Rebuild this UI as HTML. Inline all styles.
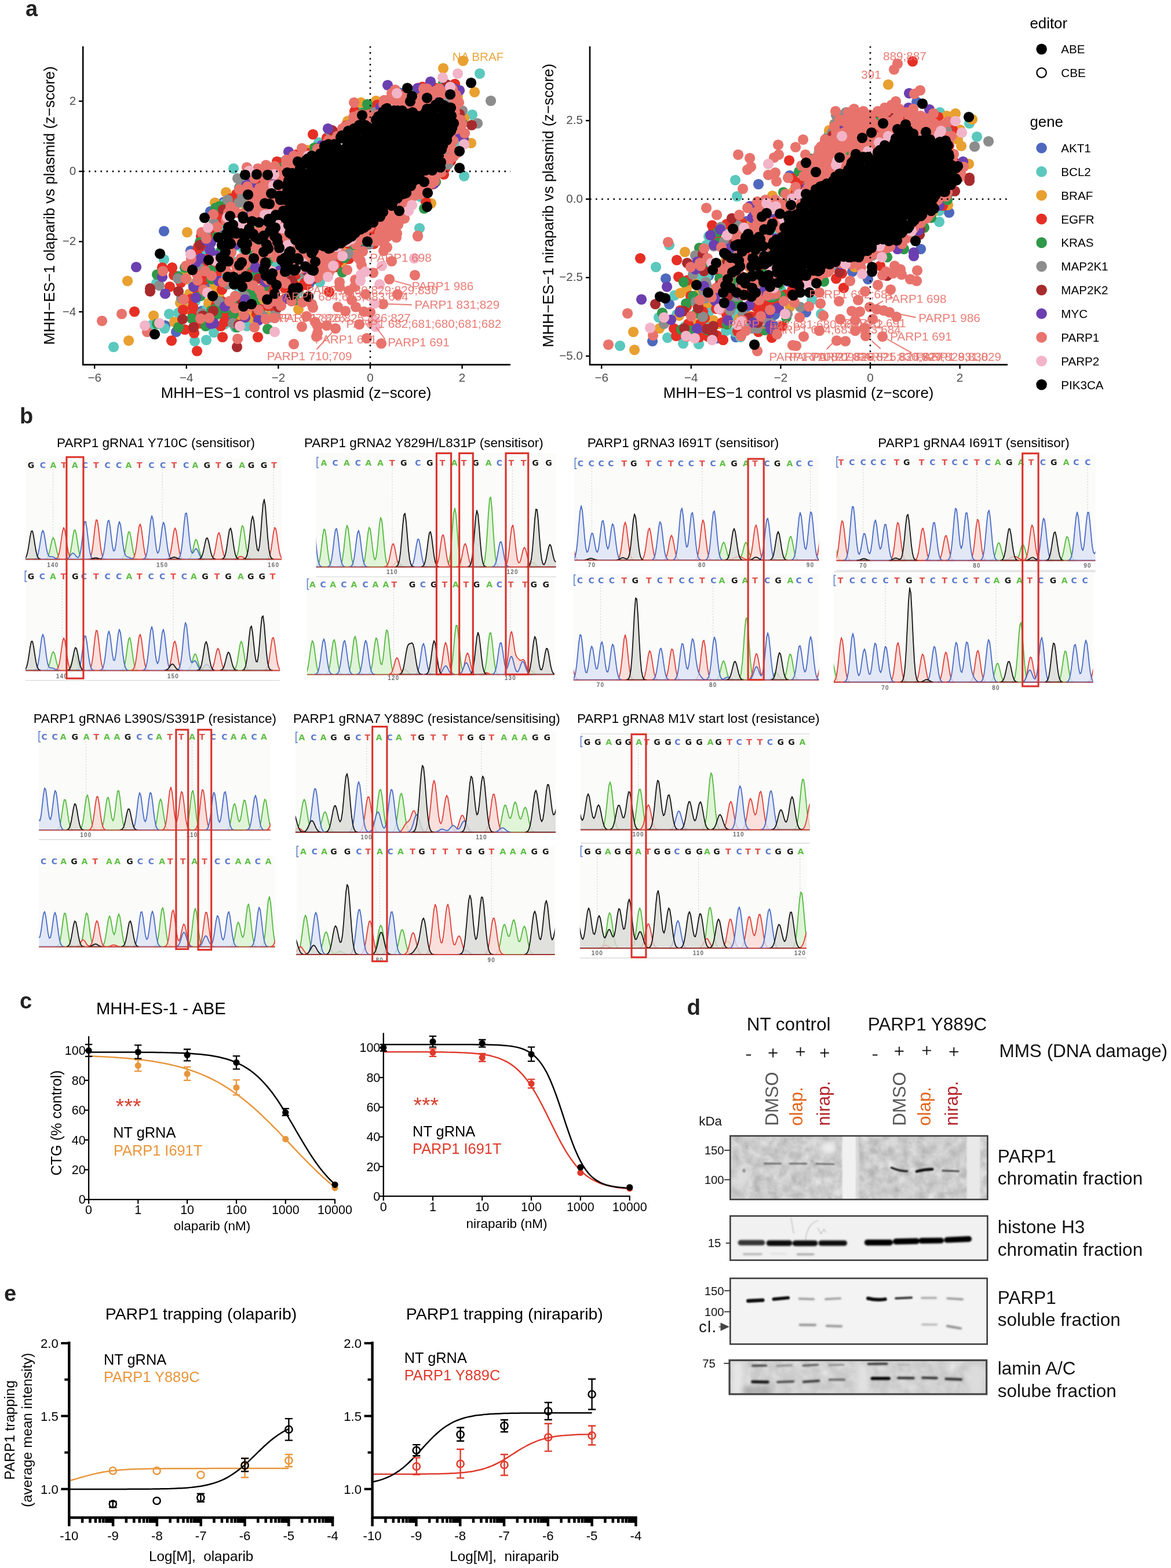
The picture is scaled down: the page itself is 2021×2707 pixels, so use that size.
<!DOCTYPE html>
<html lang="en"><head><meta charset="utf-8"><title>PARP1 base editing figure</title>
<style>
html,body{margin:0;padding:0;background:#fff}
body{width:2021px;height:2707px;overflow:hidden}
svg{display:block;font-family:"Liberation Sans", Arial, Helvetica, sans-serif}
.sq{font:bold 14px "DejaVu Sans","Liberation Sans",sans-serif;text-anchor:middle}
</style></head><body>
<svg width="2021" height="2707" viewBox="0 0 2021 2707">
<rect width="2021" height="2707" fill="#fff"/>
<text x="44.0" y="27.5" font-size="38" font-weight="bold" fill="#222">a</text>
<path d="M689 160h.1M351 438h.1M443 524h.1M358 488h.1M534 489h.1M348 537h.1M374 400h.1M408 524h.1M386 349h.1M363 365h.1M283 399h.1M329 433h.1M285 562h.1M304 573h.1M394 556h.1" stroke="#4e68be" stroke-width="18.2" stroke-linecap="round" fill="none"/>
<path d="M406 452h.1M388 476h.1M440 397h.1M485 280h.1M785 243h.1M454 452h.1M387 560h.1M627 185h.1M406 565h.1M378 436h.1M324 530h.1M360 436h.1M467 543h.1M337 520h.1M474 456h.1M787 255h.1M411 507h.1M357 533h.1M519 484h.1M399 519h.1M515 504h.1M420 430h.1M418 426h.1M429 447h.1M405 425h.1M421 466h.1M333 490h.1M353 443h.1M388 351h.1M726 340h.1M387 389h.1M468 548h.1M828 127h.1M815 198h.1M801 304h.1M550 246h.1M403 291h.1M283 448h.1M309 476h.1M270 489h.1M196 599h.1M292 542h.1M308 540h.1M262 561h.1M284 567h.1M336 589h.1M356 587h.1M369 574h.1M426 563h.1M724 394h.1M552 487h.1M724 394h.1" stroke="#5bc8be" stroke-width="18.2" stroke-linecap="round" fill="none"/>
<path d="M795 220h.1M412 546h.1M370 490h.1M590 429h.1M385 380h.1M530 259h.1M461 546h.1M343 559h.1M541 256h.1M432 540h.1M790 167h.1M607 426h.1M322 482h.1M437 542h.1M424 354h.1M590 454h.1M597 420h.1M452 516h.1M493 515h.1M317 519h.1M366 502h.1M321 472h.1M634 407h.1M448 394h.1M799 105h.1M765 118h.1M819 159h.1M813 247h.1M801 204h.1M623 177h.1M649 174h.1M600 209h.1M390 332h.1M371 350h.1M323 401h.1M220 485h.1M222 588h.1M265 545h.1M301 556h.1M322 534h.1M311 523h.1M436 549h.1M360 523h.1M378 512h.1M327 507h.1M515 534h.1M514 493h.1M744 351h.1" stroke="#e8a030" stroke-width="18.2" stroke-linecap="round" fill="none"/>
<path d="M464 311h.1M374 364h.1M476 535h.1M747 318h.1M374 473h.1M383 500h.1M506 490h.1M316 535h.1M370 405h.1M435 465h.1M768 291h.1M476 495h.1M778 278h.1M348 558h.1M330 516h.1M347 425h.1M352 483h.1M382 379h.1M406 367h.1M355 448h.1M484 421h.1M766 179h.1M456 457h.1M636 188h.1M384 521h.1M449 534h.1M597 217h.1M530 264h.1M462 528h.1M580 461h.1M339 436h.1M342 426h.1M491 497h.1M333 530h.1M461 499h.1M341 502h.1M585 450h.1M364 439h.1M716 156h.1M564 238h.1M517 496h.1M752 152h.1M408 335h.1M443 542h.1M532 485h.1M373 526h.1M642 396h.1M344 555h.1M602 421h.1M352 454h.1M602 447h.1M348 487h.1M575 227h.1M398 343h.1M312 488h.1M428 388h.1M512 267h.1M387 556h.1M333 442h.1M392 533h.1M371 461h.1M529 492h.1M578 450h.1M729 150h.1M785 145h.1M612 192h.1M651 181h.1M766 301h.1M692 164h.1M540 232h.1M347 408h.1M280 462h.1M297 462h.1M300 475h.1M293 495h.1M447 318h.1M478 279h.1M232 538h.1M296 588h.1M319 569h.1M333 542h.1M335 575h.1M340 606h.1M368 558h.1M381 563h.1M387 544h.1M384 582h.1M403 557h.1M445 582h.1M472 529h.1M568 504h.1M645 421h.1M643 394h.1M526 488h.1M511 474h.1M735 349h.1" stroke="#e52f25" stroke-width="18.2" stroke-linecap="round" fill="none"/>
<path d="M308 478h.1M444 474h.1M509 518h.1M412 528h.1M331 550h.1M711 159h.1M432 505h.1M437 516h.1M443 470h.1M595 445h.1M449 541h.1M611 423h.1M427 522h.1M626 195h.1M428 361h.1M379 356h.1M765 143h.1M437 487h.1M365 536h.1M439 440h.1M447 507h.1M625 430h.1M345 418h.1M382 432h.1M440 526h.1M319 462h.1M393 347h.1M456 495h.1M365 482h.1M437 451h.1M388 532h.1M364 467h.1M425 458h.1M413 324h.1M346 511h.1M752 314h.1M487 289h.1M374 532h.1M462 451h.1M452 323h.1M798 213h.1M634 180h.1M543 255h.1M372 359h.1M271 474h.1M375 408h.1M271 559h.1M308 565h.1M355 563h.1M374 543h.1M409 565h.1M462 568h.1M403 542h.1M591 470h.1M732 360h.1" stroke="#2f9849" stroke-width="18.2" stroke-linecap="round" fill="none"/>
<path d="M420 511h.1M355 504h.1M378 520h.1M765 164h.1M416 319h.1M475 544h.1M570 228h.1M602 438h.1M393 491h.1M573 443h.1M412 350h.1M419 495h.1M442 420h.1M499 478h.1M369 385h.1M456 358h.1M606 214h.1M355 402h.1M393 345h.1M307 481h.1M313 515h.1M637 422h.1M402 558h.1M455 546h.1M773 284h.1M775 264h.1M391 528h.1M775 177h.1M420 349h.1M418 339h.1M847 174h.1M798 191h.1M824 213h.1M646 194h.1M410 308h.1M336 448h.1M275 493h.1M344 462h.1M348 541h.1M422 511h.1M525 471h.1" stroke="#8c8c8c" stroke-width="18.2" stroke-linecap="round" fill="none"/>
<path d="M412 561h.1M541 481h.1M444 535h.1M368 537h.1M418 523h.1M465 419h.1M446 481h.1M777 149h.1M399 407h.1M529 467h.1M350 545h.1M480 530h.1M814 216h.1M573 225h.1M771 146h.1M793 197h.1M385 362h.1M345 423h.1M259 498h.1M504 485h.1M259 503h.1M308 503h.1M315 551h.1M334 565h.1M409 599h.1M503 484h.1" stroke="#a82a2d" stroke-width="18.2" stroke-linecap="round" fill="none"/>
<path d="M377 485h.1M369 558h.1M458 487h.1M774 153h.1M784 153h.1M433 315h.1M338 453h.1M472 304h.1M338 514h.1M693 352h.1M800 240h.1M438 325h.1M364 559h.1M785 232h.1M493 516h.1M483 467h.1M446 553h.1M624 433h.1M356 415h.1M423 548h.1M537 481h.1M408 422h.1M749 317h.1M528 464h.1M555 251h.1M743 141h.1M793 156h.1M669 147h.1M721 152h.1M566 222h.1M657 185h.1M750 162h.1M425 320h.1M364 419h.1M362 431h.1M347 446h.1M235 461h.1M280 478h.1M498 262h.1M433 371h.1M439 448h.1M441 462h.1M334 495h.1M373 441h.1M285 507h.1M388 529h.1M423 517h.1" stroke="#6b3fb0" stroke-width="18.2" stroke-linecap="round" fill="none"/>
<path d="M436 344h.1M600 217h.1M731 153h.1M567 472h.1M773 255h.1M625 198h.1M435 423h.1M448 325h.1M702 163h.1M782 168h.1M537 474h.1M443 439h.1M472 520h.1M687 388h.1M494 276h.1M482 475h.1M435 373h.1M448 335h.1M361 549h.1M356 412h.1M330 447h.1M787 164h.1M676 161h.1M562 437h.1M399 436h.1M507 432h.1M504 450h.1M476 444h.1M450 431h.1M444 366h.1M784 260h.1M434 354h.1M792 177h.1M548 257h.1M776 274h.1M394 367h.1M786 184h.1M341 484h.1M698 377h.1M467 467h.1M677 380h.1M452 510h.1M577 458h.1M354 468h.1M743 175h.1M588 442h.1M416 446h.1M408 460h.1M477 435h.1M434 332h.1M646 413h.1M421 458h.1M785 194h.1M548 479h.1M610 202h.1M485 480h.1M558 465h.1M417 369h.1M715 323h.1M464 428h.1M657 410h.1M494 283h.1M457 425h.1M783 161h.1M471 411h.1M568 465h.1M399 452h.1M789 264h.1M453 448h.1M676 397h.1M699 169h.1M619 438h.1M459 551h.1M777 234h.1M427 322h.1M545 473h.1M459 438h.1M480 423h.1M597 218h.1M463 525h.1M430 410h.1M703 343h.1M384 450h.1M396 520h.1M521 463h.1M614 422h.1M406 511h.1M587 436h.1M572 464h.1M413 413h.1M550 265h.1M781 154h.1M431 529h.1M503 422h.1M615 420h.1M428 490h.1M788 178h.1M679 358h.1M424 455h.1M442 401h.1M389 464h.1M503 520h.1M737 307h.1M431 405h.1M457 407h.1M636 198h.1M577 439h.1M493 489h.1M568 456h.1M506 447h.1M603 416h.1M649 416h.1M459 297h.1M464 334h.1M765 159h.1M580 239h.1M566 447h.1M582 235h.1M618 199h.1M709 325h.1M726 335h.1M552 439h.1M676 375h.1M458 317h.1M491 388h.1M715 338h.1M479 379h.1M671 172h.1M675 380h.1M612 212h.1M458 397h.1M696 358h.1M634 205h.1M638 392h.1M682 174h.1M616 417h.1M677 163h.1M698 340h.1M683 372h.1M730 177h.1M666 380h.1M535 444h.1M729 188h.1M621 203h.1M502 421h.1M616 209h.1M795 207h.1M484 432h.1M585 426h.1M730 196h.1M758 153h.1M674 393h.1M762 297h.1M663 397h.1M782 259h.1M760 160h.1M754 301h.1M778 249h.1M739 168h.1M662 180h.1M616 413h.1M748 161h.1M698 366h.1M475 343h.1M661 392h.1M737 326h.1M638 414h.1M480 340h.1M482 306h.1M699 351h.1M519 269h.1M472 362h.1M689 371h.1M782 243h.1M529 454h.1M752 157h.1M505 440h.1M654 386h.1M488 328h.1M486 296h.1M729 167h.1M475 330h.1M737 153h.1M647 204h.1M520 441h.1M591 222h.1M484 296h.1M771 274h.1M641 219h.1M680 349h.1M714 181h.1M466 367h.1M449 361h.1M624 413h.1M494 430h.1M556 444h.1M553 457h.1M718 195h.1M483 355h.1M740 180h.1M660 377h.1M737 183h.1M716 177h.1M494 313h.1M522 438h.1M787 223h.1M483 396h.1M505 286h.1M546 440h.1M439 308h.1M653 198h.1M705 186h.1M451 356h.1M498 280h.1M622 213h.1M559 455h.1M453 373h.1M451 342h.1M704 180h.1M491 408h.1M513 271h.1M723 335h.1M545 451h.1M455 306h.1M797 214h.1M693 180h.1M494 412h.1M461 305h.1M497 285h.1M631 408h.1M686 180h.1M667 361h.1M460 346h.1M459 324h.1M568 430h.1M735 305h.1M696 167h.1M663 173h.1M727 323h.1M613 483h.1M639 539h.1M602 502h.1M538 525h.1M529 546h.1M540 531h.1M662 433h.1M546 581h.1M544 556h.1M564 562h.1M624 458h.1M676 451h.1M682 155h.1M684 172h.1M611 177h.1M802 230h.1M783 270h.1M750 313h.1M734 158h.1M764 162h.1M567 242h.1M789 205h.1M746 316h.1M717 335h.1M426 289h.1M413 327h.1M398 357h.1M368 370h.1M390 381h.1M348 401h.1M375 392h.1M281 468h.1M321 459h.1M321 481h.1M459 285h.1M474 287h.1M445 291h.1M521 256h.1M507 269h.1M468 330h.1M447 347h.1M406 365h.1M340 474h.1M365 476h.1M385 487h.1M406 456h.1M426 448h.1M416 466h.1M437 493h.1M398 474h.1M478 493h.1M463 483h.1M176 554h.1M210 542h.1M254 573h.1M317 517h.1M346 550h.1M410 585h.1M439 565h.1M474 549h.1M446 535h.1M421 544h.1M397 520h.1M406 532h.1M485 528h.1M479 517h.1M351 500h.1M448 501h.1M459 511h.1M721 407h.1M716 475h.1M672 482h.1M686 508h.1M661 525h.1M644 471h.1M658 593h.1M644 558h.1M620 560h.1M633 584h.1M579 567h.1M548 563h.1M548 575h.1M521 564h.1M507 594h.1M628 538h.1M614 530h.1M607 518h.1M583 530h.1M596 537h.1M631 508h.1M612 495h.1M586 487h.1M586 495h.1M622 450h.1M617 444h.1M626 434h.1M599 466h.1M555 474h.1M655 402h.1M668 409h.1M684 410h.1M663 421h.1M668 427h.1M676 402h.1M522 522h.1M721 408h.1M685 403h.1M669 408h.1M656 400h.1M694 378h.1M681 375h.1" stroke="#e8736c" stroke-width="18.2" stroke-linecap="round" fill="none"/>
<path d="M582 426h.1M467 370h.1M430 295h.1M685 161h.1M392 375h.1M497 423h.1M473 301h.1M532 269h.1M476 381h.1M522 454h.1M648 564h.1M647 554h.1M790 127h.1M764 134h.1M801 249h.1M777 150h.1M359 393h.1M329 439h.1M417 387h.1M472 320h.1M457 371h.1M371 450h.1M484 429h.1M468 468h.1M488 394h.1M513 464h.1M533 481h.1M250 562h.1M275 558h.1M414 563h.1M474 573h.1M358 505h.1M715 446h.1M659 459h.1M655 491h.1M646 524h.1M631 469h.1M623 474h.1M622 485h.1M575 459h.1M566 478h.1M534 482h.1M606 413h.1M598 417h.1M591 442h.1M711 354h.1M705 364h.1" stroke="#f2b4c8" stroke-width="18.2" stroke-linecap="round" fill="none"/>
<path d="M511 394L526 413L546 419L571 415L621 382L647 367L663 349L685 333L725 285L730 282L747 275L749 256L764 227L768 213L762 193L760 192L751 197L707 207L670 202L652 220L601 242L526 293L513 307L508 323L504 370L511 394z" fill="#000"/>
<path d="M641 222h.1M638 223h.1M727 200h.1M700 319h.1M564 264h.1M574 265h.1M580 256h.1M769 213h.1M669 347h.1M764 220h.1M573 411h.1M551 413h.1M565 269h.1M702 307h.1M757 220h.1M760 209h.1M621 380h.1M585 403h.1M651 220h.1M656 349h.1M503 354h.1M766 233h.1M719 200h.1M707 305h.1M677 209h.1M748 275h.1M507 346h.1M733 283h.1M756 241h.1M760 236h.1M649 229h.1M646 354h.1M723 290h.1M643 232h.1M728 274h.1M571 407h.1M498 389h.1M769 234h.1M667 352h.1M614 392h.1M497 362h.1M570 428h.1M754 267h.1M723 309h.1M537 421h.1M661 193h.1M762 258h.1M696 329h.1M589 411h.1M770 232h.1M714 307h.1M591 414h.1M503 404h.1M529 276h.1M518 290h.1M764 251h.1M735 193h.1M724 308h.1M644 384h.1M642 375h.1M719 302h.1M622 396h.1M648 375h.1M506 315h.1M753 275h.1M756 254h.1M653 201h.1M728 292h.1M663 197h.1M713 313h.1M516 296h.1M752 181h.1M498 383h.1M724 307h.1M655 366h.1M679 347h.1M588 237h.1M778 226h.1M616 394h.1M686 191h.1M559 425h.1M679 345h.1M518 424h.1M573 419h.1M628 390h.1M766 182h.1M567 429h.1M651 213h.1M549 269h.1M501 334h.1M519 289h.1M496 371h.1M686 342h.1M779 200h.1M761 280h.1M593 416h.1M656 374h.1M498 312h.1M554 423h.1M605 398h.1M666 188h.1M699 325h.1M496 330h.1M592 239h.1M780 221h.1M630 216h.1M504 390h.1M753 282h.1M642 381h.1M667 192h.1M601 411h.1M679 191h.1M712 194h.1M590 234h.1M741 288h.1M763 186h.1M757 269h.1M603 234h.1M520 413h.1M734 294h.1M593 406h.1M674 196h.1M588 420h.1M496 380h.1M701 333h.1M738 291h.1M493 336h.1M737 188h.1M771 185h.1M541 432h.1M634 382h.1M495 321h.1M567 421h.1M708 201h.1M501 324h.1M689 198h.1M502 399h.1M526 418h.1M660 204h.1M530 419h.1M622 224h.1M717 309h.1M679 191h.1M611 222h.1M503 385h.1M758 286h.1M592 414h.1M683 343h.1M492 345h.1M538 269h.1M500 402h.1M536 426h.1M770 196h.1M754 257h.1M753 186h.1M560 252h.1M707 196h.1M498 320h.1M776 199h.1M661 200h.1M742 188h.1M694 194h.1M613 230h.1M501 375h.1M709 321h.1M574 421h.1M553 265h.1M661 366h.1M747 191h.1M742 289h.1M759 260h.1M615 398h.1M695 335h.1M577 424h.1M633 389h.1M505 397h.1M523 420h.1M778 209h.1M607 408h.1M676 355h.1M688 335h.1M697 202h.1M598 405h.1M735 290h.1M577 249h.1M598 413h.1M698 334h.1M630 391h.1M775 202h.1M765 241h.1M628 393h.1M531 274h.1M694 191h.1M602 231h.1M499 342h.1M504 299h.1M540 278h.1M510 414h.1M514 405h.1M530 282h.1M508 308h.1M613 402h.1M622 395h.1M744 194h.1M676 349h.1M496 342h.1M536 274h.1M597 235h.1M629 222h.1M745 188h.1M639 378h.1M613 227h.1M770 202h.1M469 334h.1M509 501h.1M402 388h.1M479 418h.1M455 407h.1M406 400h.1M492 469h.1M463 383h.1M468 334h.1M492 445h.1M527 460h.1M470 472h.1M393 409h.1M514 497h.1M424 477h.1M460 422h.1M475 393h.1M445 412h.1M489 364h.1M486 449h.1M423 408h.1M394 392h.1M541 467h.1M523 429h.1M381 445h.1M478 411h.1M397 373h.1M477 492h.1M482 338h.1M393 478h.1M468 483h.1M508 467h.1M438 446h.1M474 507h.1M461 517h.1M458 453h.1M503 509h.1M510 465h.1M417 453h.1M483 371h.1M420 377h.1M419 374h.1M430 395h.1M416 482h.1M403 478h.1M440 409h.1M482 428h.1M418 420h.1M501 447h.1M377 410h.1M506 498h.1M466 399h.1M464 378h.1M469 393h.1M497 454h.1M813 143h.1M703 152h.1M777 163h.1M737 169h.1M711 166h.1M708 175h.1M758 177h.1M778 186h.1M793 261h.1M793 290h.1M625 199h.1M567 249h.1M580 252h.1M601 226h.1M732 314h.1M738 333h.1M668 187h.1M680 191h.1M649 207h.1M620 216h.1M783 213h.1M773 232h.1M771 242h.1M756 263h.1M760 289h.1M746 294h.1M423 302h.1M443 301h.1M462 302h.1M428 336h.1M429 356h.1M353 376h.1M276 438h.1M360 449h.1M332 466h.1M381 461h.1M394 451h.1M413 458h.1M404 491h.1M427 478h.1M418 495h.1M458 457h.1M459 476h.1M455 466h.1M492 456h.1M494 468h.1M515 448h.1M499 436h.1M538 437h.1M538 466h.1M383 423h.1M389 435h.1M391 403h.1M408 403h.1M416 403h.1M398 421h.1M424 431h.1M426 421h.1M437 404h.1M447 413h.1M435 382h.1M447 384h.1M457 351h.1M465 352h.1M480 319h.1M484 345h.1M496 298h.1M497 316h.1M514 279h.1M463 429h.1M455 435h.1M474 408h.1M468 378h.1M476 371h.1M492 376h.1M267 577h.1M420 529h.1M434 525h.1M367 511h.1M634 417h.1M532 512h.1M538 465h.1M544 452h.1M514 446h.1M493 455h.1M501 434h.1M493 466h.1M737 357h.1M689 364h.1" stroke="#000" stroke-width="18.2" stroke-linecap="round" fill="none"/>
<path d="M1301 371h.1M1288 382h.1M1335 562h.1M1227 530h.1M1331 548h.1M1237 584h.1M1286 541h.1M1223 476h.1M1582 176h.1M1309 318h.1M1363 303h.1M1149 481h.1M1155 525h.1M1126 589h.1M1207 570h.1M1176 578h.1M1270 582h.1M1314 516h.1M1337 543h.1M1498 482h.1M1471 469h.1M1391 539h.1M1638 367h.1M1589 430h.1" stroke="#4e68be" stroke-width="18.2" stroke-linecap="round" fill="none"/>
<path d="M1242 474h.1M1337 401h.1M1338 394h.1M1348 501h.1M1359 341h.1M1344 410h.1M1431 230h.1M1413 264h.1M1571 402h.1M1443 458h.1M1268 573h.1M1301 516h.1M1219 478h.1M1219 423h.1M1256 405h.1M1264 547h.1M1168 543h.1M1226 500h.1M1278 582h.1M1223 408h.1M1225 553h.1M1290 560h.1M1195 514h.1M1210 475h.1M1249 507h.1M1673 213h.1M1686 236h.1M1622 194h.1M1269 311h.1M1272 339h.1M1155 423h.1M1132 461h.1M1164 510h.1M1070 597h.1M1152 583h.1M1179 593h.1M1206 594h.1M1182 564h.1M1224 537h.1M1137 548h.1M1269 572h.1M1326 565h.1M1253 571h.1M1269 538h.1M1207 478h.1M1417 542h.1M1401 518h.1M1621 383h.1M1621 364h.1" stroke="#5bc8be" stroke-width="18.2" stroke-linecap="round" fill="none"/>
<path d="M1369 331h.1M1431 225h.1M1295 463h.1M1609 368h.1M1447 222h.1M1295 477h.1M1440 214h.1M1231 553h.1M1221 523h.1M1199 489h.1M1253 448h.1M1174 506h.1M1281 569h.1M1276 550h.1M1205 559h.1M1314 551h.1M1203 526h.1M1533 146h.1M1649 196h.1M1678 206h.1M1657 224h.1M1659 252h.1M1653 241h.1M1672 283h.1M1634 200h.1M1333 338h.1M1296 388h.1M1182 435h.1M1093 573h.1M1095 604h.1M1138 567h.1M1172 545h.1M1185 498h.1M1199 565h.1M1207 505h.1M1240 559h.1M1295 546h.1M1363 530h.1M1475 461h.1M1636 354h.1" stroke="#e8a030" stroke-width="18.2" stroke-linecap="round" fill="none"/>
<path d="M1564 200h.1M1388 481h.1M1456 198h.1M1374 331h.1M1336 500h.1M1646 279h.1M1284 503h.1M1361 349h.1M1518 221h.1M1638 251h.1M1384 313h.1M1293 509h.1M1341 381h.1M1441 453h.1M1293 435h.1M1508 200h.1M1443 216h.1M1422 264h.1M1332 436h.1M1245 473h.1M1294 511h.1M1250 558h.1M1222 581h.1M1213 538h.1M1192 511h.1M1367 501h.1M1305 530h.1M1185 529h.1M1216 549h.1M1236 408h.1M1350 563h.1M1186 484h.1M1297 547h.1M1355 509h.1M1309 573h.1M1273 572h.1M1306 550h.1M1298 395h.1M1174 536h.1M1236 533h.1M1332 520h.1M1237 522h.1M1318 466h.1M1316 536h.1M1318 527h.1M1575 106h.1M1619 202h.1M1644 224h.1M1362 277h.1M1229 389h.1M1254 387h.1M1280 384h.1M1368 308h.1M1231 399h.1M1105 446h.1M1168 449h.1M1171 478h.1M1163 567h.1M1167 580h.1M1188 559h.1M1209 559h.1M1205 529h.1M1207 582h.1M1237 579h.1M1248 587h.1M1310 572h.1M1332 583h.1M1309 534h.1M1254 543h.1M1246 557h.1M1337 524h.1M1456 497h.1M1519 459h.1M1443 481h.1M1453 472h.1M1627 355h.1" stroke="#e52f25" stroke-width="18.2" stroke-linecap="round" fill="none"/>
<path d="M1321 473h.1M1467 269h.1M1364 342h.1M1519 209h.1M1268 485h.1M1336 435h.1M1345 491h.1M1399 274h.1M1270 406h.1M1637 333h.1M1335 390h.1M1320 570h.1M1347 511h.1M1176 569h.1M1196 511h.1M1221 570h.1M1334 513h.1M1202 541h.1M1255 560h.1M1184 524h.1M1191 571h.1M1321 550h.1M1216 463h.1M1239 400h.1M1379 296h.1M1352 332h.1M1207 428h.1M1180 487h.1M1143 540h.1M1242 481h.1M1273 518h.1M1265 526h.1M1330 513h.1M1357 548h.1M1240 419h.1M1422 486h.1M1531 444h.1M1635 345h.1M1607 376h.1M1595 393h.1M1560 430h.1" stroke="#2f9849" stroke-width="18.2" stroke-linecap="round" fill="none"/>
<path d="M1506 211h.1M1395 319h.1M1441 214h.1M1277 476h.1M1289 450h.1M1443 199h.1M1460 194h.1M1436 229h.1M1451 208h.1M1426 239h.1M1200 441h.1M1359 542h.1M1219 491h.1M1214 501h.1M1260 536h.1M1319 510h.1M1267 431h.1M1232 425h.1M1278 493h.1M1311 433h.1M1282 542h.1M1307 554h.1M1201 521h.1M1260 418h.1M1312 488h.1M1271 512h.1M1244 392h.1M1250 417h.1M1307 567h.1M1215 505h.1M1706 244h.1M1682 253h.1M1634 225h.1M1273 389h.1M1196 474h.1M1205 444h.1M1218 487h.1M1217 515h.1M1213 547h.1M1146 559h.1M1254 471h.1M1298 567h.1M1327 555h.1M1333 509h.1M1506 441h.1M1381 530h.1" stroke="#8c8c8c" stroke-width="18.2" stroke-linecap="round" fill="none"/>
<path d="M1503 218h.1M1437 234h.1M1391 478h.1M1375 492h.1M1534 194h.1M1266 421h.1M1255 452h.1M1321 375h.1M1383 328h.1M1377 329h.1M1436 241h.1M1281 493h.1M1231 577h.1M1308 557h.1M1231 563h.1M1181 567h.1M1213 439h.1M1291 549h.1M1242 492h.1M1247 524h.1M1220 568h.1M1213 442h.1M1673 307h.1M1263 377h.1M1186 454h.1M1131 525h.1M1180 537h.1M1205 532h.1M1215 468h.1M1256 511h.1M1449 470h.1M1531 476h.1M1673 312h.1M1648 330h.1M1588 396h.1M1587 405h.1" stroke="#a82a2d" stroke-width="18.2" stroke-linecap="round" fill="none"/>
<path d="M1403 296h.1M1332 367h.1M1260 428h.1M1338 412h.1M1451 456h.1M1348 410h.1M1360 486h.1M1455 226h.1M1203 567h.1M1260 528h.1M1329 562h.1M1330 568h.1M1278 448h.1M1215 494h.1M1344 532h.1M1300 557h.1M1277 508h.1M1238 506h.1M1173 539h.1M1200 465h.1M1327 541h.1M1569 161h.1M1604 189h.1M1568 186h.1M1662 279h.1M1294 356h.1M1298 376h.1M1243 396h.1M1226 406h.1M1392 325h.1M1107 517h.1M1151 495h.1M1232 423h.1M1203 452h.1M1158 552h.1M1256 553h.1M1293 527h.1M1341 532h.1M1318 503h.1M1234 519h.1M1577 442h.1M1621 355h.1M1585 398h.1M1549 430h.1M1577 436h.1" stroke="#6b3fb0" stroke-width="18.2" stroke-linecap="round" fill="none"/>
<path d="M1417 253h.1M1277 436h.1M1308 375h.1M1397 276h.1M1397 310h.1M1440 219h.1M1557 421h.1M1292 394h.1M1283 510h.1M1271 412h.1M1414 258h.1M1292 451h.1M1282 437h.1M1257 484h.1M1464 194h.1M1400 297h.1M1282 494h.1M1259 456h.1M1451 454h.1M1311 359h.1M1443 228h.1M1536 426h.1M1334 474h.1M1307 387h.1M1374 338h.1M1347 351h.1M1615 348h.1M1408 280h.1M1300 431h.1M1325 411h.1M1294 488h.1M1394 285h.1M1394 294h.1M1291 459h.1M1349 369h.1M1312 365h.1M1306 484h.1M1346 354h.1M1456 256h.1M1437 255h.1M1306 509h.1M1323 425h.1M1606 368h.1M1323 385h.1M1426 242h.1M1352 373h.1M1301 496h.1M1299 474h.1M1392 300h.1M1313 409h.1M1517 216h.1M1457 208h.1M1466 243h.1M1530 192h.1M1309 392h.1M1347 482h.1M1597 204h.1M1247 488h.1M1423 247h.1M1471 273h.1M1643 273h.1M1577 394h.1M1243 534h.1M1227 510h.1M1257 478h.1M1208 454h.1M1310 518h.1M1325 510h.1M1256 469h.1M1245 464h.1M1277 475h.1M1208 518h.1M1316 442h.1M1362 355h.1M1633 235h.1M1529 191h.1M1485 251h.1M1433 459h.1M1421 273h.1M1448 258h.1M1570 203h.1M1572 205h.1M1456 239h.1M1492 265h.1M1555 417h.1M1434 267h.1M1470 251h.1M1423 298h.1M1456 229h.1M1403 305h.1M1578 387h.1M1470 456h.1M1347 384h.1M1442 249h.1M1525 204h.1M1525 430h.1M1407 310h.1M1540 417h.1M1602 373h.1M1420 275h.1M1490 247h.1M1628 241h.1M1536 213h.1M1397 479h.1M1589 385h.1M1435 284h.1M1415 288h.1M1611 247h.1M1656 306h.1M1447 250h.1M1476 200h.1M1438 306h.1M1347 396h.1M1473 261h.1M1583 382h.1M1448 451h.1M1361 359h.1M1419 283h.1M1619 345h.1M1496 246h.1M1464 221h.1M1658 299h.1M1594 207h.1M1506 439h.1M1470 255h.1M1351 406h.1M1545 188h.1M1506 212h.1M1588 219h.1M1605 215h.1M1452 258h.1M1418 275h.1M1473 254h.1M1413 477h.1M1449 295h.1M1579 384h.1M1524 232h.1M1451 450h.1M1462 205h.1M1637 246h.1M1478 265h.1M1405 298h.1M1586 201h.1M1523 197h.1M1484 270h.1M1505 230h.1M1545 206h.1M1441 272h.1M1615 344h.1M1395 324h.1M1494 209h.1M1480 201h.1M1493 226h.1M1427 273h.1M1577 209h.1M1501 198h.1M1431 467h.1M1426 307h.1M1433 290h.1M1645 315h.1M1398 317h.1M1633 339h.1M1432 459h.1M1487 244h.1M1413 321h.1M1533 419h.1M1486 451h.1M1612 213h.1M1371 365h.1M1504 241h.1M1498 446h.1M1515 436h.1M1629 336h.1M1391 330h.1M1604 222h.1M1575 202h.1M1593 218h.1M1428 470h.1M1413 307h.1M1472 242h.1M1491 241h.1M1589 232h.1M1419 289h.1M1514 268h.1M1468 215h.1M1471 216h.1M1496 201h.1M1429 291h.1M1542 209h.1M1492 241h.1M1524 223h.1M1423 471h.1M1496 214h.1M1474 252h.1M1538 227h.1M1502 207h.1M1455 449h.1M1407 478h.1M1423 460h.1M1461 277h.1M1456 290h.1M1493 237h.1M1550 203h.1M1516 239h.1M1574 221h.1M1592 379h.1M1494 254h.1M1652 286h.1M1541 212h.1M1599 377h.1M1423 460h.1M1612 226h.1M1511 254h.1M1516 245h.1M1465 224h.1M1479 232h.1M1522 236h.1M1494 239h.1M1635 332h.1M1613 230h.1M1481 451h.1M1468 238h.1M1603 235h.1M1497 215h.1M1620 337h.1M1461 238h.1M1552 212h.1M1535 215h.1M1502 201h.1M1526 220h.1M1413 311h.1M1437 273h.1M1412 290h.1M1346 392h.1M1578 382h.1M1645 296h.1M1513 259h.1M1483 452h.1M1454 272h.1M1501 430h.1M1482 238h.1M1589 223h.1M1351 393h.1M1580 199h.1M1498 225h.1M1592 227h.1M1378 349h.1M1549 110h.1M1543 120h.1M1588 156h.1M1578 162h.1M1442 192h.1M1449 207h.1M1474 188h.1M1490 192h.1M1470 198h.1M1546 175h.1M1539 181h.1M1527 186h.1M1515 192h.1M1552 188h.1M1564 194h.1M1576 188h.1M1589 200h.1M1605 204h.1M1611 196h.1M1461 212h.1M1482 216h.1M1455 231h.1M1441 239h.1M1424 241h.1M1426 256h.1M1636 210h.1M1626 216h.1M1642 235h.1M1646 266h.1M1663 288h.1M1386 241h.1M1343 250h.1M1373 254h.1M1390 267h.1M1274 267h.1M1294 273h.1M1296 288h.1M1290 293h.1M1336 272h.1M1344 267h.1M1326 302h.1M1338 298h.1M1340 313h.1M1360 307h.1M1282 326h.1M1219 359h.1M1237 371h.1M1290 359h.1M1276 371h.1M1414 257h.1M1410 271h.1M1383 286h.1M1387 304h.1M1373 323h.1M1356 335h.1M1321 345h.1M1307 348h.1M1338 345h.1M1305 366h.1M1383 353h.1M1346 356h.1M1274 403h.1M1301 397h.1M1153 418h.1M1083 541h.1M1050 595h.1M1127 579h.1M1193 546h.1M1185 581h.1M1307 606h.1M1279 580h.1M1287 571h.1M1341 577h.1M1329 535h.1M1313 546h.1M1368 596h.1M1192 461h.1M1209 459h.1M1215 429h.1M1245 427h.1M1221 446h.1M1236 497h.1M1228 513h.1M1281 553h.1M1353 520h.1M1339 507h.1M1256 476h.1M1267 458h.1M1544 459h.1M1554 465h.1M1529 469h.1M1523 475h.1M1541 472h.1M1556 474h.1M1571 482h.1M1582 485h.1M1583 467h.1M1515 492h.1M1537 500h.1M1493 503h.1M1467 485h.1M1481 518h.1M1448 520h.1M1416 524h.1M1501 530h.1M1470 537h.1M1484 538h.1M1513 534h.1M1525 536h.1M1535 539h.1M1547 547h.1M1506 551h.1M1476 553h.1M1450 551h.1M1421 545h.1M1380 548h.1M1414 571h.1M1387 581h.1M1374 597h.1M1444 588h.1M1459 589h.1M1476 571h.1M1494 580h.1M1523 581h.1M1492 567h.1M1396 529h.1M1371 522h.1M1414 505h.1M1486 462h.1M1619 338h.1M1590 374h.1M1565 411h.1M1531 428h.1" stroke="#e8736c" stroke-width="18.2" stroke-linecap="round" fill="none"/>
<path d="M1339 356h.1M1520 420h.1M1445 278h.1M1528 247h.1M1453 235h.1M1621 232h.1M1531 249h.1M1331 467h.1M1319 441h.1M1184 580h.1M1273 561h.1M1518 425h.1M1517 246h.1M1592 241h.1M1649 209h.1M1624 226h.1M1660 229h.1M1533 235h.1M1498 261h.1M1443 285h.1M1326 283h.1M1379 335h.1M1367 343h.1M1323 351h.1M1333 361h.1M1284 393h.1M1255 406h.1M1352 378h.1M1146 548h.1M1122 566h.1M1199 584h.1M1229 587h.1M1241 533h.1M1355 542h.1M1279 555h.1M1335 497h.1M1228 454h.1M1522 444h.1M1488 473h.1M1459 456h.1M1393 491h.1M1573 399h.1" stroke="#f2b4c8" stroke-width="18.2" stroke-linecap="round" fill="none"/>
<path d="M1561 235L1557 238L1547 254L1530 263L1516 279L1509 282L1482 284L1473 289L1454 315L1436 328L1421 332L1411 343L1386 375L1380 378L1374 380L1373 393L1361 411L1353 426L1350 445L1353 463L1359 471L1367 472L1405 455L1441 437L1482 427L1508 408L1544 400L1552 387L1566 379L1569 371L1573 366L1598 353L1598 339L1602 331L1607 326L1627 317L1634 310L1632 299L1635 289L1627 277L1622 260L1620 258L1598 256L1593 252L1588 246L1579 247L1572 245L1561 235z" fill="#000"/>
<path d="M1340 414h.1M1270 467h.1M1299 446h.1M1317 481h.1M1312 413h.1M1310 409h.1M1256 482h.1M1326 475h.1M1250 437h.1M1341 470h.1M1333 441h.1M1274 422h.1M1277 422h.1M1320 456h.1M1299 416h.1M1328 397h.1M1300 446h.1M1305 413h.1M1298 477h.1M1319 442h.1M1304 505h.1M1320 482h.1M1279 483h.1M1270 446h.1M1289 421h.1M1310 474h.1M1284 479h.1M1297 460h.1M1335 418h.1M1295 426h.1M1320 485h.1M1329 495h.1M1254 440h.1M1307 420h.1M1286 489h.1M1317 425h.1M1328 397h.1M1281 434h.1M1330 393h.1M1305 451h.1M1284 509h.1M1287 410h.1M1523 270h.1M1587 243h.1M1526 275h.1M1515 282h.1M1525 264h.1M1514 283h.1M1588 244h.1M1625 273h.1M1637 285h.1M1526 262h.1M1358 407h.1M1439 437h.1M1429 436h.1M1560 372h.1M1633 289h.1M1385 372h.1M1392 373h.1M1628 290h.1M1436 436h.1M1439 321h.1M1606 259h.1M1390 376h.1M1453 439h.1M1460 429h.1M1628 269h.1M1595 248h.1M1467 305h.1M1560 370h.1M1632 309h.1M1544 394h.1M1455 314h.1M1353 416h.1M1619 283h.1M1556 381h.1M1433 434h.1M1368 402h.1M1521 407h.1M1629 319h.1M1356 464h.1M1411 452h.1M1577 243h.1M1499 408h.1M1621 262h.1M1419 444h.1M1595 332h.1M1375 460h.1M1374 400h.1M1358 421h.1M1385 458h.1M1629 292h.1M1394 371h.1M1467 444h.1M1525 412h.1M1639 300h.1M1567 225h.1M1637 266h.1M1339 449h.1M1363 392h.1M1515 263h.1M1641 319h.1M1650 290h.1M1509 415h.1M1369 383h.1M1507 277h.1M1578 380h.1M1381 474h.1M1409 337h.1M1642 300h.1M1376 481h.1M1524 413h.1M1561 227h.1M1484 278h.1M1539 254h.1M1499 421h.1M1390 349h.1M1465 444h.1M1500 277h.1M1362 385h.1M1340 422h.1M1438 312h.1M1642 285h.1M1478 277h.1M1537 254h.1M1404 467h.1M1551 405h.1M1611 342h.1M1575 378h.1M1564 389h.1M1534 416h.1M1364 476h.1M1648 311h.1M1375 370h.1M1407 336h.1M1498 271h.1M1474 443h.1M1575 231h.1M1341 463h.1M1617 328h.1M1475 281h.1M1345 429h.1M1634 254h.1M1350 409h.1M1615 336h.1M1630 322h.1M1550 242h.1M1513 414h.1M1529 409h.1M1342 440h.1M1475 279h.1M1404 466h.1M1363 482h.1M1375 476h.1M1608 250h.1M1399 352h.1M1472 279h.1M1343 465h.1M1427 317h.1M1538 414h.1M1456 443h.1M1649 308h.1M1643 290h.1M1338 434h.1M1342 453h.1M1340 451h.1M1491 427h.1M1462 438h.1M1531 258h.1M1401 342h.1M1602 361h.1M1362 372h.1M1446 306h.1M1591 371h.1M1470 281h.1M1358 484h.1M1356 479h.1M1622 330h.1M1454 301h.1M1409 462h.1M1388 359h.1M1593 242h.1M1427 318h.1M1388 473h.1M1566 234h.1M1464 293h.1M1469 285h.1M1416 322h.1M1647 288h.1M1627 259h.1M1490 271h.1M1651 311h.1M1349 424h.1M1606 337h.1M1504 428h.1M1487 272h.1M1479 433h.1M1567 394h.1M1501 424h.1M1498 423h.1M1556 225h.1M1590 362h.1M1575 234h.1M1604 342h.1M1628 330h.1M1437 315h.1M1544 407h.1M1415 466h.1M1343 424h.1M1466 441h.1M1388 357h.1M1519 259h.1M1607 339h.1M1346 421h.1M1555 232h.1M1557 393h.1M1401 465h.1M1455 442h.1M1383 358h.1M1565 394h.1M1416 327h.1M1411 326h.1M1589 363h.1M1577 368h.1M1624 252h.1M1364 483h.1M1544 246h.1M1419 327h.1M1442 452h.1M1423 455h.1M1611 330h.1M1589 373h.1M1497 433h.1M1340 448h.1M1431 317h.1M1416 326h.1M1602 352h.1M1417 456h.1M1539 408h.1M1557 394h.1M1468 437h.1M1436 449h.1M1344 465h.1M1420 321h.1M1363 398h.1M1408 327h.1M1371 372h.1M1612 250h.1M1580 377h.1M1492 428h.1M1629 331h.1M1598 242h.1M1343 441h.1M1347 473h.1M1361 376h.1M1609 356h.1M1610 341h.1M1602 245h.1M1396 341h.1M1499 278h.1M1343 444h.1M1482 435h.1M1479 274h.1M1629 267h.1M1376 474h.1M1486 436h.1M1431 323h.1M1372 376h.1M1472 284h.1M1556 402h.1M1528 254h.1M1569 391h.1M1641 319h.1M1449 300h.1M1355 475h.1M1497 433h.1M1579 376h.1M1612 360h.1M1476 273h.1M1437 321h.1M1432 456h.1M1363 483h.1M1400 337h.1M1592 179h.1M1672 202h.1M1524 213h.1M1504 229h.1M1488 238h.1M1563 215h.1M1549 223h.1M1598 228h.1M1449 272h.1M1477 266h.1M1442 305h.1M1636 251h.1M1653 287h.1M1638 270h.1M1546 239h.1M1527 251h.1M1576 231h.1M1605 241h.1M1622 245h.1M1632 243h.1M1391 281h.1M1408 297h.1M1391 335h.1M1365 354h.1M1323 368h.1M1346 369h.1M1315 374h.1M1265 395h.1M1291 404h.1M1319 396h.1M1333 386h.1M1354 393h.1M1139 512h.1M1148 515h.1M1202 492h.1M1222 505h.1M1250 523h.1M1281 530h.1M1302 595h.1M1236 454h.1M1230 466h.1M1269 424h.1M1289 428h.1M1261 445h.1M1275 450h.1M1277 460h.1M1264 470h.1M1252 493h.1M1261 497h.1M1248 505h.1M1271 505h.1M1298 476h.1M1298 497h.1M1297 512h.1M1318 487h.1M1328 486h.1M1343 488h.1M1368 488h.1M1368 509h.1M1310 417h.1M1304 431h.1M1318 450h.1M1308 458h.1M1326 452h.1M1333 423h.1M1351 444h.1M1359 458h.1M1505 461h.1M1505 469h.1M1482 444h.1M1409 489h.1M1397 505h.1M1375 485h.1M1379 493h.1M1381 505h.1M1369 510h.1M1432 452h.1M1412 468h.1M1391 476h.1M1631 331h.1M1605 347h.1M1607 364h.1M1575 383h.1M1558 399h.1M1548 415h.1M1580 416h.1M1504 425h.1" stroke="#000" stroke-width="18.2" stroke-linecap="round" fill="none"/>
<path d="M143.2 295.9H881.0M639.0 80.0V629.6" stroke="#000" stroke-width="2.6" stroke-dasharray="2.6 7.5" fill="none"/>
<path d="M1018.0 343.7H1739.0M1502.0 80.0V629.6" stroke="#000" stroke-width="2.6" stroke-dasharray="2.6 7.5" fill="none"/>
<text x="780.8" y="104.6" font-size="20.7" fill="#e8a030" fill-opacity="0.93">NA BRAF</text>
<text x="638.3" y="452.2" font-size="20.7" fill="#e8736c" fill-opacity="0.93">PARP1 698</text>
<text x="710.8" y="501.1" font-size="20.7" fill="#e8736c" fill-opacity="0.93">PARP1 986</text>
<text x="528.2" y="507.7" font-size="20.7" fill="#e8736c" fill-opacity="0.93">PARP1 830;829;829;830</text>
<text x="477.2" y="518.6" font-size="20.7" fill="#e8736c" fill-opacity="0.93">PARP1 684;683;683;684</text>
<text x="715.5" y="533.4" font-size="20.7" fill="#e8736c" fill-opacity="0.93">PARP1 831;829</text>
<text x="708.7" y="555.7" font-size="20.7" text-anchor="end" fill="#e8736c" fill-opacity="0.93">PARP1 826;825;826;827</text>
<text x="449.0" y="555.7" font-size="20.7" fill="#e8736c" fill-opacity="0.93">PARP1 827;826</text>
<text x="597.6" y="566.0" font-size="20.7" fill="#e8736c" fill-opacity="0.93">PARP1 682;681;680;681;682</text>
<text x="669.2" y="597.9" font-size="20.7" fill="#e8736c" fill-opacity="0.93">PARP1 691</text>
<text x="543.7" y="592.7" font-size="20.7" fill="#e8736c" fill-opacity="0.93">PARP1 691</text>
<text x="607.5" y="621.5" font-size="20.7" text-anchor="end" fill="#e8736c" fill-opacity="0.93">PARP1 710;709</text>
<line x1="681.0" y1="485.1" x2="709.8" y2="492.9" stroke="#e8736c" stroke-width="2" stroke-opacity="0.95"/>
<line x1="669.6" y1="524.8" x2="710.8" y2="526.2" stroke="#e8736c" stroke-width="2" stroke-opacity="0.95"/>
<line x1="649.0" y1="565.0" x2="664.5" y2="585.5" stroke="#e8736c" stroke-width="2" stroke-opacity="0.95"/>
<line x1="572.9" y1="574.2" x2="546.6" y2="603.0" stroke="#e8736c" stroke-width="2" stroke-opacity="0.95"/>
<line x1="660.4" y1="456.9" x2="649.0" y2="465.1" stroke="#e8736c" stroke-width="2" stroke-opacity="0.95"/>
<text x="1523.9" y="103.6" font-size="20.7" fill="#e8736c" fill-opacity="0.93">889;887</text>
<text x="1486.3" y="135.7" font-size="20.7" fill="#e8736c" fill-opacity="0.93">391</text>
<text x="1396.3" y="514.5" font-size="20.7" fill="#e8736c" fill-opacity="0.93">PARP1 682;681</text>
<text x="1527.0" y="522.7" font-size="20.7" fill="#e8736c" fill-opacity="0.93">PARP1 698</text>
<text x="1585.2" y="555.7" font-size="20.7" fill="#e8736c" fill-opacity="0.93">PARP1 986</text>
<text x="1536.3" y="587.6" font-size="20.7" fill="#e8736c" fill-opacity="0.93">PARP1 691</text>
<text x="1457.0" y="565.0" font-size="20.7" fill="#e8736c" fill-opacity="0.93">PARP1 691</text>
<text x="1256.4" y="567.0" font-size="20.7" fill="#e8736c" fill-opacity="0.93">PARP1 682;681;680;681;682</text>
<text x="1327.4" y="576.3" font-size="20.7" fill="#e8736c" fill-opacity="0.93">PARP1 684;683;683;684</text>
<text x="1327.4" y="622.5" font-size="20.7" fill="#e8736c" fill-opacity="0.93">PARP1 710;709</text>
<text x="1362.0" y="622.5" font-size="20.7" fill="#e8736c" fill-opacity="0.93">PARP1 827;826</text>
<text x="1400.0" y="622.5" font-size="20.7" fill="#e8736c" fill-opacity="0.93">PARP1 826;825;826;827</text>
<text x="1478.0" y="622.5" font-size="20.7" fill="#e8736c" fill-opacity="0.93">PARP1 830;829;829;830</text>
<text x="1728.0" y="622.5" font-size="20.7" text-anchor="end" fill="#e8736c" fill-opacity="0.93">PARP1 831;829</text>
<line x1="1523.9" y1="519.7" x2="1511.6" y2="526.9" stroke="#e8736c" stroke-width="2" stroke-opacity="0.95"/>
<line x1="1580.5" y1="548.1" x2="1552.7" y2="542.3" stroke="#e8736c" stroke-width="2" stroke-opacity="0.95"/>
<line x1="1531.1" y1="585.5" x2="1573.3" y2="609.2" stroke="#e8736c" stroke-width="2" stroke-opacity="0.95"/>
<line x1="1504.4" y1="588.6" x2="1519.8" y2="602.0" stroke="#e8736c" stroke-width="2" stroke-opacity="0.95"/>
<line x1="1436.4" y1="592.7" x2="1426.6" y2="603.0" stroke="#e8736c" stroke-width="2" stroke-opacity="0.95"/>
<path d="M143.2 80.0V629.6H881.0" stroke="#000" stroke-width="2.6" fill="none" stroke-linejoin="miter"/>
<line x1="163.2" y1="629.6" x2="163.2" y2="636.6" stroke="#000" stroke-width="2.4"/>
<text x="163.2" y="658.6" font-size="20.6" text-anchor="middle" fill="#4d4d4d">−6</text>
<line x1="321.8" y1="629.6" x2="321.8" y2="636.6" stroke="#000" stroke-width="2.4"/>
<text x="321.8" y="658.6" font-size="20.6" text-anchor="middle" fill="#4d4d4d">−4</text>
<line x1="480.4" y1="629.6" x2="480.4" y2="636.6" stroke="#000" stroke-width="2.4"/>
<text x="480.4" y="658.6" font-size="20.6" text-anchor="middle" fill="#4d4d4d">−2</text>
<line x1="639.0" y1="629.6" x2="639.0" y2="636.6" stroke="#000" stroke-width="2.4"/>
<text x="639.0" y="658.6" font-size="20.6" text-anchor="middle" fill="#4d4d4d">0</text>
<line x1="797.6" y1="629.6" x2="797.6" y2="636.6" stroke="#000" stroke-width="2.4"/>
<text x="797.6" y="658.6" font-size="20.6" text-anchor="middle" fill="#4d4d4d">2</text>
<line x1="136.2" y1="538.3" x2="143.2" y2="538.3" stroke="#000" stroke-width="2.4"/>
<text x="131.2" y="544.5" font-size="20.6" text-anchor="end" fill="#4d4d4d">−4</text>
<line x1="136.2" y1="417.1" x2="143.2" y2="417.1" stroke="#000" stroke-width="2.4"/>
<text x="131.2" y="423.3" font-size="20.6" text-anchor="end" fill="#4d4d4d">−2</text>
<line x1="136.2" y1="295.9" x2="143.2" y2="295.9" stroke="#000" stroke-width="2.4"/>
<text x="131.2" y="302.1" font-size="20.6" text-anchor="end" fill="#4d4d4d">0</text>
<line x1="136.2" y1="174.7" x2="143.2" y2="174.7" stroke="#000" stroke-width="2.4"/>
<text x="131.2" y="180.9" font-size="20.6" text-anchor="end" fill="#4d4d4d">2</text>
<text x="511.0" y="686.6" font-size="25.8" text-anchor="middle">MHH−ES−1 control vs plasmid (z−score)</text>
<text x="94.0" y="354.8" font-size="25.8" text-anchor="middle" transform="rotate(-90 94.0 354.8)">MHH−ES−1 olaparib vs plasmid (z−score)</text>
<path d="M1018.0 80.0V629.6H1739.0" stroke="#000" stroke-width="2.6" fill="none" stroke-linejoin="miter"/>
<line x1="1038.2" y1="629.6" x2="1038.2" y2="636.6" stroke="#000" stroke-width="2.4"/>
<text x="1038.2" y="658.6" font-size="20.6" text-anchor="middle" fill="#4d4d4d">−6</text>
<line x1="1192.8" y1="629.6" x2="1192.8" y2="636.6" stroke="#000" stroke-width="2.4"/>
<text x="1192.8" y="658.6" font-size="20.6" text-anchor="middle" fill="#4d4d4d">−4</text>
<line x1="1347.4" y1="629.6" x2="1347.4" y2="636.6" stroke="#000" stroke-width="2.4"/>
<text x="1347.4" y="658.6" font-size="20.6" text-anchor="middle" fill="#4d4d4d">−2</text>
<line x1="1502.0" y1="629.6" x2="1502.0" y2="636.6" stroke="#000" stroke-width="2.4"/>
<text x="1502.0" y="658.6" font-size="20.6" text-anchor="middle" fill="#4d4d4d">0</text>
<line x1="1656.6" y1="629.6" x2="1656.6" y2="636.6" stroke="#000" stroke-width="2.4"/>
<text x="1656.6" y="658.6" font-size="20.6" text-anchor="middle" fill="#4d4d4d">2</text>
<line x1="1011.0" y1="614.7" x2="1018.0" y2="614.7" stroke="#000" stroke-width="2.4"/>
<text x="1006.0" y="620.9" font-size="20.6" text-anchor="end" fill="#4d4d4d">−5.0</text>
<line x1="1011.0" y1="479.2" x2="1018.0" y2="479.2" stroke="#000" stroke-width="2.4"/>
<text x="1006.0" y="485.4" font-size="20.6" text-anchor="end" fill="#4d4d4d">−2.5</text>
<line x1="1011.0" y1="343.7" x2="1018.0" y2="343.7" stroke="#000" stroke-width="2.4"/>
<text x="1006.0" y="349.9" font-size="20.6" text-anchor="end" fill="#4d4d4d">0.0</text>
<line x1="1011.0" y1="208.2" x2="1018.0" y2="208.2" stroke="#000" stroke-width="2.4"/>
<text x="1006.0" y="214.4" font-size="20.6" text-anchor="end" fill="#4d4d4d">2.5</text>
<text x="1378.0" y="686.6" font-size="25.8" text-anchor="middle">MHH−ES−1 control vs plasmid (z−score)</text>
<text x="955.0" y="354.8" font-size="25.8" text-anchor="middle" transform="rotate(-90 955.0 354.8)">MHH−ES−1 niraparib vs plasmid (z−score)</text>
<text x="1777.5" y="49.3" font-size="25.8">editor</text>
<circle cx="1797.6" cy="84.8" r="9.3"/>
<text x="1831.3" y="92.2" font-size="20.6">ABE</text>
<circle cx="1797.6" cy="125.6" r="8.2" fill="#fff" stroke="#000" stroke-width="2.3"/>
<text x="1831.3" y="133.0" font-size="20.6">CBE</text>
<text x="1777.5" y="219.3" font-size="25.8">gene</text>
<circle cx="1797.6" cy="255.5" r="9.3" fill="#4e68be"/>
<text x="1831.3" y="262.9" font-size="20.6">AKT1</text>
<circle cx="1797.6" cy="296.4" r="9.3" fill="#5bc8be"/>
<text x="1831.3" y="303.8" font-size="20.6">BCL2</text>
<circle cx="1797.6" cy="337.2" r="9.3" fill="#e8a030"/>
<text x="1831.3" y="344.6" font-size="20.6">BRAF</text>
<circle cx="1797.6" cy="378.1" r="9.3" fill="#e52f25"/>
<text x="1831.3" y="385.5" font-size="20.6">EGFR</text>
<circle cx="1797.6" cy="418.9" r="9.3" fill="#2f9849"/>
<text x="1831.3" y="426.3" font-size="20.6">KRAS</text>
<circle cx="1797.6" cy="459.8" r="9.3" fill="#8c8c8c"/>
<text x="1831.3" y="467.2" font-size="20.6">MAP2K1</text>
<circle cx="1797.6" cy="500.7" r="9.3" fill="#a82a2d"/>
<text x="1831.3" y="508.1" font-size="20.6">MAP2K2</text>
<circle cx="1797.6" cy="541.5" r="9.3" fill="#6b3fb0"/>
<text x="1831.3" y="548.9" font-size="20.6">MYC</text>
<circle cx="1797.6" cy="582.4" r="9.3" fill="#e8736c"/>
<text x="1831.3" y="589.8" font-size="20.6">PARP1</text>
<circle cx="1797.6" cy="623.2" r="9.3" fill="#f2b4c8"/>
<text x="1831.3" y="630.6" font-size="20.6">PARP2</text>
<circle cx="1797.6" cy="664.1" r="9.3" fill="#000"/>
<text x="1831.3" y="671.5" font-size="20.6">PIK3CA</text>
<text x="34.0" y="730.8" font-size="38" font-weight="bold" fill="#222">b</text>
<text x="269.0" y="771.8" font-size="22.5" text-anchor="middle">PARP1 gRNA1 Y710C (sensitisor)</text>
<clipPath id="c44_791"><rect x="44.1" y="791.3" width="442.2" height="176.3"/></clipPath>
<rect x="44.1" y="791.3" width="442.2" height="176.3" fill="#fbfbfa"/>
<line x1="91.3" y1="810.3" x2="91.3" y2="965.3" stroke="#bdbdbd" stroke-width="0.8" stroke-dasharray="2 3"/>
<line x1="280.1" y1="810.3" x2="280.1" y2="965.3" stroke="#bdbdbd" stroke-width="0.8" stroke-dasharray="2 3"/>
<line x1="472.1" y1="810.3" x2="472.1" y2="965.3" stroke="#bdbdbd" stroke-width="0.8" stroke-dasharray="2 3"/>
<g clip-path="url(#c44_791)" stroke-width="1.8" stroke-linejoin="round">
<path d="M76 965.3l2 -0.3l2 -0.7l2 -1.9l2 -4.5l2 -7.7l2 -9.9l2 -8.8l2 -3.3l2 3.9l2 9.1l2 9.8l2 7.4l2 4.2l2 1.8l2 0.9zM114 965.3l2 -0.6l2 -1.6l2 -4l2 -8l2 -12.3l2 -13.8l2 -9.6l2 -0.2l2 9.1l2 13.7l2 12.5l2 8.3l2 4.2l2 1.6l2 0.7zM208 965.3l2 -0.7l2 -1.6l2 -4.1l2 -7.9l2 -11.9l2 -12.8l2 -8.3l2 0.8l2 9.2l2 13l2 11.4l2 7.4l2 3.6l2 1.3l2 0.6zM324 965.3l2 -0.7l2 -1.4l2 -3.5l2 -6.3l2 -8.9l2 -8.6l2 -4.5l2 2.2l2 7.5l2 9.2l2 7.4l2 4.5l2 2.1l2 0.7l2 0.3zM404 965.3l2 -0.9l2 -2.3l2 -5.3l2 -10.3l2 -14.8l2 -15.3l2 -9l2 2.1l2 12.1l2 15.9l2 13.4l2 8.3l2 4l2 1.5l2 0.6z" fill="#d9f2d0" fill-opacity="0.8" stroke="#55b93f"/>
<path d="M94 965.3l2 -0.3l2 -0.9l2 -2.6l2 -5.9l2 -10.7l2 -14.4l2 -13.4l2 -6.2l2 4.5l2 12.6l2 14.7l2 11.4l2 6.7l2 3l2 1.1l2 0.4zM152 965.3l2 -1l2 -2.4l2 -5.9l2 -11.5l2 -17.2l2 -18.4l2 -11.6l2 1.2l2 13.4l2 18.7l2 16.4l2 10.4l2 5.1l2 2l2 0.8zM226 965.3l2 -0.5l2 -1.2l2 -3.5l2 -7.7l2 -13.1l2 -16.4l2 -13.8l2 -4.4l2 7.4l2 15.2l2 15.9l2 11.7l2 6.4l2 2.7l2 1l2 0.3zM286 965.3l2 -0.3l2 -0.9l2 -2.5l2 -5.9l2 -10.5l2 -14.2l2 -13.4l2 -6.1l2 4.4l2 12.5l2 14.5l2 11.3l2 6.7l2 2.9l2 1.1l2 0.4zM362 965.3l2 -0.4l2 -0.9l2 -2.7l2 -5.9l2 -9.9l2 -12.4l2 -10.4l2 -3.3l2 5.7l2 11.6l2 12l2 8.8l2 4.8l2 2.1l2 0.9zM404 965.3l2 -0.5l2 -0.6l2 -1.1l2 -1.2l2 -1.1l2 -0.2l2 0.7l2 1.2l2 1.2l2 0.9l2 0.4l2 0.3zM460 965.3l2 -0.9l2 -2l2 -5l2 -9.6l2 -13.9l2 -14.5l2 -8.6l2 1.9l2 11.3l2 14.9l2 12.7l2 7.9l2 3.8l2 1.4l2 0.6z" fill="#f9d9d4" fill-opacity="0.8" stroke="#e0413a"/>
<path d="M58 965.3l2 -0.3l2 -0.9l2 -2.6l2 -5.8l2 -10.2l2 -13.3l2 -11.9l2 -4.7l2 5l2 11.9l2 13l2 9.5l2 4.8l2 1.4l2 0l2 0l2 0.5l2 1.1l2 1l2 0.8l2 0.4l2 0.3zM112 965.3l2 -0.3l2 -0.5l2 -1.3l2 -2.1l2 -2.8l2 -2.5l2 -0.9l2 1.1l2 2.5l2 2.6l2 1.4l2 -0.9l2 -4.8l2 -10.3l2 -16.1l2 -17.8l2 -12l2 0l2 12.1l2 17.8l2 16.1l2 10.5l2 5.3l2 2.1l2 0.8zM172 965.3l2 -0.7l2 -1.8l2 -4.8l2 -10l2 -15.8l2 -18.4l2 -13.7l2 -1.9l2 10.8l2 17.7l2 16l2 8.6l2 -1.1l2 -10.2l2 -16.3l2 -15.9l2 -7.3l2 5.3l2 14.9l2 17.1l2 13l2 7l2 2.7l2 0.9l2 0.6l2 0.8l2 1l2 0.7l2 0.5l2 0.3zM246 965.3l2 -0.4l2 -1.2l2 -3.5l2 -8.1l2 -14.6l2 -19.7l2 -18.6l2 -8.7l2 5.9l2 17.3l2 19.9l2 14.9l2 6.5l2 -2.3l2 -10.6l2 -16.2l2 -16.1l2 -8.2l2 4.2l2 14.3l2 17.2l2 14l2 8.3l2 3.8l2 1.4l2 0.5zM306 965.3l2 -1l2 -2.5l2 -6.3l2 -12.6l2 -19.5l2 -21.9l2 -15.1l2 -0.5l2 14.4l2 21.4l2 19.1l2 11.2l2 3.2l2 -2.1l2 -3.8l2 -2.2l2 1.1l2 4.1l2 4.9l2 4l2 2.4l2 1.1l2 0.6z" fill="#dde3f5" fill-opacity="0.8" stroke="#4a6cc4"/>
<path d="M40 965.3l2 -0.6l2 -1.5l2 -3.8l2 -7.7l2 -11.9l2 -13.4l2 -9.3l2 -0.5l2 8.8l2 13.3l2 12.1l2 8.1l2 4.1l2 1.6l2 0.7zM156 965.3l2 -0.6l2 -0.5l2 -0.6l2 -0.4l2 -0.1l2 0.4l2 0.6l2 0.5l2 0.4l2 0.3zM290 965.3l2 -0.5l2 -0.6l2 -0.9l2 -0.9l2 -0.5l2 0.1l2 0.7l2 1l2 0.8l2 0.4l2 0.4zM342 965.3l2 -0.4l2 -1l2 -2.7l2 -5.4l2 -8.7l2 -10l2 -7.5l2 -0.9l2 6l2 9.8l2 9.3l2 6.3l2 3.3l2 1.3l2 0.6zM382 965.3l2 -0.5l2 -1.2l2 -3.4l2 -7.3l2 -11.9l2 -14.6l2 -11.7l2 -2.9l2 7.4l2 13.9l2 13.9l2 9.8l2 5.3l2 2.2l2 1.0zM420 965.3l2 -0.5l2 -1.4l2 -3.9l2 -8.7l2 -15.3l2 -19.9l2 -17.7l2 -6.9l2 7.7l2 17.8l2 19.2l2 12.8l2 2.6l2 -9.2l2 -20.7l2 -27.4l2 -23.7l2 -7.9l2 12.2l2 25.8l2 27.1l2 20l2 11.1l2 4.7l2 1.6l2 0.6z" fill="#d9d9d6" fill-opacity="0.8" stroke="#151515"/>
<path d="M44.1 965.7H486.3" stroke="#c8443e" stroke-width="1.4"/>
</g>
<text class="sq" x="91.9 129.1 221.9 336.8 417.7" y="807.5" fill="#62c048">AAAAA</text>
<text class="sq" x="74.0 147.0 185.7 205.2 261.3 281.1 321.1" y="807.5" fill="#5878cc">CCCCCCC</text>
<text class="sq" x="53.5 357.3 395.7 433.4 455.5" y="807.5" fill="#1a1a1a">GGGGG</text>
<text class="sq" x="110.2 165.9 240.8 300.6 376.8 473.1" y="807.5" fill="#e2504a">TTTTTT</text>
<text x="91.3" y="978.6" font-size="10" font-weight="bold" text-anchor="middle" fill="#6e6e6e" letter-spacing="1.2">140</text>
<text x="280.1" y="978.6" font-size="10" font-weight="bold" text-anchor="middle" fill="#6e6e6e" letter-spacing="1.2">150</text>
<text x="472.1" y="978.6" font-size="10" font-weight="bold" text-anchor="middle" fill="#6e6e6e" letter-spacing="1.2">160</text>
<clipPath id="c44_984"><rect x="44.1" y="984.9" width="439.1" height="174.7"/></clipPath>
<rect x="44.1" y="984.9" width="439.1" height="174.7" fill="#fbfbfa"/>
<line x1="107.0" y1="1002.9" x2="107.0" y2="1157.3" stroke="#bdbdbd" stroke-width="0.8" stroke-dasharray="2 3"/>
<line x1="299.0" y1="1002.9" x2="299.0" y2="1157.3" stroke="#bdbdbd" stroke-width="0.8" stroke-dasharray="2 3"/>
<g clip-path="url(#c44_984)" stroke-width="1.8" stroke-linejoin="round">
<path d="M78 1157.3l2 -0.8l2 -1.8l2 -3.8l2 -6.8l2 -8.6l2 -7.7l2 -2.9l2 3.4l2 8l2 8.6l2 6.4l2 3.7l2 1.6l2 0.7zM114 1157.3l2 -0.3l2 -0.9l2 -2.1l2 -4.4l2 -6.6l2 -7.5l2 -5.1l2 -0.2l2 5l2 7.4l2 6.7l2 4.5l2 2.2l2 0.9l2 0.4zM208 1157.3l2 -0.5l2 -1.4l2 -3.7l2 -7.8l2 -12.8l2 -15.5l2 -12.1l2 -2.8l2 8.2l2 14.8l2 14.6l2 10.3l2 5.4l2 2.3l2 1.0zM322 1157.3l2 -0.4l2 -1l2 -2.5l2 -4.8l2 -7.1l2 -7.6l2 -4.8l2 0.6l2 5.6l2 7.8l2 6.7l2 4.3l2 2.1l2 0.8l2 0.3zM402 1157.3l2 -0.9l2 -2.1l2 -5l2 -9.3l2 -13l2 -12.9l2 -6.9l2 2.8l2 11.1l2 13.6l2 11.1l2 6.8l2 3.1l2 1.2l2 0.4z" fill="#d9f2d0" fill-opacity="0.8" stroke="#55b93f"/>
<path d="M94 1157.3l2 -0.3l2 -0.9l2 -2.7l2 -6.1l2 -11l2 -14.8l2 -13.8l2 -6.4l2 4.6l2 13.1l2 15l2 11.8l2 6.9l2 3.1l2 1.1l2 0.4zM152 1157.3l2 -1l2 -2.4l2 -6l2 -11.7l2 -17.4l2 -18.6l2 -11.9l2 1.3l2 13.6l2 19l2 16.5l2 10.6l2 5.2l2 2l2 0.8zM226 1157.3l2 -0.5l2 -1.3l2 -3.6l2 -7.9l2 -13.3l2 -16.8l2 -14.2l2 -4.6l2 7.6l2 15.6l2 16.4l2 11.9l2 6.6l2 2.8l2 1l2 0.3zM286 1157.3l2 -0.4l2 -1.2l2 -3.2l2 -6.9l2 -11.2l2 -13.7l2 -11.1l2 -2.7l2 7l2 13.1l2 13l2 9.3l2 5l2 2.1l2 0.9zM362 1157.3l2 -0.8l2 -1.9l2 -4.2l2 -7.5l2 -10.1l2 -9.3l2 -4.3l2 3.3l2 8.9l2 10.2l2 8l2 4.6l2 2.1l2 0.7l2 0.3zM456 1157.3l2 -0.6l2 -1.7l2 -4.2l2 -8.6l2 -13.6l2 -15.5l2 -11.3l2 -1.2l2 9.7l2 15.2l2 14.4l2 9.6l2 5l2 2l2 0.8z" fill="#f9d9d4" fill-opacity="0.8" stroke="#e0413a"/>
<path d="M58 1157.3l2 -0.4l2 -1.1l2 -3.3l2 -7.3l2 -12.7l2 -16.7l2 -14.9l2 -5.9l2 6.2l2 15l2 16.4l2 12l2 6.3l2 2l2 0.2l2 0l2 0.6l2 1.1l2 1l2 0.8l2 0.4l2 0.3zM132 1157.3l2 -0.8l2 -1.9l2 -4.8l2 -9.7l2 -14.7l2 -16.3l2 -11l2 0l2 11.1l2 16.3l2 14.7l2 9.6l2 4.8l2 1.9l2 0.8zM172 1157.3l2 -0.5l2 -1.2l2 -3.6l2 -8.1l2 -14l2 -18.2l2 -16l2 -6.1l2 7.1l2 16.2l2 16.9l2 10.1l2 -0.1l2 -10.6l2 -17.5l2 -17.2l2 -8l2 5.8l2 16.5l2 19.1l2 14.9l2 8.7l2 3.9l2 1.4l2 0.5zM246 1157.3l2 -0.5l2 -1.5l2 -4.1l2 -9.1l2 -15.7l2 -20.3l2 -17.7l2 -6.6l2 8.2l2 18.4l2 19.6l2 13.5l2 4.2l2 -5.3l2 -14l2 -18.8l2 -16l2 -5l2 8.8l2 17.8l2 18.6l2 13.5l2 7.4l2 3.2l2 1l2 0.4zM304 1157.3l2 -0.4l2 -1.1l2 -3.5l2 -8.2l2 -15.3l2 -21.4l2 -21.2l2 -11.3l2 4.6l2 17.9l2 21.6l2 16.5l2 7.8l2 0.7l2 -2.2l2 -1.3l2 1.5l2 3.9l2 4.4l2 3.4l2 1.7l2 -0.1l2 -1.5l2 -2.5l2 -2.7l2 -1.6l2 0.4l2 2.2l2 2.8l2 2.3l2 1.5l2 0.7l2 0.4z" fill="#dde3f5" fill-opacity="0.8" stroke="#4a6cc4"/>
<path d="M40 1157.3l2 -0.6l2 -1.5l2 -4l2 -7.9l2 -12.3l2 -13.8l2 -9.7l2 -0.4l2 9l2 13.7l2 12.6l2 8.3l2 4.2l2 1.7l2 0.7zM116 1157.3l2 -0.6l2 -1.5l2 -3.7l2 -7l2 -10l2 -10.4l2 -6.1l2 1.5l2 8.2l2 10.8l2 9.1l2 5.6l2 2.7l2 1l2 0.4zM284 1157.3l2 -0.4l2 -0.7l2 -1.5l2 -2.5l2 -3l2 -2.3l2 -0.5l2 1.6l2 2.8l2 2.9l2 1.9l2 1.1l2 0.6zM340 1157.3l2 -0.4l2 -1.1l2 -2.9l2 -6.4l2 -10.8l2 -13.4l2 -11.2l2 -3.4l2 6.3l2 12.6l2 13l2 9.4l2 5.1l2 2.2l2 1.0zM380 1157.3l2 -0.6l2 -1.3l2 -3.2l2 -5.8l2 -8.2l2 -8l2 -4.2l2 1.8l2 7l2 8.5l2 6.9l2 4.2l2 1.9l2 0.7l2 0.3zM418 1157.3l2 -0.7l2 -1.9l2 -5.2l2 -10.7l2 -17.5l2 -20.9l2 -16.3l2 -3.3l2 11.5l2 19.8l2 18.9l2 11.1l2 0.5l2 -11.1l2 -21.2l2 -25.6l2 -19l2 -2.4l2 15.5l2 25.1l2 23.9l2 16.3l2 8.4l2 3.4l2 1.1l2 0.3z" fill="#d9d9d6" fill-opacity="0.8" stroke="#151515"/>
<path d="M44.1 1157.7H483.2" stroke="#c8443e" stroke-width="1.4"/>
</g>
<text class="sq" x="91.3 222.9 334.3 415.5" y="1000.1" fill="#62c048">AAAA</text>
<text class="sq" x="73.0 144.8 185.7 205.2 260.6 280.1 317.9" y="1000.1" fill="#5878cc">CCCCCCC</text>
<text class="sq" x="53.5 129.7 354.1 394.1 432.8 452.3" y="1000.1" fill="#1a1a1a">GGGGGG</text>
<text class="sq" x="109.5 165.9 240.8 299.0 374.6 470.6" y="1000.1" fill="#e2504a">TTTTTT</text>
<path d="M46.4 985.9h-3v18h3" fill="none" stroke="#5d7fca" stroke-width="1.6"/>
<text x="107.0" y="1171.3" font-size="10" font-weight="bold" text-anchor="middle" fill="#6e6e6e" letter-spacing="1.2">140</text>
<text x="299.0" y="1171.3" font-size="10" font-weight="bold" text-anchor="middle" fill="#6e6e6e" letter-spacing="1.2">150</text>
<line x1="44" y1="1174.7" x2="483" y2="1174.7" stroke="#d0d0d0" stroke-width="1"/>
<rect x="114.9" y="789.1" width="29.0" height="382.1" fill="none" stroke="#d9322b" stroke-width="3.1"/>
<text x="731.3" y="771.8" font-size="22.5" text-anchor="middle">PARP1 gRNA2 Y829H/L831P (sensitisor)</text>
<clipPath id="c545_782"><rect x="545.6" y="782.5" width="413.9" height="197.7"/></clipPath>
<rect x="545.6" y="782.5" width="413.9" height="197.7" fill="#fbfbfa"/>
<line x1="676.9" y1="806.5" x2="676.9" y2="978.6" stroke="#bdbdbd" stroke-width="0.8" stroke-dasharray="2 3"/>
<line x1="884.6" y1="806.5" x2="884.6" y2="978.6" stroke="#bdbdbd" stroke-width="0.8" stroke-dasharray="2 3"/>
<g clip-path="url(#c545_782)" stroke-width="1.8" stroke-linejoin="round">
<path d="M545 978.6l2 -1l2 -2.2l2 -5.7l2 -11.1l2 -16.4l2 -17.5l2 -11.1l2 1.3l2 12.9l2 17.9l2 15.5l2 10l2 4.8l2 1.9l2 0.7zM583 978.6l2 -0.4l2 -1.2l2 -3.4l2 -7.9l2 -14.1l2 -19l2 -17.7l2 -8l2 6l2 16.8l2 19.2l2 15.1l2 8.7l2 4l2 1.4l2 0.5zM621 978.6l2 -0.3l2 -0.9l2 -2.7l2 -6.5l2 -12.2l2 -17.6l2 -17.8l2 -10.1l2 3.1l2 14.4l2 18.3l2 14.3l2 5.9l2 -4.2l2 -14.3l2 -21.7l2 -21.7l2 -11.3l2 5.3l2 19l2 23.1l2 18.8l2 11.3l2 5.2l2 1.9l2 0.4l2 -0.2l2 -0.8l2 -1.7l2 -2.3l2 -2.5l2 -1.5l2 0.3l2 1.9l2 2.5l2 2.2l2 1.4l2 0.6l2 0.4zM769 978.6l2 -0.7l2 -2l2 -5.5l2 -12.4l2 -21.2l2 -27.2l2 -23.7l2 -8.6l2 11.3l2 24.9l2 26.8l2 20l2 11.2l2 4.8l2 1.7l2 0.6zM829 978.6l2 -0.3l2 -1l2 -3.4l2 -8.8l2 -18.1l2 -28.5l2 -33l2 -24.3l2 -2.9l2 20l2 32.3l2 30.5l2 20.7l2 10.7l2 4.3l2 1.4l2 0.4zM907 978.6l2 -0.7l2 -1l2 -1.8l2 -2.1l2 -1.7l2 -0.5l2 1l2 2l2 2l2 1.5l2 0.8l2 0.5z" fill="#d9f2d0" fill-opacity="0.8" stroke="#55b93f"/>
<path d="M663 978.6l2 -0.4l2 -0.9l2 -2.7l2 -5.5l2 -9.1l2 -10.9l2 -8.6l2 -1.9l2 5.8l2 10.5l2 10.3l2 7.2l2 3.9l2 1.6l2 0.7zM749 978.6l2 -0.5l2 -1.5l2 -3.7l2 -7.9l2 -12.8l2 -15.2l2 -11.7l2 -2.2l2 8.4l2 14.7l2 14.2l2 9.9l2 5.2l2 2.2l2 0.9zM787 978.6l2 -0.3l2 -0.8l2 -2.3l2 -5l2 -8.5l2 -10.8l2 -9.4l2 -3.1l2 4.6l2 10l2 10.7l2 7.8l2 4.4l2 1.8l2 0.9zM869 978.6l2 -0.6l2 -1.6l2 -4.4l2 -9.4l2 -15.8l2 -19.6l2 -16.1l2 -4.7l2 9.5l2 18.4l2 18.6l2 13l2 5.8l2 -0.7l2 -5.6l2 -8.7l2 -8.2l2 -3.6l2 3l2 8l2 9l2 7l2 4l2 1.8l2 0.9z" fill="#f9d9d4" fill-opacity="0.8" stroke="#e0413a"/>
<path d="M537 978.6l2 -73.9l2 -2.2l2 12.3l2 20.3l2 19.4l2 13.2l2 6.9l2 2.8l2 0.9l2 0.3zM565 978.6l2 -0.7l2 -1.8l2 -4.8l2 -9.9l2 -15.6l2 -18.1l2 -13.4l2 -1.8l2 10.8l2 17.7l2 16.8l2 11.5l2 5.9l2 2.4l2 1.0zM603 978.6l2 -0.5l2 -1.4l2 -3.7l2 -8.2l2 -13.7l2 -17l2 -14.1l2 -4.2l2 8.1l2 15.9l2 16.5l2 11.8l2 6.5l2 2.8l2 0.9l2 0.3zM707 978.6l2 -0.7l2 -1.6l2 -4l2 -7.9l2 -12l2 -13l2 -8.6l2 0.5l2 9.2l2 13.1l2 11.7l2 7.5l2 3.8l2 1.4l2 0.6zM849 978.6l2 -0.5l2 -1.2l2 -3.3l2 -6.6l2 -10.4l2 -11.9l2 -8.6l2 -0.8l2 7.4l2 11.7l2 10.9l2 7.4l2 3.8l2 1.5l2 0.6z" fill="#dde3f5" fill-opacity="0.8" stroke="#4a6cc4"/>
<path d="M683 978.6l2 -1l2 -2.5l2 -6.5l2 -13.6l2 -21.7l2 -25.3l2 -18.9l2 -2.8l2 14.9l2 24.6l2 23.5l2 16.1l2 8.3l2 3.4l2 1.1l2 0.4zM727 978.6l2 -0.6l2 -1.6l2 -4.2l2 -8.7l2 -14.1l2 -16.6l2 -12.7l2 -2.2l2 9.4l2 16l2 15.6l2 10.7l2 5.7l2 2.3l2 1.0zM807 978.6l2 -0.5l2 -1.5l2 -4.4l2 -10.3l2 -18.8l2 -25.6l2 -24.4l2 -11.9l2 7.2l2 22.2l2 26.3l2 20.9l2 12.4l2 5.6l2 2.1l2 0.7zM909 978.6l2 -0.3l2 -1.1l2 -3.4l2 -8.5l2 -16.7l2 -25.1l2 -27l2 -17.6l2 1.3l2 19.4l2 27.4l2 24.2l2 15.4l2 7l2 1.1l2 -3.3l2 -7.4l2 -10.1l2 -9.6l2 -4.4l2 3.1l2 8.7l2 9.6l2 6.6l2 2.1l2 -0.8l2 -1.4l2 -0.1l2 10.9z" fill="#d9d9d6" fill-opacity="0.8" stroke="#151515"/>
<path d="M545.6 979.0H959.6" stroke="#c8443e" stroke-width="1.4"/>
</g>
<text class="sq" x="558.9 598.5 636.0 656.4 784.2 843.1" y="803.7" fill="#62c048">AAAAAA</text>
<text class="sq" x="578.7 618.0 721.3 862.0" y="803.7" fill="#5878cc">CCCC</text>
<text class="sq" x="696.7 741.7 821.1 924.0 947.0" y="803.7" fill="#1a1a1a">GGGGG</text>
<text class="sq" x="676.9 763.5 800.6 882.4 903.5" y="803.7" fill="#e2504a">TTTTT</text>
<path d="M550.2 789.5h-3v18h3" fill="none" stroke="#5d7fca" stroke-width="1.6"/>
<text x="676.9" y="991.2" font-size="10" font-weight="bold" text-anchor="middle" fill="#6e6e6e" letter-spacing="1.2">110</text>
<text x="884.6" y="991.2" font-size="10" font-weight="bold" text-anchor="middle" fill="#6e6e6e" letter-spacing="1.2">120</text>
<line x1="545.6" y1="995.9" x2="959.6" y2="995.9" stroke="#c8c8c8" stroke-width="1"/>
<clipPath id="c529_996"><rect x="529.9" y="996.5" width="427.1" height="169.3"/></clipPath>
<rect x="529.9" y="996.5" width="427.1" height="169.3" fill="#fbfbfa"/>
<line x1="679.4" y1="1016.5" x2="679.4" y2="1164.3" stroke="#bdbdbd" stroke-width="0.8" stroke-dasharray="2 3"/>
<line x1="880.9" y1="1016.5" x2="880.9" y2="1164.3" stroke="#bdbdbd" stroke-width="0.8" stroke-dasharray="2 3"/>
<g clip-path="url(#c529_996)" stroke-width="1.8" stroke-linejoin="round">
<path d="M523 1164.3l2 -0.3l2 -0.8l2 -2.6l2 -5.9l2 -11l2 -15.2l2 -14.7l2 -7.6l2 3.8l2 13.1l2 15.7l2 12.7l2 7.6l2 3.5l2 1.2l2 0.5zM561 1164.3l2 -0.6l2 -1.4l2 -3.9l2 -8.3l2 -13.6l2 -16.3l2 -13l2 -2.9l2 8.7l2 15.6l2 15.5l2 10.9l2 5.8l2 2.4l2 0.8l2 0.3zM597 1164.3l2 -0.5l2 -1.4l2 -4l2 -8.5l2 -14.3l2 -17.8l2 -14.9l2 -4.5l2 8.3l2 16.7l2 17.3l2 12.5l2 6.9l2 2.9l2 1l2 0.3zM633 1164.3l2 -0.3l2 -0.8l2 -2.6l2 -6.1l2 -11.5l2 -16.3l2 -16.4l2 -9.2l2 3.1l2 13.4l2 16.3l2 11.6l2 1.9l2 -9l2 -17.9l2 -20.1l2 -12.7l2 1.8l2 15.4l2 21.1l2 18.2l2 11.5l2 5.6l2 2.2l2 0.8zM685 1164.3l2 -0.4l2 -0.6l2 -1.4l2 -2.2l2 -2.5l2 -1.9l2 -0.3l2 1.5l2 2.5l2 2.3l2 1.7l2 0.8l2 0.5zM771 1164.3l2 -0.3l2 -0.8l2 -2.7l2 -6.8l2 -13.8l2 -20.9l2 -23.2l2 -15.8l2 -0.1l2 15.7l2 23.2l2 21l2 13.8l2 6.9l2 2.7l2 0.8l2 0.3zM831 1164.3l2 -0.8l2 -2l2 -5.3l2 -10.9l2 -17.1l2 -19.8l2 -14.6l2 -1.7l2 12l2 19.4l2 18.3l2 12.4l2 6.4l2 2.6l2 0.8l2 0.3zM903 1164.3l2 -0.4l2 -0.7l2 -1.3l2 -1.9l2 -1.9l2 -1l2 0.4l2 1.5l2 2l2 1.6l2 1l2 0.7z" fill="#d9f2d0" fill-opacity="0.8" stroke="#55b93f"/>
<path d="M671 1164.3l2 -0.7l2 -1.4l2 -3.3l2 -5.7l2 -7.7l2 -7.1l2 -3.1l2 2.7l2 6.8l2 7.8l2 6l2 3.4l2 1.6l2 0.7zM753 1164.3l2 -0.3l2 -0.9l2 -2.7l2 -6.1l2 -10.9l2 -14.6l2 -13.5l2 -6.1l2 4.8l2 12.9l2 14.8l2 11.5l2 6.7l2 3l2 1l2 0.4zM791 1164.3l2 -0.3l2 -0.7l2 -2l2 -4.4l2 -7.7l2 -10l2 -8.8l2 -3.2l2 4l2 9.1l2 9.8l2 7.4l2 4.1l2 1.9l2 0.8zM827 1164.3l2 -0.3l2 -0.5l2 -0.7l2 -0.8l2 -0.7l2 -0.1l2 0.5l2 0.8l2 0.8l2 0.5l2 0.5zM867 1164.3l2 -0.7l2 -1.8l2 -4.9l2 -10.2l2 -16.6l2 -20l2 -15.8l2 -4.1l2 8.5l2 14.7l2 12.6l2 6.7l2 2.8l2 2.1l2 2.1l2 0.6l2 -1.1l2 -0.9l2 1.8l2 5.3l2 6.7l2 5.7l2 3.7l2 1.8l2 0.7l2 0.3z" fill="#f9d9d4" fill-opacity="0.8" stroke="#e0413a"/>
<path d="M543 1164.3l2 -0.4l2 -1.2l2 -3.4l2 -7.4l2 -12.9l2 -16.5l2 -14.3l2 -5.2l2 6.8l2 15.1l2 16.2l2 12.1l2 6.8l2 2.9l2 1l2 0.4zM579 1164.3l2 -0.6l2 -1.4l2 -3.9l2 -8.3l2 -13.3l2 -15.9l2 -12.4l2 -2.6l2 8.8l2 15.3l2 15l2 10.5l2 5.5l2 2.3l2 1.0zM615 1164.3l2 -0.3l2 -0.9l2 -2.7l2 -6.2l2 -11.3l2 -15.5l2 -14.7l2 -7.2l2 4.4l2 13.4l2 15.9l2 12.6l2 7.4l2 3.4l2 1.3l2 0.4zM715 1164.3l2 -0.4l2 -1.1l2 -3.2l2 -6.8l2 -11.5l2 -14.4l2 -12.2l2 -3.8l2 6.6l2 13.5l2 14l2 10.2l2 5.6l2 2.4l2 0.8l2 0.3zM755 1164.3l2 -0.3l2 -0.7l2 -1.7l2 -2.9l2 -3.9l2 -3.7l2 -1.6l2 1.3l2 3.5l2 3.9l2 3.1l2 1.8l2 0.8l2 0.4zM791 1164.3l2 -0.6l2 -1.2l2 -2.6l2 -4.5l2 -5.5l2 -4.6l2 -1.4l2 2.6l2 5.1l2 5.4l2 3.9l2 2.1l2 0.9l2 0.4zM849 1164.3l2 -0.6l2 -1.6l2 -4.1l2 -8.4l2 -13.2l2 -15l2 -10.8l2 -1.1l2 9.4l2 14.5l2 13.1l2 7.2l2 0.3l2 -5.2l2 -7.9l2 -6.5l2 -1.3l2 4.6l2 8.2l2 7.8l2 5l2 1.4l2 -2.1l2 -4.9l2 -6l2 -4.5l2 -0.7l2 3.7l2 6l2 5.7l2 3.8l2 2l2 0.9l2 0.3z" fill="#dde3f5" fill-opacity="0.8" stroke="#4a6cc4"/>
<path d="M689 1164.3l2 -0.7l2 -1.7l2 -4l2 -7.7l2 -11.5l2 -12.5l2 -9.5l2 -4.3l2 -1l2 -0.8l2 -0.7l2 2.6l2 8.6l2 13l2 12.7l2 9.2l2 5.1l2 2.2l2 0.7l2 0.3zM733 1164.3l2 -0.3l2 -0.9l2 -2.6l2 -6.1l2 -11l2 -15.3l2 -14.6l2 -7.3l2 4.1l2 13.2l2 15.7l2 12.5l2 7.5l2 3.4l2 1.2l2 0.5zM809 1164.3l2 -0.4l2 -1.2l2 -3.5l2 -7.9l2 -14.3l2 -19.1l2 -17.9l2 -8.1l2 6.1l2 16.9l2 19.5l2 15.2l2 8.8l2 4l2 1.4l2 0.5zM907 1164.3l2 -0.3l2 -1l2 -2.8l2 -6.7l2 -12.3l2 -17l2 -16.6l2 -8.6l2 4.2l2 14.6l2 17.6l2 13.8l2 6.9l2 0.1l2 -6.2l2 -10.9l2 -12l2 -7.7l2 0.9l2 8.9l2 12.3l2 10.8l2 6.8l2 3.4l2 1.3l2 0.5z" fill="#d9d9d6" fill-opacity="0.8" stroke="#151515"/>
<path d="M529.9 1164.7H957.0" stroke="#c8443e" stroke-width="1.4"/>
</g>
<text class="sq" x="539.3 574.6 610.8 647.9 665.9 786.4 844.7" y="1013.7" fill="#62c048">AAAAAAA</text>
<text class="sq" x="557.6 593.5 630.6 729.8 862.0" y="1013.7" fill="#5878cc">CCCCC</text>
<text class="sq" x="711.5 748.7 822.6 921.2 942.2" y="1013.7" fill="#1a1a1a">GGGGG</text>
<text class="sq" x="680.4 767.5 804.4 881.5 906.0" y="1013.7" fill="#e2504a">TTTTT</text>
<path d="M533.5 999.5h-3v18h3" fill="none" stroke="#5d7fca" stroke-width="1.6"/>
<text x="679.4" y="1174.4" font-size="10" font-weight="bold" text-anchor="middle" fill="#6e6e6e" letter-spacing="1.2">120</text>
<text x="880.9" y="1174.4" font-size="10" font-weight="bold" text-anchor="middle" fill="#6e6e6e" letter-spacing="1.2">130</text>
<rect x="753.4" y="782.5" width="25.2" height="381.8" fill="none" stroke="#d9322b" stroke-width="3.1"/>
<rect x="792.7" y="782.5" width="23.6" height="381.8" fill="none" stroke="#d9322b" stroke-width="3.1"/>
<rect x="873.0" y="782.5" width="38.7" height="381.8" fill="none" stroke="#d9322b" stroke-width="3.1"/>
<text x="1179.0" y="771.8" font-size="22.5" text-anchor="middle">PARP1 gRNA3 I691T (sensitisor)</text>
<clipPath id="c991_789"><rect x="991.5" y="789.7" width="421.8" height="178.8"/></clipPath>
<rect x="991.5" y="789.7" width="421.8" height="178.8" fill="#fbfbfa"/>
<line x1="1021.4" y1="808.1" x2="1021.4" y2="966.9" stroke="#bdbdbd" stroke-width="0.8" stroke-dasharray="2 3"/>
<line x1="1211.8" y1="808.1" x2="1211.8" y2="966.9" stroke="#bdbdbd" stroke-width="0.8" stroke-dasharray="2 3"/>
<line x1="1398.5" y1="808.1" x2="1398.5" y2="966.9" stroke="#bdbdbd" stroke-width="0.8" stroke-dasharray="2 3"/>
<g clip-path="url(#c991_789)" stroke-width="1.8" stroke-linejoin="round">
<path d="M1235 966.9l2 -0.8l2 -1.6l2 -3.6l2 -6.4l2 -8.2l2 -7.4l2 -2.8l2 3.1l2 7.5l2 8.2l2 6.2l2 3.5l2 1.6l2 0.7zM1273 966.9l2 -0.6l2 -1.3l2 -3.2l2 -5.8l2 -8l2 -7.8l2 -4l2 1.9l2 6.9l2 8.4l2 6.7l2 4l2 1.9l2 0.6l2 0.3zM1349 966.9l2 -0.4l2 -1l2 -2.7l2 -5.7l2 -9.2l2 -11.2l2 -8.8l2 -1.9l2 6l2 10.6l2 10.6l2 7.4l2 3.9l2 1.7l2 0.7z" fill="#d9f2d0" fill-opacity="0.8" stroke="#55b93f"/>
<path d="M983 966.9l2 -34l2 2.8l2 7.9l2 9.1l2 7.2l2 4.2l2 1.9l2 0.9zM1063 966.9l2 -0.4l2 -1.2l2 -3.4l2 -7.6l2 -13.4l2 -17.5l2 -15.7l2 -6.3l2 6.6l2 15.8l2 17.4l2 13.3l2 7.5l2 3.3l2 1.2l2 0.4zM1105 966.9l2 -0.5l2 -1.3l2 -3.5l2 -7.5l2 -12.4l2 -15l2 -12l2 -2.9l2 7.8l2 14.2l2 14.3l2 10.1l2 5.4l2 2.3l2 1.0zM1143 966.9l2 -0.3l2 -0.8l2 -2.3l2 -5l2 -8.9l2 -11.4l2 -10.2l2 -3.9l2 4.5l2 10.4l2 11.4l2 8.5l2 4.9l2 2.1l2 0.7l2 0.3zM1197 966.9l2 -0.3l2 -1l2 -3l2 -7l2 -13l2 -18l2 -17.8l2 -9.2l2 4.3l2 15.4l2 18.8l2 15.2l2 9.2l2 4.3l2 1.5l2 0.6zM1255 966.9l2 -0.3l2 -0.2l2 -0.4l2 -0.6l2 -0.9l2 -1l2 -1.1l2 -0.9l2 -0.7l2 -0.2l2 0.3l2 0.8l2 1l2 1l2 1l2 0.8l2 0.5l2 0l2 -1.1l2 -3.5l2 -7.9l2 -13.1l2 -16.4l2 -13.7l2 -4l2 7.8l2 15.4l2 15.9l2 11.4l2 6.3l2 2.6l2 0.9l2 0.3zM1403 966.9l2 -0.3l2 -0.8l2 -2.6l2 -6.2l2 -11.7l2 -16.7l2 -17l2 -9.7l2 65.0z" fill="#f9d9d4" fill-opacity="0.8" stroke="#e0413a"/>
<path d="M987 966.9l2 -0.5l2 -1.6l2 -4.6l2 -10.4l2 -18.5l2 -24.9l2 -23l2 -10.3l2 8.1l2 21.9l2 24.8l2 18l2 7.6l2 -2.3l2 -9.7l2 -12.1l2 -8.5l2 -0.1l2 8.5l2 12.1l2 9.5l2 2.6l2 -6.4l2 -14.7l2 -18.2l2 -13.8l2 -1.8l2 11l2 17.4l2 14.9l2 5.9l2 -5l2 -13.6l2 -15.6l2 -9.2l2 2.8l2 13.2l2 17.1l2 14.2l2 8.8l2 4.2l2 1.6l2 0.6zM1123 966.9l2 -0.3l2 -0.9l2 -2.8l2 -6.7l2 -12.2l2 -17.2l2 -17l2 -9l2 3.9l2 14.5l2 18l2 14.7l2 8.8l2 4.1l2 1.5l2 0.6zM1161 966.9l2 -0.8l2 -2.1l2 -5.6l2 -12.1l2 -20l2 -24.3l2 -19.7l2 -5l2 12.3l2 22.5l2 21.3l2 11.2l2 -2.5l2 -14.8l2 -21.2l2 -17.4l2 -4.1l2 11.9l2 21.4l2 21.2l2 15l2 8l2 3.3l2 1.1l2 0.4zM1217 966.9l2 -0.9l2 -2.3l2 -6.1l2 -12.6l2 -20l2 -23.3l2 -17.2l2 -2.4l2 13.9l2 22.7l2 21.5l2 14.7l2 7.6l2 3.1l2 1l2 0.3zM1309 966.9l2 -0.7l2 -1.7l2 -4.7l2 -9.9l2 -16.3l2 -19.7l2 -15.6l2 -3.6l2 10.4l2 18.8l2 18.6l2 13.2l2 7l2 2.9l2 1l2 0.3zM1365 966.9l2 -0.5l2 -1.3l2 -3.9l2 -9.1l2 -16.1l2 -21.7l2 -20.3l2 -9.2l2 6.8l2 18.9l2 21.1l2 14.2l2 2.6l2 -9.9l2 -19.6l2 -21.8l2 -13.4l2 2.3l2 17l2 22.8l2 19.6l2 12.4l2 5.9l2 2.3l2 0.9z" fill="#dde3f5" fill-opacity="0.8" stroke="#4a6cc4"/>
<path d="M1009 966.9l2 -0.4l2 -0.6l2 -0.7l2 -0.9l2 -0.5l2 0.1l2 0.6l2 0.8l2 0.8l2 0.4l2 0.4zM1063 966.9l2 -0.3l2 -0.5l2 -0.9l2 -1.1l2 -0.9l2 -0.4l2 0.4l2 1l2 0.7l2 -0.3l2 -3l2 -8l2 -14.9l2 -20.7l2 -20.2l2 -10.3l2 5.2l2 17.8l2 21.5l2 17.3l2 10.4l2 4.8l2 1.8l2 0.6zM1251 966.9l2 -0.4l2 -1l2 -2.9l2 -6.6l2 -11.3l2 -14.6l2 -12.8l2 -4.8l2 5.8l2 13.4l2 14.4l2 10.8l2 6.1l2 2.7l2 0.9l2 0.3zM1293 966.9l2 -0.5l2 -0.6l2 -1.1l2 -1.4l2 -1.1l2 -0.3l2 0.6l2 1.3l2 1.3l2 1l2 0.5l2 0.3zM1327 966.9l2 -0.3l2 -0.8l2 -2.5l2 -5.5l2 -9.9l2 -13l2 -12l2 -5.1l2 4.5l2 11.7l2 13.1l2 10.1l2 5.9l2 2.6l2 0.9l2 0.3z" fill="#d9d9d6" fill-opacity="0.8" stroke="#151515"/>
<path d="M991.5 967.3H1413.3" stroke="#c8443e" stroke-width="1.4"/>
</g>
<text class="sq" x="1247.1 1287.4 1362.9" y="805.3" fill="#62c048">AAA</text>
<text class="sq" x="1001.9 1020.7 1037.7 1054.4 1137.8 1175.0 1192.9 1230.7 1323.6 1378.6 1398.5" y="805.3" fill="#5878cc">CCCCCCCCCCC</text>
<text class="sq" x="1093.8 1266.9 1341.5" y="805.3" fill="#1a1a1a">GGG</text>
<text class="sq" x="1077.4 1119.0 1157.7 1211.8 1303.1" y="805.3" fill="#e2504a">TTTTT</text>
<path d="M995.4 791.1h-3v18h3" fill="none" stroke="#5d7fca" stroke-width="1.6"/>
<text x="1021.4" y="979.2" font-size="10" font-weight="bold" text-anchor="middle" fill="#6e6e6e" letter-spacing="1.2">70</text>
<text x="1211.8" y="979.2" font-size="10" font-weight="bold" text-anchor="middle" fill="#6e6e6e" letter-spacing="1.2">80</text>
<text x="1398.5" y="979.2" font-size="10" font-weight="bold" text-anchor="middle" fill="#6e6e6e" letter-spacing="1.2">90</text>
<clipPath id="c989_991"><rect x="989.9" y="991.2" width="423.4" height="184.1"/></clipPath>
<rect x="989.9" y="991.2" width="423.4" height="184.1" fill="#fbfbfa"/>
<line x1="1036.5" y1="1009.5" x2="1036.5" y2="1173.7" stroke="#bdbdbd" stroke-width="0.8" stroke-dasharray="2 3"/>
<line x1="1230.7" y1="1009.5" x2="1230.7" y2="1173.7" stroke="#bdbdbd" stroke-width="0.8" stroke-dasharray="2 3"/>
<g clip-path="url(#c989_991)" stroke-width="1.8" stroke-linejoin="round">
<path d="M1233 1173.7l2 -0.3l2 -0.7l2 -2l2 -4.3l2 -7.2l2 -9l2 -7.3l2 -2.1l2 4.3l2 8.4l2 8.6l2 6.2l2 3.3l2 1.5l2 0.6zM1271 1173.7l2 -0.3l2 -0.8l2 -2.9l2 -7.6l2 -15.9l2 -25.1l2 -29.4l2 -22l2 -3.2l2 17.3l2 28.6l2 27.3l2 18.6l2 9.8l2 3.9l2 1.3l2 0.4zM1325 1173.7l2 -0.3l2 -0.5l2 -1.3l2 -2.4l2 -3.3l2 -3.2l2 -1.6l2 0.9l2 2.9l2 3.4l2 2.7l2 1.4l2 0.3l2 -1.3l2 -3.7l2 -7.4l2 -11.2l2 -11.9l2 -7.7l2 0.7l2 8.7l2 12.2l2 10.6l2 6.8l2 3.4l2 1.3l2 0.5z" fill="#d9f2d0" fill-opacity="0.8" stroke="#55b93f"/>
<path d="M981 1173.7l2 -23.7l2 -3l2 2.1l2 6.2l2 7.2l2 5.7l2 3.3l2 1.5l2 0.7zM1063 1173.7l2 -0.5l2 -1.4l2 -4l2 -9.1l2 -15.9l2 -20.7l2 -18.7l2 -7.4l2 7.7l2 18.8l2 20.7l2 15.7l2 9l2 3.9l2 1.4l2 0.5zM1107 1173.7l2 -0.9l2 -2.1l2 -4.9l2 -9.2l2 -12.9l2 -13l2 -7.1l2 2.7l2 10.9l2 13.6l2 11.2l2 6.9l2 3.2l2 1.2l2 0.4zM1145 1173.7l2 -0.7l2 -1.9l2 -4.5l2 -8.9l2 -13.3l2 -14.4l2 -9.4l2 0.7l2 10.3l2 14.6l2 12.9l2 8.3l2 4.1l2 1.6l2 0.6zM1199 1173.7l2 -0.7l2 -1.8l2 -4.8l2 -10l2 -16l2 -18.7l2 -14.2l2 -2.2l2 10.8l2 18.2l2 17.5l2 12l2 6.2l2 2.6l2 0.8l2 0.3zM1291 1173.7l2 -0.8l2 -1.7l2 -4.2l2 -8.1l2 -11.6l2 -11.9l2 -6.9l2 1.8l2 9.5l2 12.4l2 10.4l2 6.4l2 3.1l2 1.2l2 0.4zM1405 1173.7l2 -0.7l2 -1.5l2 -3.7l2 -7.1l2 -10l2 -10.2l2 -5.8l2 39.0z" fill="#f9d9d4" fill-opacity="0.8" stroke="#e0413a"/>
<path d="M985 1173.7l2 -0.3l2 -0.8l2 -2.7l2 -6.6l2 -13.1l2 -19.6l2 -21.1l2 -13.6l2 1.1l2 15.1l2 21.2l2 18l2 9.6l2 0.1l2 -8.6l2 -14.4l2 -14.7l2 -7.6l2 3.5l2 12.5l2 14.3l2 8.9l2 -0.9l2 -10.7l2 -16.6l2 -14.5l2 -4.5l2 8.4l2 16.4l2 16.5l2 10.1l2 1.1l2 -8.1l2 -14.8l2 -15.9l2 -9.2l2 2.7l2 13l2 16.8l2 14.1l2 8.6l2 4.2l2 1.5l2 0.6zM1125 1173.7l2 -0.5l2 -1.5l2 -3.7l2 -7.9l2 -12.6l2 -15l2 -11.3l2 -2l2 8.5l2 14.4l2 14l2 9.6l2 5l2 2.1l2 0.9zM1163 1173.7l2 -0.9l2 -2.2l2 -5.4l2 -10.7l2 -15.7l2 -16.9l2 -10.7l2 1.1l2 12.1l2 16.2l2 12.1l2 2.6l2 -8.4l2 -16.5l2 -17.7l2 -10l2 3.2l2 13.9l2 17l2 13.5l2 8.3l2 4.8l2 3.5l2 2.8l2 2l2 1.2l2 0.4l2 -0.1l2 -1.1l2 -3.4l2 -8l2 -14.3l2 -19.5l2 -18.4l2 -8.7l2 5.8l2 17l2 19.9l2 15.7l2 9.2l2 4l2 1.1l2 -0.3l2 -1.1l2 -1.2l2 -0.8l2 0l2 0.9l2 1.3l2 1.1l2 0.7l2 0.6zM1291 1173.7l2 -0.4l2 -0.9l2 -2.1l2 -4l2 -5.9l2 -6l2 -3.5l2 0.9l2 4.7l2 5.9l2 3.9l2 -0.7l2 -7.5l2 -15.4l2 -21.4l2 -19.9l2 -8.9l2 7l2 19.1l2 21.8l2 16.9l2 9.9l2 4.4l2 1.5l2 0.6zM1365 1173.7l2 -0.7l2 -1.6l2 -4.4l2 -8.9l2 -14.1l2 -16.1l2 -11.8l2 -1.3l2 9.9l2 15.5l2 13.6l2 6.4l2 -3.2l2 -12.8l2 -19.1l2 -18.1l2 -7.9l2 6.7l2 17.6l2 20l2 15.5l2 8.9l2 4l2 1.4l2 0.5z" fill="#dde3f5" fill-opacity="0.8" stroke="#4a6cc4"/>
<path d="M1081 1173.7l2 -0.5l2 -1.5l2 -4.8l2 -12.1l2 -23.8l2 -35.5l2 -38.4l2 -24.8l2 1.9l2 27.6l2 38.9l2 34.3l2 22l2 10.8l2 4.2l2 1.3l2 0.4zM1253 1173.7l2 -0.3l2 -0.8l2 -2.1l2 -4.4l2 -7.2l2 -8.7l2 -6.9l2 -1.5l2 4.7l2 8.3l2 8.2l2 5.8l2 3.1l2 1.2l2 0.6zM1331 1173.7l2 -0.8l2 -1.8l2 -4.4l2 -8.4l2 -12l2 -12.3l2 -7.1l2 2l2 9.9l2 12.8l2 10.7l2 6.6l2 3.2l2 1.1l2 0.5z" fill="#d9d9d6" fill-opacity="0.8" stroke="#151515"/>
<path d="M989.9 1174.1H1413.3" stroke="#c8443e" stroke-width="1.4"/>
</g>
<text class="sq" x="1245.8 1285.8 1363.8" y="1006.7" fill="#62c048">AAA</text>
<text class="sq" x="1000.9 1020.7 1037.1 1056.0 1138.8 1176.6 1192.9 1231.3 1324.2 1378.6 1398.5" y="1006.7" fill="#5878cc">CCCCCCCCCCC</text>
<text class="sq" x="1096.3 1267.8 1343.1" y="1006.7" fill="#1a1a1a">GGG</text>
<text class="sq" x="1077.4 1119.9 1157.4 1211.8 1303.1" y="1006.7" fill="#e2504a">TTTTT</text>
<path d="M993.8 992.5h-3v18h3" fill="none" stroke="#5d7fca" stroke-width="1.6"/>
<text x="1036.5" y="1186.4" font-size="10" font-weight="bold" text-anchor="middle" fill="#6e6e6e" letter-spacing="1.2">70</text>
<text x="1230.7" y="1186.4" font-size="10" font-weight="bold" text-anchor="middle" fill="#6e6e6e" letter-spacing="1.2">80</text>
<rect x="1291.1" y="792.2" width="27.1" height="381.5" fill="none" stroke="#d9322b" stroke-width="3.1"/>
<text x="1680.6" y="771.8" font-size="22.5" text-anchor="middle">PARP1 gRNA4 I691T (sensitisor)</text>
<clipPath id="c1443_784"><rect x="1443.6" y="785.0" width="447.0" height="184.1"/></clipPath>
<rect x="1443.6" y="785.0" width="447.0" height="184.1" fill="#fbfbfa"/>
<line x1="1489.9" y1="805.6" x2="1489.9" y2="967.5" stroke="#bdbdbd" stroke-width="0.8" stroke-dasharray="2 3"/>
<line x1="1686.0" y1="805.6" x2="1686.0" y2="967.5" stroke="#bdbdbd" stroke-width="0.8" stroke-dasharray="2 3"/>
<line x1="1877.0" y1="805.6" x2="1877.0" y2="967.5" stroke="#bdbdbd" stroke-width="0.8" stroke-dasharray="2 3"/>
<g clip-path="url(#c1443_784)" stroke-width="1.8" stroke-linejoin="round">
<path d="M1435 967.5l2 -25.8l2 -2.5l2 3.1l2 6.9l2 7.5l2 5.6l2 3.2l2 1.4l2 0.6zM1709 967.5l2 -0.5l2 -1.1l2 -2.7l2 -5.2l2 -7.7l2 -8.2l2 -5l2 0.8l2 6.1l2 8.4l2 7.2l2 4.5l2 2.2l2 0.9l2 0.3zM1751 967.5l2 -0.6l2 -1.2l2 -2.9l2 -5.3l2 -7.2l2 -7l2 -3.4l2 1.9l2 6.3l2 7.5l2 5.9l2 3.6l2 1.6l2 0.8zM1827 967.5l2 -0.6l2 -1.5l2 -3.6l2 -7l2 -10.3l2 -11l2 -6.9l2 0.9l2 8.2l2 11.2l2 9.8l2 6.2l2 3l2 1.1l2 0.5z" fill="#d9f2d0" fill-opacity="0.8" stroke="#55b93f"/>
<path d="M1437 967.5l2 -0.3l2 -0.8l2 -2.5l2 -6.3l2 -12l2 -17.4l2 -18.2l2 -10.9l2 2.2l2 14.1l2 18.8l2 15.9l2 10.1l2 4.8l2 1.8l2 0.7zM1533 967.5l2 -0.3l2 -0.7l2 -2.5l2 -5.9l2 -11.5l2 -16.6l2 -17.4l2 -10.4l2 2.1l2 13.5l2 17.9l2 15.2l2 9.6l2 4.6l2 1.7l2 0.7zM1577 967.5l2 -0.5l2 -1.4l2 -3.6l2 -7.7l2 -12.5l2 -15.2l2 -12l2 -2.8l2 8.1l2 14.5l2 14.3l2 10.2l2 5.4l2 2.2l2 1.0zM1617 967.5l2 -0.4l2 -1.1l2 -2.8l2 -6l2 -9.8l2 -11.8l2 -9.2l2 -2l2 6.3l2 11.3l2 11.1l2 7.8l2 4.1l2 1.7l2 0.8zM1671 967.5l2 -0.3l2 -0.9l2 -2.8l2 -6.8l2 -12.8l2 -18.3l2 -18.5l2 -10.5l2 3.2l2 15.2l2 19.3l2 16.2l2 9.9l2 4.7l2 1.7l2 0.7zM1731 967.5l2 -0.3l2 -0.3l2 -0.5l2 -0.7l2 -1l2 -1.1l2 -1.2l2 -1l2 -0.7l2 -0.1l2 0.4l2 0.9l2 1.1l2 1.2l2 1.1l2 0.8l2 0.5l2 0.2l2 -0.7l2 -2.6l2 -6.2l2 -11.5l2 -16l2 -15.5l2 -8l2 4l2 13.7l2 16.6l2 13.4l2 8l2 3.7l2 1.3l2 0.5z" fill="#f9d9d4" fill-opacity="0.8" stroke="#e0413a"/>
<path d="M1455 967.5l2 -0.3l2 -1l2 -3l2 -7.8l2 -15.3l2 -23.3l2 -25.4l2 -16.8l2 0.6l2 17.7l2 25.4l2 22.3l2 13.1l2 3.3l2 -5.1l2 -10.9l2 -12.3l2 -7.7l2 1.1l2 9.2l2 12.4l2 9.5l2 2.8l2 -5.7l2 -13.9l2 -18.5l2 -15.6l2 -4.5l2 8.9l2 17.1l2 16.2l2 8l2 -3.1l2 -12.4l2 -16l2 -11.1l2 0.2l2 11.8l2 17.1l2 15.3l2 10l2 5l2 1.9l2 0.8zM1597 967.5l2 -0.8l2 -2.1l2 -5.3l2 -10.6l2 -16.1l2 -17.9l2 -12.2l2 0l2 12.1l2 17.9l2 16.1l2 10.6l2 5.4l2 2l2 0.9zM1633 967.5l2 -0.3l2 -1l2 -3.2l2 -8l2 -15.4l2 -22.7l2 -24.2l2 -15.1l2 2l2 17.9l2 23.8l2 18.9l2 6.9l2 -6.6l2 -17.7l2 -21.8l2 -15.3l2 -0.2l2 15.1l2 22.5l2 20.4l2 13.5l2 6.7l2 2.7l2 0.8l2 0.3zM1691 967.5l2 -0.8l2 -2.2l2 -5.8l2 -12.1l2 -19.8l2 -23.6l2 -18.4l2 -3.8l2 12.9l2 22.7l2 22.3l2 15.5l2 8.2l2 3.4l2 1.1l2 0.4zM1785 967.5l2 -0.3l2 -1l2 -3l2 -7.1l2 -13.3l2 -18.9l2 -18.9l2 -10.4l2 3.7l2 15.8l2 19.9l2 16.4l2 10l2 4.7l2 1.7l2 0.7zM1843 967.5l2 -0.5l2 -1.4l2 -4.1l2 -9.4l2 -16.6l2 -22.1l2 -20.4l2 -8.9l2 7.4l2 19.5l2 21.5l2 14.6l2 3.2l2 -9.1l2 -19.1l2 -22.3l2 -15.2l2 0.1l2 15.5l2 22.5l2 19.6l2 11.1l2 2.5l2 -3.2l2 -4.7l2 -2.5l2 22.0z" fill="#dde3f5" fill-opacity="0.8" stroke="#4a6cc4"/>
<path d="M1479 967.5l2 -0.3l2 -0.3l2 -0.7l2 -0.9l2 -0.7l2 -0.2l2 0.3l2 0.8l2 0.8l2 0.6l2 0.6zM1535 967.5l2 -0.5l2 -0.7l2 -1l2 -1.1l2 -0.7l2 0l2 0.8l2 0.9l2 0.4l2 -1.4l2 -5.2l2 -11.3l2 -18.4l2 -21.7l2 -16.6l2 -2.9l2 12.3l2 21l2 20.4l2 14l2 7.4l2 3l2 1l2 0.3zM1727 967.5l2 -0.7l2 -1.7l2 -4.5l2 -8.8l2 -13.5l2 -14.9l2 -10.2l2 0l2 10.1l2 15l2 13.5l2 8.8l2 4.4l2 1.8l2 0.7zM1771 967.5l2 -0.7l2 -0.8l2 -1.3l2 -1.5l2 -0.9l2 0l2 1l2 1.4l2 1.3l2 0.8l2 0.7zM1805 967.5l2 -0.5l2 -1.3l2 -3.3l2 -7.1l2 -11.4l2 -13.4l2 -10.4l2 -1.8l2 7.6l2 13l2 12.6l2 8.7l2 4.6l2 1.9l2 0.8z" fill="#d9d9d6" fill-opacity="0.8" stroke="#151515"/>
<path d="M1443.6 967.9H1890.6" stroke="#c8443e" stroke-width="1.4"/>
</g>
<text class="sq" x="1722.2 1762.1 1840.2" y="802.8" fill="#62c048">AAA</text>
<text class="sq" x="1470.4 1489.9 1507.5 1524.5 1609.5 1647.6 1666.1 1704.9 1799.9 1857.5 1877.3" y="802.8" fill="#5878cc">CCCCCCCCCCC</text>
<text class="sq" x="1564.8 1741.7 1818.8" y="802.8" fill="#1a1a1a">GGG</text>
<text class="sq" x="1451.5 1547.5 1590.6 1630.3 1686.0 1779.5" y="802.8" fill="#e2504a">TTTTTT</text>
<path d="M1447.2 788.6h-3v18h3" fill="none" stroke="#5d7fca" stroke-width="1.6"/>
<text x="1489.9" y="980.2" font-size="10" font-weight="bold" text-anchor="middle" fill="#6e6e6e" letter-spacing="1.2">70</text>
<text x="1686.0" y="980.2" font-size="10" font-weight="bold" text-anchor="middle" fill="#6e6e6e" letter-spacing="1.2">80</text>
<text x="1877.0" y="980.2" font-size="10" font-weight="bold" text-anchor="middle" fill="#6e6e6e" letter-spacing="1.2">90</text>
<line x1="1443.6" y1="984.9" x2="1890.6" y2="984.9" stroke="#c8c8c8" stroke-width="1"/>
<line x1="1438.9" y1="987.1" x2="1890.6" y2="987.1" stroke="#c8c8c8" stroke-width="1"/>
<clipPath id="c1438_991"><rect x="1438.9" y="991.2" width="447.6" height="187.9"/></clipPath>
<rect x="1438.9" y="991.2" width="447.6" height="187.9" fill="#fbfbfa"/>
<line x1="1528.0" y1="1010.2" x2="1528.0" y2="1177.5" stroke="#bdbdbd" stroke-width="0.8" stroke-dasharray="2 3"/>
<line x1="1719.0" y1="1010.2" x2="1719.0" y2="1177.5" stroke="#bdbdbd" stroke-width="0.8" stroke-dasharray="2 3"/>
<g clip-path="url(#c1438_991)" stroke-width="1.8" stroke-linejoin="round">
<path d="M1430 1177.5l2 -25.7l2 -8.4l2 -2.7l2 4.5l2 9.3l2 9.6l2 7.1l2 3.9l2 1.6l2 0.8zM1706 1177.5l2 -0.3l2 -0.7l2 -2.1l2 -4.4l2 -7.3l2 -8.9l2 -7.1l2 -1.8l2 4.6l2 8.4l2 8.4l2 6l2 3.3l2 1.3l2 0.6zM1746 1177.5l2 -0.9l2 -2.5l2 -6.6l2 -14.1l2 -23.1l2 -28l2 -22.4l2 -5.3l2 14.6l2 26.7l2 26.6l2 18.9l2 10l2 4.2l2 1.4l2 0.5zM1824 1177.5l2 -0.9l2 -2l2 -5l2 -9.5l2 -13.7l2 -14.2l2 -8.3l2 2l2 11.2l2 14.7l2 12.4l2 7.7l2 3.7l2 1.4l2 0.5z" fill="#d9f2d0" fill-opacity="0.8" stroke="#55b93f"/>
<path d="M1436 1177.5l2 -0.4l2 -1l2 -3.2l2 -7.7l2 -14.2l2 -19.9l2 -19.6l2 -10.5l2 4.5l2 16.8l2 20.8l2 17l2 10.2l2 4.8l2 1.7l2 0.7zM1534 1177.5l2 -0.5l2 -1.5l2 -4.1l2 -8.8l2 -14.8l2 -18.4l2 -15.4l2 -4.6l2 8.6l2 17.3l2 17.8l2 13l2 7l2 3l2 1.1l2 0.3zM1578 1177.5l2 -0.9l2 -1.9l2 -4.7l2 -8.8l2 -12.5l2 -12.5l2 -6.9l2 2.5l2 10.4l2 13.2l2 10.8l2 6.6l2 3.1l2 1.2l2 0.4zM1618 1177.5l2 -0.9l2 -2.2l2 -5.1l2 -9.4l2 -13.4l2 -13.4l2 -7.2l2 2.7l2 11.3l2 14.1l2 11.5l2 7l2 3.3l2 1.2l2 0.5zM1672 1177.5l2 -0.5l2 -1.2l2 -3.5l2 -7.4l2 -12.1l2 -14.9l2 -11.9l2 -3l2 7.6l2 14.1l2 14.1l2 10l2 5.4l2 2.3l2 1.0zM1764 1177.5l2 -0.6l2 -1.5l2 -3.7l2 -7.3l2 -10.9l2 -11.6l2 -7.4l2 0.8l2 8.5l2 11.8l2 10.3l2 6.6l2 3.3l2 1.2l2 0.5zM1876 1177.5l2 -0.5l2 -1.2l2 -2.9l2 -5.4l2 -7.8l2 -7.9l2 -4.6l2 1.3l2 29.0z" fill="#f9d9d4" fill-opacity="0.8" stroke="#e0413a"/>
<path d="M1456 1177.5l2 -0.6l2 -1.5l2 -4.5l2 -9.9l2 -17.3l2 -22.5l2 -20l2 -7.7l2 8.7l2 20.4l2 22l2 15.6l2 6.3l2 -3l2 -10.8l2 -15l2 -13.1l2 -4.3l2 6.8l2 14.1l2 14.2l2 8.5l2 0l2 -9.2l2 -16.2l2 -17.5l2 -10.5l2 2.4l2 13.7l2 17.5l2 13.2l2 3.9l2 -6.3l2 -14l2 -15.7l2 -9.2l2 2.6l2 13l2 16.8l2 14.1l2 8.7l2 4.1l2 1.6l2 0.6zM1598 1177.5l2 -1l2 -2.3l2 -5.7l2 -10.9l2 -15.7l2 -16.2l2 -9.6l2 2.3l2 12.8l2 16.8l2 14.2l2 8.9l2 4.2l2 1.6l2 0.6zM1634 1177.5l2 -0.3l2 -1l2 -2.9l2 -6.9l2 -12.8l2 -17.9l2 -17.6l2 -9.2l2 4l2 15l2 17.8l2 12.6l2 2.8l2 -7.8l2 -15.9l2 -17.9l2 -11.1l2 1.4l2 12.5l2 16.5l2 13.9l2 9l2 5.6l2 3.8l2 2.8l2 1.9l2 1l2 0.4l2 -0.1l2 -1l2 -3l2 -7.3l2 -13.6l2 -19l2 -18.9l2 -10.1l2 4.2l2 16.1l2 19.9l2 16.3l2 9.9l2 4.6l2 1.7l2 0.6zM1764 1177.5l2 -0.8l2 -1.5l2 -3.1l2 -4.9l2 -5.7l2 -4.2l2 -0.6l2 3.4l2 5.5l2 4.8l2 1.9l2 -2.6l2 -9.1l2 -16.4l2 -20.7l2 -17.5l2 -5.5l2 9.6l2 19.4l2 20.2l2 14.7l2 8.1l2 3.4l2 1.2l2 0.4zM1840 1177.5l2 -0.7l2 -1.7l2 -4.6l2 -9.5l2 -15.2l2 -17.8l2 -13.4l2 -2.1l2 10.3l2 17l2 15.4l2 8l2 -1.9l2 -11.6l2 -18.3l2 -17.8l2 -8.4l2 5.7l2 16.7l2 19.5l2 15.3l2 9l2 4.1l2 1.5l2 0.5z" fill="#dde3f5" fill-opacity="0.8" stroke="#4a6cc4"/>
<path d="M1554 1177.5l2 -0.7l2 -2.3l2 -6.7l2 -16.1l2 -29.9l2 -42.1l2 -42l2 -22.7l2 8.9l2 35.5l2 44.2l2 36.3l2 22.1l2 10.3l2 3.8l2 1l2 0.4zM1588 1177.5l2 -0.5l2 -0.6l2 -1l2 -1.2l2 -0.9l2 -0.2l2 0.7l2 1.1l2 1.2l2 0.7l2 0.7zM1726 1177.5l2 -0.4l2 -1.1l2 -2.9l2 -5.6l2 -8.7l2 -9.7l2 -6.8l2 -0.2l2 6.5l2 9.6l2 8.9l2 5.8l2 3l2 1.1l2 0.5zM1804 1177.5l2 -1l2 -2.4l2 -5.8l2 -11.5l2 -16.9l2 -18.2l2 -11.4l2 1.4l2 13.3l2 18.5l2 16.1l2 10.2l2 5l2 1.9l2 0.8z" fill="#d9d9d6" fill-opacity="0.8" stroke="#151515"/>
<path d="M1438.9 1177.9H1886.5" stroke="#c8443e" stroke-width="1.4"/>
</g>
<text class="sq" x="1720.0 1759.3 1837.1" y="1007.4" fill="#62c048">AAA</text>
<text class="sq" x="1471.0 1489.9 1509.1 1528.6 1609.8 1647.6 1666.5 1704.2 1796.1 1853.7 1872.6" y="1007.4" fill="#5878cc">CCCCCCCCCCC</text>
<text class="sq" x="1568.9 1739.5 1817.5" y="1007.4" fill="#1a1a1a">GGG</text>
<text class="sq" x="1450.5 1548.1 1591.5 1630.3 1685.0 1777.3" y="1007.4" fill="#e2504a">TTTTTT</text>
<path d="M1442.5 993.2h-3v18h3" fill="none" stroke="#5d7fca" stroke-width="1.6"/>
<text x="1528.0" y="1190.5" font-size="10" font-weight="bold" text-anchor="middle" fill="#6e6e6e" letter-spacing="1.2">70</text>
<text x="1719.0" y="1190.5" font-size="10" font-weight="bold" text-anchor="middle" fill="#6e6e6e" letter-spacing="1.2">80</text>
<rect x="1764.7" y="782.8" width="27.4" height="402.0" fill="none" stroke="#d9322b" stroke-width="3.1"/>
<text x="267.4" y="1247.8" font-size="22.5" text-anchor="middle">PARP1 gRNA6 L390S/S391P (resistance)</text>
<clipPath id="c67_1261"><rect x="67.2" y="1261.4" width="399.7" height="173.1"/></clipPath>
<rect x="67.2" y="1261.4" width="399.7" height="173.1" fill="#fbfbfa"/>
<line x1="148.4" y1="1279.8" x2="148.4" y2="1432.9" stroke="#bdbdbd" stroke-width="0.8" stroke-dasharray="2 3"/>
<line x1="331.6" y1="1279.8" x2="331.6" y2="1432.9" stroke="#bdbdbd" stroke-width="0.8" stroke-dasharray="2 3"/>
<g clip-path="url(#c67_1261)" stroke-width="1.8" stroke-linejoin="round">
<path d="M97 1432.9l2 -0.7l2 -1.8l2 -4.4l2 -8.7l2 -13.1l2 -14.3l2 -9.4l2 0.5l2 10.1l2 14.4l2 12.8l2 8.3l2 4.1l2 1.6l2 0.6zM135 1432.9l2 -0.5l2 -1.4l2 -3.6l2 -8l2 -13.3l2 -16.5l2 -13.4l2 -3.8l2 8l2 15.4l2 15.8l2 11.4l2 6.1l2 2.6l2 0.9l2 0.3zM171 1432.9l2 -0.6l2 -1.7l2 -4.2l2 -8.5l2 -13.5l2 -15.5l2 -11.2l2 -1.2l2 9.5l2 14.5l2 12.3l2 4.3l2 -5.6l2 -14.5l2 -18l2 -13.1l2 -0.9l2 11.9l2 18.4l2 17.1l2 11.4l2 5.8l2 2.3l2 1.0zM261 1432.9l2 -0.3l2 -0.9l2 -2.5l2 -5.9l2 -10.5l2 -14.1l2 -13.2l2 -6.1l2 4.5l2 12.4l2 14.4l2 11.3l2 6.5l2 3l2 1l2 0.4zM317 1432.9l2 -0.6l2 -1.6l2 -4.3l2 -9.2l2 -15.2l2 -18.6l2 -14.9l2 -3.9l2 9.5l2 17.6l2 17.7l2 12.6l2 6.8l2 2.8l2 1l2 0.3zM389 1432.9l2 -0.4l2 -1l2 -2.7l2 -6l2 -10l2 -12.3l2 -10.2l2 -2.9l2 5.8l2 11.1l2 10.2l2 4.3l2 -3.8l2 -10.9l2 -13.4l2 -9.2l2 0.3l2 9.8l2 14.1l2 12.6l2 8.3l2 4.1l2 1.6l2 0.6zM443 1432.9l2 -0.9l2 -2.2l2 -5.1l2 -9.7l2 -13.7l2 -13.8l2 -7.7l2 2.5l2 11.5l2 14.5l2 12l2 7.3l2 3.5l2 1.3l2 0.5z" fill="#d9f2d0" fill-opacity="0.8" stroke="#55b93f"/>
<path d="M153 1432.9l2 -0.8l2 -1.9l2 -4.8l2 -9.5l2 -14.4l2 -15.7l2 -10.4l2 0.3l2 11l2 15.8l2 14.2l2 9.1l2 4.6l2 1.8l2 0.7zM279 1432.9l2 -0.5l2 -1.5l2 -4.2l2 -9.2l2 -15.7l2 -20l2 -17l2 -5.8l2 8.7l2 18.2l2 18.6l2 11.9l2 1.9l2 -8.2l2 -15.7l2 -17.3l2 -10.5l2 2.2l2 13.7l2 18.2l2 15.4l2 9.7l2 4.7l2 1.7l2 0.7zM335 1432.9l2 -1l2 -2.3l2 -6l2 -11.6l2 -17.5l2 -18.8l2 -12.2l2 0.9l2 13.5l2 19.1l2 16.8l2 10.9l2 5.3l2 2.1l2 0.8zM459 1432.9l2 -0.6l2 -1.3l2 -3l2 -5.4l2 -7.4l2 -7.1l2 24.8z" fill="#f9d9d4" fill-opacity="0.8" stroke="#e0413a"/>
<path d="M59 1432.9l2 -52.8l2 12.4l2 14.4l2 9.5l2 0.6l2 -9.5l2 -17.3l2 -18.7l2 -11l2 2.9l2 15l2 18.9l2 13.9l2 3.8l2 -7.4l2 -15.7l2 -17.2l2 -9.9l2 3.1l2 14.6l2 18.6l2 15.5l2 9.5l2 4.5l2 1.7l2 0.6zM225 1432.9l2 -0.3l2 -1l2 -2.9l2 -6.8l2 -12.3l2 -16.9l2 -16.2l2 -8l2 4.6l2 14.5l2 16.7l2 11.6l2 2.7l2 -7.1l2 -14.8l2 -17l2 -11.1l2 1l2 12.6l2 17.7l2 15.5l2 10l2 4.9l2 1.8l2 0.8zM353 1432.9l2 -0.3l2 -0.9l2 -2.8l2 -6.6l2 -12.1l2 -16.9l2 -16.6l2 -8.7l2 4l2 14.2l2 17.1l2 12.5l2 3.8l2 -5.8l2 -14.1l2 -17.8l2 -13.3l2 -1.8l2 10.8l2 17.7l2 16.8l2 11.4l2 6l2 2.4l2 1.0zM425 1432.9l2 -0.4l2 -1.2l2 -3.3l2 -7.3l2 -12.6l2 -16.1l2 -13.9l2 -5l2 6.8l2 14.8l2 15.8l2 11.7l2 6.5l2 2.9l2 1l2 0.3z" fill="#dde3f5" fill-opacity="0.8" stroke="#4a6cc4"/>
<path d="M115 1432.9l2 -0.8l2 -1.8l2 -4.3l2 -8.2l2 -11.7l2 -11.8l2 -6.7l2 2.1l2 9.7l2 12.4l2 10.3l2 6.3l2 3l2 1.1l2 0.4zM207 1432.9l2 -0.4l2 -1.2l2 -2.8l2 -5.8l2 -8.9l2 -10l2 -6.9l2 -0.3l2 6.5l2 9.9l2 9.1l2 6l2 3.1l2 1.2l2 0.5z" fill="#d9d9d6" fill-opacity="0.8" stroke="#151515"/>
<path d="M67.2 1433.3H467.0" stroke="#c8443e" stroke-width="1.4"/>
</g>
<text class="sq" x="109.1 149.1 184.3 201.9 274.3 331.6 403.1 420.7 455.3" y="1277.0" fill="#62c048">AAAAAAAAA</text>
<text class="sq" x="76.7 94.6 240.3 259.2 367.8 387.3 438.6" y="1277.0" fill="#5878cc">CCCCCCC</text>
<text class="sq" x="129.2 220.5" y="1277.0" fill="#1a1a1a">GG</text>
<text class="sq" x="166.4 293.2 312.7 348.9" y="1277.0" fill="#e2504a">TTTT</text>
<path d="M70.2 1262.8h-3v18h3" fill="none" stroke="#5d7fca" stroke-width="1.6"/>
<text x="148.4" y="1444.9" font-size="10" font-weight="bold" text-anchor="middle" fill="#6e6e6e" letter-spacing="1.2">100</text>
<text x="331.6" y="1444.9" font-size="10" font-weight="bold" text-anchor="middle" fill="#6e6e6e" letter-spacing="1.2">110</text>
<line x1="67.2" y1="1449.6" x2="467.0" y2="1449.6" stroke="#c8c8c8" stroke-width="1"/>
<clipPath id="c67_1476"><rect x="67.2" y="1477.0" width="407.6" height="159.0"/></clipPath>
<rect x="67.2" y="1477.0" width="407.6" height="159.0" fill="#fbfbfa"/>
<g clip-path="url(#c67_1476)" stroke-width="1.8" stroke-linejoin="round">
<path d="M97 1634.4l2 -0.8l2 -1.9l2 -4.9l2 -9.6l2 -14.5l2 -15.8l2 -10.4l2 0.5l2 11.2l2 15.9l2 14.1l2 9.2l2 4.5l2 1.8l2 0.7zM135 1634.4l2 -0.9l2 -2.2l2 -5.3l2 -10.2l2 -14.8l2 -15.5l2 -9.3l2 1.9l2 12l2 15.9l2 13.6l2 8.5l2 4.1l2 1.6l2 0.6zM173 1634.4l2 -0.3l2 -1l2 -2.6l2 -6.1l2 -10.7l2 -14.1l2 -12.8l2 -5.4l2 4.8l2 11.7l2 11.3l2 4.5l2 -5.2l2 -12.3l2 -12.8l2 -5.7l2 5.2l2 13.4l2 15.2l2 11.7l2 6.7l2 3.1l2 1l2 0.4zM265 1634.4l2 -0.6l2 -1.5l2 -4.1l2 -8.9l2 -14.8l2 -18.3l2 -15l2 -4.2l2 8.9l2 17.2l2 17.6l2 12.6l2 6.9l2 2.9l2 1l2 0.3zM321 1634.4l2 -0.4l2 -1.2l2 -3.5l2 -7.7l2 -13.6l2 -17.6l2 -15.8l2 -6.3l2 6.7l2 16l2 17.6l2 13.3l2 7.6l2 3.3l2 1.2l2 0.4zM397 1634.4l2 -0.9l2 -1.9l2 -4.5l2 -8.2l2 -11.2l2 -10.6l2 -5.2l2 3.1l2 9.2l2 9.8l2 4.4l2 -4.5l2 -14l2 -19.1l2 -15.9l2 -4.1l2 10.2l2 18.9l2 19.1l2 13.6l2 7.4l2 3l2 1.1l2 0.3zM449 1634.4l2 -0.7l2 -1.7l2 -5l2 -10.9l2 -18.5l2 -23.3l2 -19.8l2 -6.5l2 10.4l2 21.6l2 22.7l2 16.7l2 9.2l2 4l2 1.3l2 0.5z" fill="#d9f2d0" fill-opacity="0.8" stroke="#55b93f"/>
<path d="M131 1634.4l2 -0.7l2 -1.2l2 -2.3l2 -3.1l2 -3l2 -1.6l2 0.7l2 2.7l2 3.2l2 2.6l2 1.4l2 0l2 -1.7l2 -4.6l2 -8.5l2 -11.8l2 -11.3l2 -5.7l2 3.1l2 10.1l2 12.2l2 9.7l2 5.8l2 2.7l2 0.9l2 0.4zM185 1634.4l2 -0.3l2 -0.5l2 -0.7l2 -0.9l2 -0.6l2 -0.1l2 0.5l2 0.8l2 0.8l2 0.6l2 0.4zM283 1634.4l2 -0.5l2 -1.5l2 -4l2 -8.5l2 -14.1l2 -17.2l2 -13.9l2 -3.6l2 8.7l2 16.2l2 15.9l2 10l2 2.5l2 -4.6l2 -9.3l2 -9.9l2 -5.3l2 2.1l2 8.6l2 10.6l2 8.8l2 5.3l2 2.4l2 1l2 0.3zM341 1634.4l2 -0.9l2 -2l2 -5.1l2 -10.1l2 -15l2 -16.1l2 -10.4l2 0.9l2 11.7l2 16.4l2 14.4l2 9.2l2 4.5l2 1.8l2 0.7zM467 1634.4l2 -0.6l2 -1.4l2 -3.1l2 -5.6l2 -7.5l2 -7l2 25.2z" fill="#f9d9d4" fill-opacity="0.8" stroke="#e0413a"/>
<path d="M59 1634.4l2 -41.2l2 9.5l2 10.6l2 5.9l2 -2.1l2 -10.6l2 -15.5l2 -13.3l2 -3.9l2 7.8l2 15.1l2 14.7l2 8.3l2 -0.9l2 -9.6l2 -14.9l2 -13.8l2 -5.3l2 6.3l2 14.5l2 15.7l2 11.8l2 6.6l2 2.9l2 1l2 0.4zM229 1634.4l2 -0.7l2 -1.8l2 -4.7l2 -9.4l2 -14.7l2 -16.5l2 -11.7l2 -0.7l2 10.6l2 16.1l2 14l2 6.9l2 -2l2 -10.5l2 -15.7l2 -14.6l2 -6l2 6.1l2 14.7l2 16.4l2 12.5l2 7.1l2 3.1l2 1.1l2 0.4zM303 1634.4l2 -0.5l2 -1l2 -2.5l2 -4.6l2 -6.5l2 -6.5l2 -3.4l2 1.3l2 5.5l2 6.8l2 5.6l2 3.4l2 1.6l2 0.8zM341 1634.4l2 -0.4l2 -0.9l2 -2l2 -3.6l2 -5l2 -4.7l2 -2.3l2 1.5l2 4.3l2 4.9l2 3.4l2 0.4l2 -3.9l2 -8.9l2 -13.6l2 -14.2l2 -8.5l2 1.7l2 10.9l2 14.3l2 11.1l2 4l2 -4.3l2 -12l2 -16.1l2 -13.1l2 -3.5l2 8.4l2 15.5l2 15.7l2 11.2l2 6l2 2.6l2 0.8l2 0.3zM431 1634.4l2 -0.3l2 -0.9l2 -2.9l2 -6.7l2 -12.5l2 -17.7l2 -17.5l2 -9.5l2 3.8l2 14.9l2 18.5l2 15.1l2 9.2l2 4.3l2 1.6l2 0.6z" fill="#dde3f5" fill-opacity="0.8" stroke="#4a6cc4"/>
<path d="M115 1634.4l2 -0.8l2 -1.7l2 -4.3l2 -8l2 -11.5l2 -11.5l2 -6.6l2 2.1l2 9.5l2 12.1l2 10.1l2 6.2l2 2.9l2 1.1l2 0.4zM153 1634.4l2 -0.4l2 -0.6l2 -1l2 -1.3l2 -1l2 -0.4l2 0.5l2 1.2l2 1.3l2 0.9l2 0.5l2 0.3zM209 1634.4l2 -0.4l2 -1l2 -2.7l2 -6l2 -9.8l2 -12.1l2 -9.9l2 -2.6l2 6l2 11.4l2 11.6l2 8.3l2 4.5l2 1.9l2 0.8z" fill="#d9d9d6" fill-opacity="0.8" stroke="#151515"/>
<path d="M67.2 1634.8H474.8" stroke="#c8443e" stroke-width="1.4"/>
</g>
<text class="sq" x="109.7 145.9 188.4 202.6 279.7 335.7 411.2 427.6 463.2" y="1492.3" fill="#62c048">AAAAAAAAA</text>
<text class="sq" x="75.1 94.0 241.9 260.8 375.1 393.0 444.9" y="1492.3" fill="#5878cc">CCCCCCC</text>
<text class="sq" x="128.0 224.0" y="1492.3" fill="#1a1a1a">GG</text>
<text class="sq" x="164.2 293.8 315.9 353.0" y="1492.3" fill="#e2504a">TTTT</text>
<rect x="303.9" y="1259.8" width="20.8" height="378.7" fill="none" stroke="#d9322b" stroke-width="3.1"/>
<rect x="342.0" y="1259.8" width="22.7" height="379.9" fill="none" stroke="#d9322b" stroke-width="3.1"/>
<text x="736.4" y="1247.8" font-size="22.5" text-anchor="middle">PARP1 gRNA7 Y889C (resistance/sensitising)</text>
<clipPath id="c509_1262"><rect x="509.9" y="1263.0" width="449.2" height="175.6"/></clipPath>
<rect x="509.9" y="1263.0" width="449.2" height="175.6" fill="#fbfbfa"/>
<line x1="632.7" y1="1281.0" x2="632.7" y2="1436.7" stroke="#bdbdbd" stroke-width="0.8" stroke-dasharray="2 3"/>
<line x1="831.0" y1="1281.0" x2="831.0" y2="1436.7" stroke="#bdbdbd" stroke-width="0.8" stroke-dasharray="2 3"/>
<g clip-path="url(#c509_1262)" stroke-width="1.8" stroke-linejoin="round">
<path d="M507 1436.7l2 -0.4l2 -0.9l2 -2.2l2 -4.8l2 -8.2l2 -11.8l2 -13.3l2 -10.8l2 -4.3l2 4.2l2 10.8l2 13.3l2 11.8l2 8.3l2 4.7l2 2.3l2 0.9l2 0.4zM543 1436.7l2 -0.3l2 -0.6l2 -1.4l2 -3.1l2 -5.2l2 -7.5l2 -8.2l2 -6.6l2 -2.3l2 2.8l2 6.9l2 8.3l2 7.2l2 5.1l2 2.8l2 1.3l2 0.8zM639 1436.7l2 -0.8l2 -1.7l2 -4l2 -7.8l2 -12.7l2 -16.8l2 -17l2 -11.5l2 -1.5l2 9.2l2 16.1l2 17.3l2 14l2 9.1l2 4.8l2 2.1l2 0.8l2 0.1l2 -0.4l2 -1.4l2 -3.3l2 -6.6l2 -11.1l2 -14.8l2 -15.6l2 -11.1l2 -2.4l2 7.5l2 14.1l2 15.8l2 13l2 8.6l2 4.7l2 2l2 0.6l2 -0.2l2 -0.8l2 -1.1l2 -1.3l2 -0.9l2 -0.3l2 0.4l2 1.1l2 1.2l2 1.1l2 0.8l2 0.4l2 0.3zM855 1436.7l2 -0.7l2 -1.2l2 -3l2 -5.5l2 -8.6l2 -10.9l2 -10.4l2 -6.3l2 0.2l2 6.2l2 8.7l2 6.6l2 1.1l2 -5.4l2 -9.6l2 -9.2l2 -4.2l2 3l2 8.6l2 10.1l2 6.8l2 0.9l2 -4.9l2 -7.7l2 -6.3l2 -1.3l2 4.7l2 9.1l2 10l2 8.4l2 5.6l2 3.1l2 1.3l2 0.8z" fill="#d9f2d0" fill-opacity="0.8" stroke="#55b93f"/>
<path d="M501 1436.7l2 -0.4l2 -0.5l2 -1l2 -1.4l2 -1.6l2 -1.4l2 -0.6l2 0.4l2 1.2l2 1.6l2 1.5l2 1.1l2 0.6l2 0.5zM617 1436.7l2 -0.3l2 -0.6l2 -1.7l2 -4l2 -7.4l2 -11.4l2 -14.4l2 -13.5l2 -7.9l2 0.9l2 9.3l2 14.1l2 14l2 10.7l2 6.6l2 3.4l2 1.5l2 0.7zM687 1436.7l2 -0.6l2 -0.9l2 -1.7l2 -2.7l2 -3.5l2 -3.5l2 -2.8l2 -1.7l2 -1.4l2 -2.7l2 -4.7l2 -5.9l2 -4.6l2 -0.5l2 4.4l2 7.8l2 8.6l2 7.2l2 4.8l2 2.6l2 1.1l2 0.3l2 -0.3l2 -1.2l2 -3.4l2 -7.2l2 -12.7l2 -18.3l2 -21l2 -17.5l2 -7.4l2 5.8l2 16.5l2 20.7l2 17.9l2 11.1l2 2.7l2 -5.2l2 -11.5l2 -14.4l2 -12.4l2 -5.4l2 4l2 11.7l2 14.9l2 13.5l2 9.5l2 5.3l2 1.9l2 -0.7l2 -3.1l2 -5.2l2 -6.8l2 -6.5l2 -4l2 0.2l2 4.3l2 6.6l2 6.7l2 5.3l2 3.2l2 1.7l2 0.7l2 0.4zM835 1436.7l2 -0.9l2 -1.6l2 -3.9l2 -7.4l2 -11.9l2 -15.2l2 -14.9l2 -9.5l2 -0.3l2 9.2l2 14.7l2 15.3l2 12.1l2 7.6l2 4l2 1.8l2 0.6l2 0.3z" fill="#f9d9d4" fill-opacity="0.8" stroke="#e0413a"/>
<path d="M525 1436.7l2 -0.3l2 -0.8l2 -2l2 -4.7l2 -8.8l2 -13.9l2 -17.5l2 -16.8l2 -10.2l2 0.6l2 11.1l2 17.1l2 17.3l2 13.4l2 8.4l2 4.3l2 1.9l2 0.6l2 0.3zM601 1436.7l2 -0.6l2 -1.3l2 -3.3l2 -7l2 -12.3l2 -17.9l2 -20.5l2 -17l2 -7.3l2 5.7l2 16.2l2 20.4l2 18.4l2 13.1l2 7.6l2 3.6l2 1.4l2 0.2l2 -0.7l2 -1.9l2 -3.8l2 -6.1l2 -8l2 -7.9l2 -5.3l2 -0.5l2 4.5l2 7.7l2 7.9l2 5.7l2 2.1l2 -2.6l2 -8l2 -13.5l2 -17.1l2 -16.2l2 -9.4l2 1.2l2 11.4l2 16.9l2 16.8l2 12.8l2 8l2 4l2 1.7l2 0.9zM703 1436.7l2 -0.6l2 -1.1l2 -2.4l2 -4.2l2 -6.2l2 -7.2l2 -6.1l2 -2.7l2 1.8l2 5.5l2 7.1l2 6.6l2 4.6l2 2.8l2 1.3l2 0.5l2 0.3zM749 1436.7l2 -0.3l2 -0.4l2 -0.7l2 -1.1l2 -1.3l2 -1l2 -0.6l2 0.3l2 0.9l2 0.9l2 0.5l2 -0.4l2 -1.5l2 -2.4l2 -2.5l2 -1.8l2 -0.1l2 1.4l2 2.2l2 2l2 0.5l2 -1.4l2 -3.3l2 -4.3l2 -3.6l2 -1.5l2 1.3l2 3.7l2 4.6l2 4.1l2 2.9l2 1.6l2 0.8l2 0.5zM853 1436.7l2 -0.4l2 -0.6l2 -1.1l2 -1.5l2 -1.8l2 -1.5l2 -0.7l2 0.5l2 1.4l2 1.8l2 1.6l2 1.1l2 0.7l2 0.5z" fill="#dde3f5" fill-opacity="0.8" stroke="#4a6cc4"/>
<path d="M501 1436.7l2 -24.5l2 -5.8l2 -1.8l2 3l2 6.4l2 7.5l2 6.5l2 4.4l2 2.5l2 1.1l2 0.3l2 -0.3l2 -1.1l2 -2.1l2 -3.5l2 -4.5l2 -4.6l2 -3.1l2 -0.3l2 2.5l2 4.4l2 4.7l2 3.7l2 2.4l2 1.3l2 0.6l2 0.3zM561 1436.7l2 -0.5l2 -1.1l2 -2.5l2 -5l2 -8l2 -10.4l2 -10.5l2 -7l2 -0.8l2 5.7l2 9.4l2 8.9l2 3.9l2 -3.9l2 -12.9l2 -20.7l2 -23.1l2 -17.6l2 -5l2 9.8l2 20.7l2 23.7l2 20.2l2 13.7l2 7.6l2 3.4l2 1.4l2 0.6zM711 1436.7l2 -0.6l2 -1.3l2 -3.6l2 -7.9l2 -14.6l2 -22.2l2 -27l2 -24.7l2 -13.4l2 3.4l2 18.8l2 26.7l2 25.8l2 19.3l2 11.7l2 5.9l2 2.5l2 0.9l2 0.3zM795 1436.7l2 -0.5l2 -1.1l2 -2.9l2 -6.5l2 -12.1l2 -18.5l2 -22.6l2 -20.8l2 -11.5l2 2.5l2 15.1l2 21.1l2 18.5l2 9.4l2 -2.7l2 -14l2 -20.6l2 -19.5l2 -10.2l2 3.9l2 16.4l2 22.5l2 21.3l2 15.8l2 9.4l2 4.7l2 2l2 0.6l2 0.3zM907 1436.7l2 -0.6l2 -1.3l2 -3.2l2 -6.5l2 -11.2l2 -15.5l2 -16.9l2 -13l2 -4.1l2 6.5l2 14.2l2 16.2l2 12.3l2 4.8l2 -4.3l2 -12.7l2 -18.2l2 -18l2 -10.9l2 0.8l2 11.7l2 17l2 15.1l2 7.8l2 -0.7l2 -6.6l2 -7.4l2 -3.4l2 3.2l2 44.9z" fill="#d9d9d6" fill-opacity="0.8" stroke="#151515"/>
<path d="M509.9 1437.1H959.1" stroke="#c8443e" stroke-width="1.4"/>
</g>
<text class="sq" x="520.9 558.1 654.1 688.4 869.7 888.2 904.9" y="1278.2" fill="#62c048">AAAAAAA</text>
<text class="sq" x="541.4 618.5 672.6" y="1278.2" fill="#5878cc">CCC</text>
<text class="sq" x="576.0 599.0 727.1 812.1 831.9 923.8 944.3" y="1278.2" fill="#1a1a1a">GGGGGGG</text>
<text class="sq" x="634.2 713.6 747.5 768.0 795.7 848.3" y="1278.2" fill="#e2504a">TTTTTT</text>
<path d="M513.8 1264.0h-3v18h3" fill="none" stroke="#5d7fca" stroke-width="1.6"/>
<text x="632.7" y="1449.3" font-size="10" font-weight="bold" text-anchor="middle" fill="#6e6e6e" letter-spacing="1.2">100</text>
<text x="831.0" y="1449.3" font-size="10" font-weight="bold" text-anchor="middle" fill="#6e6e6e" letter-spacing="1.2">110</text>
<clipPath id="c511_1461"><rect x="511.5" y="1461.3" width="446.0" height="188.2"/></clipPath>
<rect x="511.5" y="1461.3" width="446.0" height="188.2" fill="#fbfbfa"/>
<line x1="655.3" y1="1478.1" x2="655.3" y2="1647.9" stroke="#bdbdbd" stroke-width="0.8" stroke-dasharray="2 3"/>
<line x1="848.3" y1="1478.1" x2="848.3" y2="1647.9" stroke="#bdbdbd" stroke-width="0.8" stroke-dasharray="2 3"/>
<g clip-path="url(#c511_1461)" stroke-width="1.8" stroke-linejoin="round">
<path d="M509 1647.9l2 -0.4l2 -1l2 -2.5l2 -5.2l2 -9.5l2 -13.8l2 -15.9l2 -13.6l2 -6l2 4l2 12.3l2 15.9l2 14.5l2 10.4l2 6.1l2 2.9l2 1.2l2 0.6zM545 1647.9l2 -0.4l2 -0.6l2 -1.7l2 -3.6l2 -6l2 -8.4l2 -9.2l2 -7.1l2 -2.3l2 3.5l2 7.8l2 9.3l2 7.9l2 5.4l2 2.8l2 1l2 -0.3l2 -1l2 -1.3l2 -1l2 -0.5l2 0.4l2 1.1l2 1.4l2 1.1l2 0.9l2 0.4l2 0.4zM639 1647.9l2 -0.3l2 -0.7l2 -1.9l2 -3.9l2 -7.1l2 -10.2l2 -11.9l2 -10.1l2 -4.5l2 2.9l2 9.2l2 11.9l2 10.8l2 7.8l2 4.5l2 2.2l2 0.9l2 0.4zM677 1647.9l2 -0.6l2 -1.1l2 -2.5l2 -4.8l2 -7.8l2 -9.9l2 -9.7l2 -6.1l2 -0.2l2 6l2 9.6l2 10l2 7.8l2 5l2 2.6l2 1.1l2 0.6zM853 1647.9l2 -0.6l2 -1.1l2 -2.8l2 -5.3l2 -8.8l2 -11.6l2 -11.9l2 -8.3l2 -1.6l2 5.2l2 8.4l2 6.6l2 0.4l2 -6.6l2 -10.5l2 -9l2 -2.5l2 5.7l2 11.4l2 12l2 7.8l2 0.8l2 -5.7l2 -9.4l2 -8.4l2 -3.1l2 4l2 9.4l2 11.5l2 10.1l2 7l2 3.9l2 1.9l2 0.8l2 0.3z" fill="#d9f2d0" fill-opacity="0.8" stroke="#55b93f"/>
<path d="M503 1647.9l2 -0.4l2 -0.7l2 -1.4l2 -2.2l2 -3l2 -3.1l2 -2.2l2 -0.4l2 1.5l2 2.9l2 3.1l2 2.6l2 1.7l2 1l2 0.6zM621 1647.9l2 -0.6l2 -1.3l2 -3.1l2 -6l2 -9.9l2 -13l2 -13.4l2 -9.3l2 -1.4l2 7l2 12.5l2 13.6l2 11.1l2 7.3l2 3.8l2 1.8l2 0.6l2 0.3zM695 1647.9l2 -0.3l2 -0.6l2 -1.6l2 -3.2l2 -5.6l2 -7.9l2 -8.9l2 -7.1l2 -2.6l2 3l2 7.4l2 8.8l2 7.8l2 5.4l2 3.1l2 1.5l2 0.5l2 0.3zM733 1647.9l2 -0.5l2 -1.2l2 -3l2 -6.5l2 -11.6l2 -17.3l2 -20.3l2 -17.6l2 -8.4l2 4.3l2 15.1l2 19.6l2 17.2l2 9.7l2 0.1l2 -9.5l2 -17.1l2 -19.7l2 -15.4l2 -4.7l2 8l2 17.2l2 19.7l2 15.7l2 8.5l2 1.1l2 -4.2l2 -6.2l2 -4.6l2 -0.5l2 4.1l2 7l2 7.5l2 6.1l2 3.9l2 2.1l2 0.9l2 0.5zM835 1647.9l2 -0.8l2 -1.6l2 -3.7l2 -7.1l2 -11.4l2 -14.5l2 -14.3l2 -9.2l2 -0.2l2 8.8l2 14.1l2 14.7l2 11.5l2 7.3l2 3.9l2 1.6l2 0.6l2 0.3z" fill="#f9d9d4" fill-opacity="0.8" stroke="#e0413a"/>
<path d="M527 1647.9l2 -0.5l2 -1l2 -2.7l2 -5.8l2 -10.2l2 -14.9l2 -17.1l2 -14.3l2 -6.2l2 4.6l2 13.4l2 17l2 15.4l2 11l2 6.4l2 3.1l2 1.2l2 0.6zM601 1647.9l2 -0.3l2 -0.7l2 -2l2 -4.5l2 -8.7l2 -13.9l2 -17.9l2 -17.7l2 -11.3l2 -0.4l2 10.7l2 17.4l2 18l2 14.3l2 9.1l2 4.7l2 2.1l2 0.8l2 0.3zM657 1647.9l2 -0.3l2 -0.6l2 -1.9l2 -4.2l2 -8.3l2 -13.1l2 -17.1l2 -16.8l2 -10.9l2 -0.5l2 10l2 16.5l2 17.2l2 13.7l2 8.7l2 4.5l2 2.1l2 0.7l2 0.3zM789 1647.9l2 -0.3l2 -0.3l2 -0.8l2 -1.3l2 -1.6l2 -1.6l2 -1.1l2 -0.2l2 1l2 1.5l2 1.7l2 1.4l2 0.8l2 0.5l2 0.3z" fill="#dde3f5" fill-opacity="0.8" stroke="#4a6cc4"/>
<path d="M503 1647.9l2 -23.7l2 -4.6l2 -0.7l2 3.5l2 6.3l2 6.8l2 5.5l2 3.6l2 2l2 0.8l2 0.5zM525 1647.9l2 -0.3l2 -0.6l2 -1.1l2 -2.2l2 -3.1l2 -3.8l2 -3.3l2 -1.6l2 0.7l2 2.8l2 3.8l2 3.4l2 2.6l2 1.5l2 0.7l2 0.5zM561 1647.9l2 -0.3l2 -0.8l2 -1.8l2 -4l2 -7l2 -10.1l2 -11.7l2 -9.8l2 -4.2l2 3l2 8.7l2 10.2l2 6.9l2 -0.8l2 -10.9l2 -21.1l2 -27.5l2 -25.5l2 -14l2 3.6l2 19.7l2 27.9l2 27l2 20.2l2 12.3l2 6.1l2 2.6l2 0.9l2 0.4zM641 1647.9l2 -0.6l2 -1l2 -2.4l2 -4.6l2 -7.1l2 -9l2 -8.5l2 -5l2 0.5l2 5.7l2 8.8l2 8.7l2 6.8l2 4.2l2 2.1l2 0.9l2 0.5zM705 1647.9l2 -0.5l2 -0.7l2 -1.2l2 -1.9l2 -2.5l2 -2.8l2 -3.4l2 -4.9l2 -7.8l2 -11.1l2 -12.7l2 -10.2l2 -3.2l2 5.6l2 12.4l2 14.6l2 12.8l2 8.8l2 5l2 2.4l2 0.9l2 0.4zM793 1647.9l2 -0.7l2 -1.5l2 -3.8l2 -8.2l2 -14.5l2 -21l2 -24l2 -20.1l2 -8.5l2 6.5l2 18.7l2 22.9l2 19l2 9.2l2 -2.8l2 -14l2 -21.4l2 -21.7l2 -13.3l2 0.8l2 14.6l2 22.7l2 22.8l2 17.8l2 11.1l2 5.7l2 2.4l2 0.9l2 0.4zM905 1647.9l2 -0.6l2 -1.3l2 -3.1l2 -6.5l2 -11.3l2 -15.8l2 -17.6l2 -13.9l2 -4.8l2 6l2 14.1l2 15.9l2 11.2l2 2l2 -8.5l2 -17.3l2 -20.6l2 -16.2l2 -4.8l2 8.7l2 18.2l2 20.2l2 14.9l2 5.8l2 -3.4l2 -9.5l2 -10.2l2 -5.8l2 1.8l2 52.4z" fill="#d9d9d6" fill-opacity="0.8" stroke="#151515"/>
<path d="M511.5 1648.3H957.5" stroke="#c8443e" stroke-width="1.4"/>
</g>
<text class="sq" x="523.4 559.6 655.3 691.5 867.8 885.1 903.4" y="1475.3" fill="#62c048">AAAAAAA</text>
<text class="sq" x="543.0 619.4 673.6" y="1475.3" fill="#5878cc">CCC</text>
<text class="sq" x="576.0 599.6 728.0 808.9 831.0 922.2 941.8" y="1475.3" fill="#1a1a1a">GGGGGGG</text>
<text class="sq" x="635.2 712.0 748.2 768.6 792.2 848.3" y="1475.3" fill="#e2504a">TTTTTT</text>
<path d="M515.4 1461.1h-3v18h3" fill="none" stroke="#5d7fca" stroke-width="1.6"/>
<text x="655.3" y="1661.2" font-size="10" font-weight="bold" text-anchor="middle" fill="#6e6e6e" letter-spacing="1.2">80</text>
<text x="848.3" y="1661.2" font-size="10" font-weight="bold" text-anchor="middle" fill="#6e6e6e" letter-spacing="1.2">90</text>
<rect x="642.7" y="1254.5" width="25.2" height="405.1" fill="none" stroke="#d9322b" stroke-width="3.1"/>
<text x="1205.2" y="1247.8" font-size="22.5" text-anchor="middle">PARP1 gRNA8 M1V start lost (resistance)</text>
<line x1="1001.9" y1="1267.0" x2="1397.5" y2="1267.0" stroke="#c8c8c8" stroke-width="1"/>
<clipPath id="c1001_1267"><rect x="1001.9" y="1267.7" width="395.7" height="166.8"/></clipPath>
<rect x="1001.9" y="1267.7" width="395.7" height="166.8" fill="#fbfbfa"/>
<line x1="1101.6" y1="1288.3" x2="1101.6" y2="1432.3" stroke="#bdbdbd" stroke-width="0.8" stroke-dasharray="2 3"/>
<line x1="1274.8" y1="1288.3" x2="1274.8" y2="1432.3" stroke="#bdbdbd" stroke-width="0.8" stroke-dasharray="2 3"/>
<g clip-path="url(#c1001_1267)" stroke-width="1.8" stroke-linejoin="round">
<path d="M1035 1432.3l2 -0.4l2 -1.1l2 -2.9l2 -6.5l2 -11.8l2 -17.5l2 -20.1l2 -16.2l2 -5.6l2 7.5l2 17.2l2 20l2 16.8l2 11l2 5.8l2 2.5l2 0.9l2 0.4zM1087 1432.3l2 -0.6l2 -1.3l2 -3.4l2 -7.1l2 -12.1l2 -16.3l2 -17l2 -11.4l2 -0.9l2 10l2 16.4l2 16.8l2 12.9l2 7.8l2 3.9l2 1.6l2 0.7zM1209 1432.3l2 -0.3l2 -0.9l2 -2.5l2 -6l2 -11.8l2 -18.8l2 -23.7l2 -22.1l2 -11.8l2 3.6l2 17.4l2 23.8l2 22.1l2 15.7l2 8.9l2 4.1l2 1.6l2 0.7zM1369 1432.3l2 -0.9l2 -1.9l2 -4.7l2 -9.7l2 -15.9l2 -20.8l2 -20.6l2 -12.6l2 1l2 13.9l2 21l2 20.5l2 15.1l2 8.9l2 4.3l2 1.6l2 0.8z" fill="#d9f2d0" fill-opacity="0.8" stroke="#55b93f"/>
<path d="M1103 1432.3l2 -0.7l2 -1.5l2 -3.2l2 -6.1l2 -9l2 -10.4l2 -8.6l2 -3.3l2 3.6l2 8.8l2 10.4l2 8.9l2 5.9l2 3.1l2 1.4l2 0.7zM1245 1432.3l2 -0.7l2 -1.5l2 -3.3l2 -6.4l2 -9.9l2 -11.8l2 -10.4l2 -4.7l2 3l2 9.4l2 11.9l2 10.5l2 7.2l2 4l2 1.7l2 0.7l2 0l2 -0.5l2 -1.6l2 -3.7l2 -7.1l2 -10.8l2 -13.1l2 -11.5l2 -5.3l2 3.1l2 9.4l2 10.4l2 5.7l2 -2.4l2 -10.4l2 -14.1l2 -11.3l2 -2.7l2 7.7l2 14.7l2 16l2 12.9l2 8.1l2 4.2l2 1.7l2 0.9zM1383 1432.3l2 -0.7l2 -1.5l2 -3.4l2 -6.3l2 -9.6l2 -11.4l2 -9.6l2 -4.1l2 3.4l2 9.3l2 33.9z" fill="#f9d9d4" fill-opacity="0.8" stroke="#e0413a"/>
<path d="M1155 1432.3l2 -0.4l2 -0.8l2 -2l2 -3.9l2 -6.3l2 -7.8l2 -7.2l2 -3.8l2 1.2l2 5.8l2 7.9l2 7.2l2 5.1l2 2.9l2 1.4l2 0.7zM1259 1432.3l2 -0.3l2 -0.8l2 -2.2l2 -5.1l2 -9.8l2 -15.2l2 -18.4l2 -16.3l2 -7.6l2 4.4l2 14.4l2 18.5l2 16.5l2 11.3l2 6.3l2 2.8l2 1.1l2 0.4zM1313 1432.3l2 -0.5l2 -1l2 -2.9l2 -6l2 -10.7l2 -15.1l2 -16.4l2 -12.1l2 -2.6l2 8l2 15.1l2 16.3l2 13l2 8.2l2 4.1l2 1.8l2 0.8z" fill="#dde3f5" fill-opacity="0.8" stroke="#4a6cc4"/>
<path d="M993 1432.3l2 -42.2l2 -0.7l2 5.7l2 9.3l2 8.4l2 3.4l2 -3.5l2 -10.4l2 -14l2 -12.5l2 -5.3l2 4.4l2 11.9l2 13.6l2 9.9l2 2.8l2 -4.1l2 -8.3l2 -8l2 -3.3l2 3.4l2 8.7l2 10.4l2 9l2 6l2 3.2l2 1.5l2 0.7zM1051 1432.3l2 -0.4l2 -0.9l2 -2.2l2 -4.5l2 -7.6l2 -10l2 -10.1l2 -6.3l2 0l2 6l2 8.7l2 6.5l2 0.2l2 -7.4l2 -13.5l2 -14.6l2 -9.3l2 0.6l2 10.4l2 15.7l2 15.4l2 11.4l2 6.8l2 3.2l2 1.3l2 0.6zM1117 1432.3l2 -0.3l2 -0.7l2 -2.1l2 -5l2 -10.1l2 -16.1l2 -20.6l2 -19.4l2 -10.9l2 2.4l2 14.4l2 19.6l2 16.6l2 8l2 -2.2l2 -10.2l2 -13.1l2 -9.4l2 -0.9l2 8.3l2 14l2 14.5l2 11.1l2 6.7l2 3.4l2 1.4l2 0.6zM1173 1432.3l2 -0.5l2 -1.1l2 -2.8l2 -5.5l2 -9l2 -11.6l2 -11.3l2 -6.7l2 0.8l2 7.9l2 11l2 9.4l2 4.2l2 -2.5l2 -8.3l2 -10.8l2 -8.8l2 -2.5l2 5.1l2 10.5l2 11.6l2 9.6l2 6.1l2 3.2l2 1.3l2 0.7zM1227 1432.3l2 -0.5l2 -1l2 -2.2l2 -4l2 -5.7l2 -6.4l2 -4.9l2 -1.4l2 2.8l2 5.7l2 6.3l2 5.2l2 3.3l2 1.7l2 0.7l2 0.4zM1331 1432.3l2 -0.4l2 -0.7l2 -2l2 -3.8l2 -6.4l2 -8.2l2 -8l2 -4.7l2 0.6l2 5.4l2 7.6l2 6l2 1.6l2 -4.6l2 -10.3l2 -13.3l2 -11.3l2 -4.5l2 4.6l2 11.7l2 13.9l2 11.8l2 7.9l2 4.3l2 1.8l2 0.7l2 0.3z" fill="#d9d9d6" fill-opacity="0.8" stroke="#151515"/>
<path d="M1001.9 1432.7H1397.5" stroke="#c8443e" stroke-width="1.4"/>
</g>
<text class="sq" x="1050.7 1102.6 1226.0 1384.9" y="1285.5" fill="#62c048">AAAA</text>
<text class="sq" x="1169.3 1275.7 1328.9" y="1285.5" fill="#5878cc">CCC</text>
<text class="sq" x="1013.5 1031.8 1067.6 1084.3 1134.1 1152.9 1188.2 1207.1 1240.1 1347.2 1366.0" y="1285.5" fill="#1a1a1a">GGGGGGGGGGG</text>
<text class="sq" x="1116.4 1259.0 1293.0 1311.6" y="1285.5" fill="#e2504a">TTTT</text>
<path d="M1005.5 1271.3h-3v18h3" fill="none" stroke="#5d7fca" stroke-width="1.6"/>
<text x="1101.6" y="1444.0" font-size="10" font-weight="bold" text-anchor="middle" fill="#6e6e6e" letter-spacing="1.2">100</text>
<text x="1274.8" y="1444.0" font-size="10" font-weight="bold" text-anchor="middle" fill="#6e6e6e" letter-spacing="1.2">110</text>
<line x1="1001.9" y1="1455.6" x2="1397.5" y2="1455.6" stroke="#c8c8c8" stroke-width="1"/>
<clipPath id="c1000_1461"><rect x="1000.9" y="1461.3" width="390.9" height="177.8"/></clipPath>
<rect x="1000.9" y="1461.3" width="390.9" height="177.8" fill="#fbfbfa"/>
<line x1="1030.8" y1="1477.8" x2="1030.8" y2="1636.9" stroke="#bdbdbd" stroke-width="0.8" stroke-dasharray="2 3"/>
<line x1="1205.5" y1="1477.8" x2="1205.5" y2="1636.9" stroke="#bdbdbd" stroke-width="0.8" stroke-dasharray="2 3"/>
<line x1="1380.8" y1="1477.8" x2="1380.8" y2="1636.9" stroke="#bdbdbd" stroke-width="0.8" stroke-dasharray="2 3"/>
<g clip-path="url(#c1000_1461)" stroke-width="1.8" stroke-linejoin="round">
<path d="M1034 1636.9l2 -0.3l2 -0.6l2 -1.8l2 -4.3l2 -8l2 -12.4l2 -14.9l2 -13.1l2 -5.9l2 3.8l2 11.9l2 14.9l2 13.3l2 9l2 5l2 2.2l2 0.9l2 0.3zM1086 1636.9l2 -0.3l2 -0.8l2 -2.1l2 -4.9l2 -9.3l2 -14.2l2 -16.9l2 -14.6l2 -6.4l2 4.7l2 13.6l2 16.9l2 14.5l2 9.5l2 4.4l2 0.9l2 -0.8l2 -1.1l2 -0.3l2 0.7l2 1.6l2 1.8l2 1.4l2 0.9l2 0.5l2 0.3zM1208 1636.9l2 -0.5l2 -1.2l2 -3.2l2 -6.6l2 -11.6l2 -16.1l2 -17.2l2 -12.1l2 -2l2 9.1l2 16.1l2 17l2 13.4l2 8.2l2 4.2l2 1.6l2 0.5l2 -0.3l2 -0.9l2 -1.7l2 -2.5l2 -2.9l2 -2.4l2 -0.9l2 1.1l2 2.5l2 2.9l2 2.5l2 1.6l2 0.8l2 0.6zM1364 1636.9l2 -0.3l2 -0.8l2 -2.3l2 -5.5l2 -11.2l2 -18.1l2 -23.3l2 -22.4l2 -12.9l2 2.2l2 16.3l2 23.5l2 22.3l2 16.2l2 9.4l2 4.4l2 2.5z" fill="#d9f2d0" fill-opacity="0.8" stroke="#55b93f"/>
<path d="M1032 1636.9l2 -0.4l2 -0.5l2 -0.9l2 -1.2l2 -1.2l2 -0.7l2 0l2 0.7l2 1.2l2 1.2l2 0.9l2 0.5l2 0.4zM1102 1636.9l2 -0.4l2 -0.9l2 -2.2l2 -4.5l2 -7.5l2 -10l2 -9.9l2 -6.3l2 0.2l2 6.5l2 10l2 9.9l2 7.4l2 4.4l2 2.1l2 0.8l2 0.4zM1204 1636.9l2 -0.3l2 -0.7l2 -1.4l2 -2.5l2 -3.6l2 -4.1l2 -3.1l2 -0.9l2 1.7l2 3.6l2 4l2 3.4l2 2.1l2 1.1l2 0.7zM1244 1636.9l2 -0.6l2 -1.3l2 -3l2 -6l2 -9.6l2 -12.1l2 -11.4l2 -6.3l2 1.7l2 8.8l2 12.2l2 11.4l2 8.2l2 4.6l2 2.2l2 0.7l2 -0.1l2 -1l2 -2.8l2 -5.7l2 -9.6l2 -12.9l2 -13l2 -8.3l2 -0.2l2 7.8l2 11.7l2 9.8l2 3.4l2 -4.6l2 -11.1l2 -12.7l2 -8.4l2 0.3l2 9.1l2 13.9l2 13.8l2 10.3l2 6.1l2 3l2 1.2l2 0.5zM1378 1636.9l2 -0.4l2 -0.9l2 -2l2 -3.9l2 -6l2 -7.5l2 -6.7l2 -3.4l2 1.6l2 29.2z" fill="#f9d9d4" fill-opacity="0.8" stroke="#e0413a"/>
<path d="M1154 1636.9l2 -0.8l2 -1.6l2 -3.7l2 -6.7l2 -10l2 -11.6l2 -9.5l2 -3.6l2 4l2 9.7l2 11.6l2 9.9l2 6.5l2 3.5l2 1.5l2 0.8zM1258 1636.9l2 -0.4l2 -1l2 -2.7l2 -5.9l2 -10.7l2 -15.4l2 -17.3l2 -13.5l2 -4.1l2 7.2l2 15.3l2 17.3l2 14.2l2 9.2l2 4.7l2 2.1l2 0.7l2 0.3zM1310 1636.9l2 -0.4l2 -1l2 -2.6l2 -5.8l2 -10.3l2 -14.9l2 -16.6l2 -12.7l2 -3.5l2 7.2l2 14.8l2 16.5l2 13.4l2 8.6l2 4.5l2 1.9l2 0.6l2 0.3z" fill="#dde3f5" fill-opacity="0.8" stroke="#4a6cc4"/>
<path d="M992 1636.9l2 -45l2 -4.7l2 3.1l2 9.5l2 11.3l2 8.4l2 2.1l2 -5.5l2 -12.6l2 -16.3l2 -13.9l2 -5.7l2 5.2l2 13.3l2 15l2 10.3l2 1.8l2 -6.5l2 -11.3l2 -10.5l2 -4.2l2 4.5l2 10.9l2 12.2l2 8.6l2 2.4l2 -3.3l2 -5.9l2 -4.8l2 -0.8l2 3.8l2 5.7l2 3.6l2 -2.1l2 -9.3l2 -14.6l2 -14.7l2 -8.3l2 2l2 10.9l2 13.7l2 8.9l2 -1l2 -11.6l2 -17.6l2 -15.7l2 -5.8l2 7.4l2 17.3l2 19.9l2 15.8l2 8.3l2 0.8l2 -4.1l2 -5.6l2 -3.7l2 0.6l2 4.7l2 6.8l2 6.6l2 4.8l2 2.8l2 1.2l2 0.1l2 -1.3l2 -3.8l2 -8.5l2 -15.1l2 -21.8l2 -24.2l2 -18.6l2 -5.1l2 10.4l2 21l2 22.3l2 15.4l2 4.1l2 -6.8l2 -14l2 -14.5l2 -8l2 2.8l2 12.4l2 16.9l2 15.5l2 11l2 6.2l2 2.9l2 1.1l2 0.5zM1172 1636.9l2 -0.4l2 -0.8l2 -2.3l2 -5.1l2 -9.3l2 -13.5l2 -15.4l2 -12.2l2 -3.9l2 5.9l2 12.9l2 13.9l2 9.2l2 1.3l2 -7l2 -12.5l2 -12.9l2 -7.5l2 1.7l2 10.2l2 14.5l2 13.6l2 9.8l2 5.7l2 2.6l2 0.8l2 -0.2l2 -1.5l2 -3.5l2 -6.8l2 -10.3l2 -12.3l2 -10.5l2 -4.5l2 3.4l2 10l2 12.3l2 10.7l2 7.3l2 3.9l2 1.8l2 0.6l2 0.3zM1328 1636.9l2 -0.5l2 -1l2 -2.4l2 -4.8l2 -7.8l2 -9.8l2 -9.4l2 -5.2l2 1.2l2 7l2 9.5l2 8.1l2 3.6l2 -2.6l2 -9.1l2 -13.9l2 -14.8l2 -9.8l2 -0.5l2 9.1l2 14.7l2 14.9l2 11.3l2 6.9l2 3.3l2 1.4l2 0.6z" fill="#d9d9d6" fill-opacity="0.8" stroke="#151515"/>
<path d="M1000.9 1637.3H1391.9" stroke="#c8443e" stroke-width="1.4"/>
</g>
<text class="sq" x="1049.1 1101.6 1220.3 1381.8" y="1475.0" fill="#62c048">AAAA</text>
<text class="sq" x="1168.4 1275.7 1325.8" y="1475.0" fill="#5878cc">CCC</text>
<text class="sq" x="1014.1 1032.4 1066.1 1084.3 1134.1 1152.0 1187.6 1207.1 1237.0 1343.1 1363.8" y="1475.0" fill="#1a1a1a">GGGGGGGGGGG</text>
<text class="sq" x="1118.3 1256.8 1291.1 1307.8" y="1475.0" fill="#e2504a">TTTT</text>
<path d="M1005.5 1460.8h-3v18h3" fill="none" stroke="#5d7fca" stroke-width="1.6"/>
<text x="1030.8" y="1649.2" font-size="10" font-weight="bold" text-anchor="middle" fill="#6e6e6e" letter-spacing="1.2">100</text>
<text x="1205.5" y="1649.2" font-size="10" font-weight="bold" text-anchor="middle" fill="#6e6e6e" letter-spacing="1.2">110</text>
<text x="1380.8" y="1649.2" font-size="10" font-weight="bold" text-anchor="middle" fill="#6e6e6e" letter-spacing="1.2">120</text>
<line x1="1000.9" y1="1653.9" x2="1391.9" y2="1653.9" stroke="#c8c8c8" stroke-width="1"/>
<rect x="1090.0" y="1267.7" width="24.9" height="385.0" fill="none" stroke="#d9322b" stroke-width="3.1"/>
<text x="34.0" y="1741.3" font-size="38" font-weight="bold" fill="#222">c</text>
<text x="166.0" y="1751.4" font-size="29.2">MHH-ES-1 - ABE</text>
<text x="105.5" y="1938.5" font-size="25.2" text-anchor="middle" transform="rotate(-90 105.5 1938.5)">CTG (% control)</text>
<path d="M153.1 1823.2C154.5 1823.2 158.8 1823.4 161.6 1823.5C164.5 1823.6 167.3 1823.8 170.2 1823.9C173.0 1824.0 175.8 1824.1 178.7 1824.3C181.5 1824.4 184.4 1824.6 187.2 1824.8C190.0 1824.9 192.9 1825.1 195.7 1825.3C198.6 1825.5 201.4 1825.6 204.2 1825.9C207.1 1826.1 209.9 1826.3 212.8 1826.5C215.6 1826.7 218.4 1827.0 221.3 1827.2C224.1 1827.5 227.0 1827.7 229.8 1828.0C232.6 1828.3 235.5 1828.6 238.3 1828.9C241.2 1829.3 244.0 1829.6 246.8 1829.9C249.7 1830.3 252.5 1830.7 255.4 1831.1C258.2 1831.5 261.0 1831.9 263.9 1832.3C266.7 1832.8 269.6 1833.2 272.4 1833.7C275.2 1834.2 278.1 1834.7 280.9 1835.3C283.8 1835.8 286.6 1836.4 289.4 1837.0C292.3 1837.6 295.1 1838.2 298.0 1838.9C300.8 1839.5 303.6 1840.2 306.5 1841.0C309.3 1841.7 312.2 1842.5 315.0 1843.3C317.8 1844.1 320.7 1845.0 323.5 1845.9C326.4 1846.8 329.2 1847.7 332.0 1848.7C334.9 1849.7 337.7 1850.8 340.6 1851.9C343.4 1852.9 346.2 1854.1 349.1 1855.3C351.9 1856.5 354.8 1857.7 357.6 1859.0C360.4 1860.3 363.3 1861.7 366.1 1863.1C368.9 1864.5 371.8 1866.0 374.6 1867.5C377.5 1869.1 380.3 1870.7 383.1 1872.4C386.0 1874.0 388.8 1875.8 391.7 1877.6C394.5 1879.4 397.3 1881.2 400.2 1883.2C403.0 1885.1 405.9 1887.1 408.7 1889.1C411.5 1891.2 414.4 1893.3 417.2 1895.5C420.1 1897.7 422.9 1900.0 425.7 1902.3C428.6 1904.7 431.4 1907.0 434.3 1909.5C437.1 1911.9 439.9 1914.5 442.8 1917.0C445.6 1919.6 448.5 1922.2 451.3 1924.9C454.1 1927.6 457.0 1930.3 459.8 1933.1C462.7 1935.8 465.5 1938.7 468.3 1941.5C471.2 1944.4 474.0 1947.3 476.9 1950.2C479.7 1953.1 482.5 1956.0 485.4 1959.0C488.2 1961.9 491.1 1964.9 493.9 1967.9C496.7 1970.9 499.6 1973.9 502.4 1976.9C505.3 1979.9 508.1 1982.9 510.9 1985.9C513.8 1988.9 516.6 1991.8 519.5 1994.8C522.3 1997.7 525.1 2000.7 528.0 2003.6C530.8 2006.5 533.7 2009.3 536.5 2012.2C539.3 2015.0 542.2 2017.8 545.0 2020.5C547.9 2023.3 550.7 2026.0 553.5 2028.6C556.4 2031.3 559.2 2033.9 562.1 2036.4C564.9 2039.0 567.7 2041.5 570.6 2043.9C573.4 2046.3 577.7 2049.8 579.1 2050.9" fill="none" stroke="#e8963c" stroke-width="2.5"/>
<path d="M153.1 1816.4C154.5 1816.4 158.8 1816.4 161.6 1816.4C164.5 1816.4 167.3 1816.4 170.2 1816.4C173.0 1816.4 175.8 1816.4 178.7 1816.4C181.5 1816.4 184.4 1816.4 187.2 1816.4C190.0 1816.4 192.9 1816.4 195.7 1816.4C198.6 1816.4 201.4 1816.4 204.2 1816.4C207.1 1816.5 209.9 1816.5 212.8 1816.5C215.6 1816.5 218.4 1816.5 221.3 1816.5C224.1 1816.5 227.0 1816.5 229.8 1816.5C232.6 1816.6 235.5 1816.6 238.3 1816.6C241.2 1816.6 244.0 1816.6 246.8 1816.7C249.7 1816.7 252.5 1816.7 255.4 1816.7C258.2 1816.8 261.0 1816.8 263.9 1816.8C266.7 1816.9 269.6 1816.9 272.4 1816.9C275.2 1817.0 278.1 1817.0 280.9 1817.1C283.8 1817.1 286.6 1817.2 289.4 1817.3C292.3 1817.3 295.1 1817.4 298.0 1817.5C300.8 1817.6 303.6 1817.7 306.5 1817.8C309.3 1817.9 312.2 1818.0 315.0 1818.1C317.8 1818.2 320.7 1818.4 323.5 1818.5C326.4 1818.7 329.2 1818.9 332.0 1819.1C334.9 1819.3 337.7 1819.5 340.6 1819.7C343.4 1820.0 346.2 1820.2 349.1 1820.5C351.9 1820.9 354.8 1821.2 357.6 1821.6C360.4 1821.9 363.3 1822.3 366.1 1822.8C368.9 1823.3 371.8 1823.8 374.6 1824.3C377.5 1824.9 380.3 1825.5 383.1 1826.2C386.0 1826.9 388.8 1827.7 391.7 1828.5C394.5 1829.4 397.3 1830.3 400.2 1831.3C403.0 1832.4 405.9 1833.5 408.7 1834.8C411.5 1836.0 414.4 1837.4 417.2 1838.9C420.1 1840.4 422.9 1842.0 425.7 1843.9C428.6 1845.7 431.4 1847.6 434.3 1849.7C437.1 1851.9 439.9 1854.2 442.8 1856.7C445.6 1859.2 448.5 1861.9 451.3 1864.8C454.1 1867.7 457.0 1870.8 459.8 1874.1C462.7 1877.4 465.5 1880.9 468.3 1884.6C471.2 1888.3 474.0 1892.3 476.9 1896.3C479.7 1900.4 482.5 1904.7 485.4 1909.2C488.2 1913.6 491.1 1918.2 493.9 1922.8C496.7 1927.5 499.6 1932.3 502.4 1937.2C505.3 1942.0 508.1 1946.9 510.9 1951.8C513.8 1956.6 516.6 1961.6 519.5 1966.4C522.3 1971.2 525.1 1976.0 528.0 1980.6C530.8 1985.2 533.7 1989.8 536.5 1994.1C539.3 1998.5 542.2 2002.7 545.0 2006.7C547.9 2010.7 550.7 2014.6 553.5 2018.2C556.4 2021.8 559.2 2025.3 562.1 2028.5C564.9 2031.7 567.7 2034.7 570.6 2037.6C573.4 2040.4 577.7 2044.1 579.1 2045.4" fill="none" stroke="#000" stroke-width="2.5"/>
<path d="M153.1 1789.0V2070.8H579.0" fill="none" stroke="#000" stroke-width="2.3" stroke-linejoin="miter"/>
<line x1="153.1" y1="2070.8" x2="153.1" y2="2078.3" stroke="#000" stroke-width="2.2"/>
<text x="153.1" y="2096.0" font-size="21.5" text-anchor="middle">0</text>
<line x1="238.3" y1="2070.8" x2="238.3" y2="2078.3" stroke="#000" stroke-width="2.2"/>
<text x="238.3" y="2096.0" font-size="21.5" text-anchor="middle">1</text>
<line x1="323.1" y1="2070.8" x2="323.1" y2="2078.3" stroke="#000" stroke-width="2.2"/>
<text x="323.1" y="2096.0" font-size="21.5" text-anchor="middle">10</text>
<line x1="408.0" y1="2070.8" x2="408.0" y2="2078.3" stroke="#000" stroke-width="2.2"/>
<text x="408.0" y="2096.0" font-size="21.5" text-anchor="middle">100</text>
<line x1="492.8" y1="2070.8" x2="492.8" y2="2078.3" stroke="#000" stroke-width="2.2"/>
<text x="492.8" y="2096.0" font-size="21.5" text-anchor="middle">1000</text>
<line x1="578.0" y1="2070.8" x2="578.0" y2="2078.3" stroke="#000" stroke-width="2.2"/>
<text x="578.0" y="2096.0" font-size="21.5" text-anchor="middle">10000</text>
<line x1="145.6" y1="1813.7" x2="153.1" y2="1813.7" stroke="#000" stroke-width="2.2"/>
<text x="147.6" y="1821.3" font-size="21.5" text-anchor="end">100</text>
<line x1="145.6" y1="1865.1" x2="153.1" y2="1865.1" stroke="#000" stroke-width="2.2"/>
<text x="147.6" y="1872.7" font-size="21.5" text-anchor="end">80</text>
<line x1="145.6" y1="1916.6" x2="153.1" y2="1916.6" stroke="#000" stroke-width="2.2"/>
<text x="147.6" y="1924.2" font-size="21.5" text-anchor="end">60</text>
<line x1="145.6" y1="1968.0" x2="153.1" y2="1968.0" stroke="#000" stroke-width="2.2"/>
<text x="147.6" y="1975.6" font-size="21.5" text-anchor="end">40</text>
<line x1="145.6" y1="2019.4" x2="153.1" y2="2019.4" stroke="#000" stroke-width="2.2"/>
<text x="147.6" y="2027.0" font-size="21.5" text-anchor="end">20</text>
<line x1="145.6" y1="2070.8" x2="153.1" y2="2070.8" stroke="#000" stroke-width="2.2"/>
<text x="147.6" y="2078.4" font-size="21.5" text-anchor="end">0</text>
<path d="M238.3 1829.5V1849.4M232.1 1829.5h12.4M232.1 1849.4h12.4" stroke="#e8963c" stroke-width="2.3" fill="none"/>
<circle cx="238.3" cy="1839.6" r="5.6" fill="#e8963c"/>
<path d="M323.1 1841.9V1865.1M316.9 1841.9h12.4M316.9 1865.1h12.4" stroke="#e8963c" stroke-width="2.3" fill="none"/>
<circle cx="323.1" cy="1853.9" r="5.6" fill="#e8963c"/>
<path d="M408.0 1864.4V1890.3M401.8 1864.4h12.4M401.8 1890.3h12.4" stroke="#e8963c" stroke-width="2.3" fill="none"/>
<circle cx="408.0" cy="1877.5" r="5.6" fill="#e8963c"/>
<circle cx="492.8" cy="1966.5" r="5.6" fill="#e8963c"/>
<circle cx="578.0" cy="2050.9" r="5.6" fill="#e8963c"/>
<path d="M153.1 1803.2V1823.9M146.9 1803.2h12.4M146.9 1823.9h12.4" stroke="#000" stroke-width="2.3" fill="none"/>
<circle cx="153.1" cy="1813.7" r="5.6" fill="#000"/>
<path d="M238.3 1804.3V1827.6M232.1 1804.3h12.4M232.1 1827.6h12.4" stroke="#000" stroke-width="2.3" fill="none"/>
<circle cx="238.3" cy="1816.3" r="5.6" fill="#000"/>
<path d="M323.1 1811.5V1831.4M316.9 1811.5h12.4M316.9 1831.4h12.4" stroke="#000" stroke-width="2.3" fill="none"/>
<circle cx="323.1" cy="1821.2" r="5.6" fill="#000"/>
<path d="M408.0 1823.1V1845.6M401.8 1823.1h12.4M401.8 1845.6h12.4" stroke="#000" stroke-width="2.3" fill="none"/>
<circle cx="408.0" cy="1834.4" r="5.6" fill="#000"/>
<path d="M492.8 1913.9V1925.9M486.6 1913.9h12.4M486.6 1925.9h12.4" stroke="#000" stroke-width="2.3" fill="none"/>
<circle cx="492.8" cy="1920.7" r="5.6" fill="#000"/>
<circle cx="578.0" cy="2045.3" r="5.6" fill="#000"/>
<text x="199.8" y="1923.3" font-size="37.5" fill="#d8402f">***</text>
<text x="195.2" y="1963.8" font-size="25.4">NT gRNA</text>
<text x="195.9" y="1994.6" font-size="25.4" fill="#e8963c">PARP1 I691T</text>
<text x="366.0" y="2124.0" font-size="22.5" text-anchor="middle">olaparib (nM)</text>
<path d="M661.8 1815.9C663.2 1815.9 667.5 1815.9 670.3 1815.9C673.2 1815.9 676.0 1816.0 678.9 1816.0C681.7 1816.0 684.5 1816.0 687.4 1816.0C690.2 1816.0 693.1 1816.0 695.9 1816.0C698.7 1816.0 701.6 1816.0 704.4 1816.0C707.3 1816.0 710.1 1816.0 712.9 1816.0C715.8 1816.0 718.6 1816.0 721.5 1816.0C724.3 1816.0 727.1 1816.0 730.0 1816.1C732.8 1816.1 735.7 1816.1 738.5 1816.1C741.3 1816.1 744.2 1816.1 747.0 1816.2C749.9 1816.2 752.7 1816.2 755.5 1816.2C758.4 1816.3 761.2 1816.3 764.0 1816.3C766.9 1816.4 769.7 1816.4 772.6 1816.5C775.4 1816.5 778.2 1816.6 781.1 1816.7C783.9 1816.8 786.8 1816.8 789.6 1816.9C792.4 1817.0 795.3 1817.1 798.1 1817.3C801.0 1817.4 803.8 1817.5 806.6 1817.7C809.5 1817.9 812.3 1818.1 815.2 1818.3C818.0 1818.6 820.8 1818.8 823.7 1819.1C826.5 1819.4 829.4 1819.8 832.2 1820.2C835.0 1820.6 837.9 1821.0 840.7 1821.6C843.6 1822.1 846.4 1822.7 849.2 1823.4C852.1 1824.2 854.9 1825.0 857.8 1825.9C860.6 1826.8 863.4 1827.9 866.3 1829.1C869.1 1830.3 872.0 1831.6 874.8 1833.2C877.6 1834.8 880.5 1836.5 883.3 1838.5C886.2 1840.5 889.0 1842.7 891.8 1845.2C894.7 1847.8 897.5 1850.5 900.4 1853.6C903.2 1856.7 906.0 1860.1 908.9 1863.8C911.7 1867.5 914.6 1871.6 917.4 1876.0C920.2 1880.3 923.1 1885.1 925.9 1890.0C928.8 1894.9 931.6 1900.2 934.4 1905.7C937.3 1911.1 940.1 1916.8 943.0 1922.5C945.8 1928.2 948.6 1934.1 951.5 1939.8C954.3 1945.6 957.2 1951.4 960.0 1957.0C962.8 1962.6 965.7 1968.1 968.5 1973.3C971.4 1978.4 974.2 1983.4 977.0 1988.1C979.9 1992.7 982.7 1997.1 985.6 2001.1C988.4 2005.1 991.2 2008.8 994.1 2012.2C996.9 2015.6 999.8 2018.6 1002.6 2021.4C1005.4 2024.2 1008.3 2026.6 1011.1 2028.9C1014.0 2031.1 1016.8 2033.0 1019.6 2034.8C1022.5 2036.6 1025.3 2038.1 1028.2 2039.4C1031.0 2040.8 1033.8 2042.0 1036.7 2043.0C1039.5 2044.1 1042.4 2045.0 1045.2 2045.8C1048.0 2046.6 1050.9 2047.3 1053.7 2047.9C1056.5 2048.5 1059.4 2049.0 1062.2 2049.5C1065.1 2050.0 1067.9 2050.4 1070.7 2050.7C1073.6 2051.1 1076.4 2051.4 1079.3 2051.6C1082.1 2051.9 1086.4 2052.2 1087.8 2052.3" fill="none" stroke="#e03a2c" stroke-width="2.5"/>
<path d="M661.8 1803.2C663.2 1803.2 667.5 1803.2 670.3 1803.2C673.2 1803.2 676.0 1803.2 678.9 1803.2C681.7 1803.2 684.5 1803.2 687.4 1803.2C690.2 1803.2 693.1 1803.2 695.9 1803.2C698.7 1803.2 701.6 1803.2 704.4 1803.2C707.3 1803.2 710.1 1803.2 712.9 1803.2C715.8 1803.2 718.6 1803.2 721.5 1803.2C724.3 1803.2 727.1 1803.2 730.0 1803.2C732.8 1803.2 735.7 1803.2 738.5 1803.2C741.3 1803.2 744.2 1803.2 747.0 1803.2C749.9 1803.2 752.7 1803.2 755.5 1803.2C758.4 1803.2 761.2 1803.2 764.0 1803.2C766.9 1803.2 769.7 1803.2 772.6 1803.2C775.4 1803.2 778.2 1803.2 781.1 1803.2C783.9 1803.2 786.8 1803.3 789.6 1803.3C792.4 1803.3 795.3 1803.3 798.1 1803.3C801.0 1803.3 803.8 1803.3 806.6 1803.3C809.5 1803.3 812.3 1803.3 815.2 1803.3C818.0 1803.4 820.8 1803.4 823.7 1803.4C826.5 1803.4 829.4 1803.4 832.2 1803.5C835.0 1803.5 837.9 1803.6 840.7 1803.6C843.6 1803.7 846.4 1803.7 849.2 1803.8C852.1 1803.9 854.9 1804.0 857.8 1804.1C860.6 1804.2 863.4 1804.4 866.3 1804.6C869.1 1804.8 872.0 1805.0 874.8 1805.3C877.6 1805.6 880.5 1805.9 883.3 1806.3C886.2 1806.8 889.0 1807.2 891.8 1807.9C894.7 1808.6 897.5 1809.3 900.4 1810.3C903.2 1811.2 906.0 1812.3 908.9 1813.8C911.7 1815.2 914.6 1816.8 917.4 1818.9C920.2 1821.0 923.1 1823.3 925.9 1826.3C928.8 1829.2 931.6 1832.6 934.4 1836.6C937.3 1840.7 940.1 1845.3 943.0 1850.7C945.8 1856.1 948.6 1862.2 951.5 1868.9C954.3 1875.6 957.2 1883.1 960.0 1891.0C962.8 1898.8 965.7 1907.4 968.5 1915.9C971.4 1924.4 974.2 1933.4 977.0 1941.8C979.9 1950.3 982.7 1958.8 985.6 1966.6C988.4 1974.3 991.2 1981.7 994.1 1988.3C996.9 1994.9 999.8 2000.8 1002.6 2006.1C1005.4 2011.3 1008.3 2015.8 1011.1 2019.7C1014.0 2023.7 1016.8 2026.9 1019.6 2029.8C1022.5 2032.6 1025.3 2034.9 1028.2 2036.9C1031.0 2038.9 1033.8 2040.4 1036.7 2041.8C1039.5 2043.2 1042.4 2044.3 1045.2 2045.2C1048.0 2046.1 1050.9 2046.8 1053.7 2047.5C1056.5 2048.1 1059.4 2048.6 1062.2 2049.0C1065.1 2049.4 1067.9 2049.7 1070.7 2050.0C1073.6 2050.3 1076.4 2050.5 1079.3 2050.7C1082.1 2050.8 1086.4 2051.0 1087.8 2051.1" fill="none" stroke="#000" stroke-width="2.5"/>
<path d="M661.8 1783.3V2065.2H1087.7" fill="none" stroke="#000" stroke-width="2.3" stroke-linejoin="miter"/>
<line x1="661.8" y1="2065.2" x2="661.8" y2="2072.7" stroke="#000" stroke-width="2.2"/>
<text x="661.8" y="2091.4" font-size="21.5" text-anchor="middle">0</text>
<line x1="747.0" y1="2065.2" x2="747.0" y2="2072.7" stroke="#000" stroke-width="2.2"/>
<text x="747.0" y="2091.4" font-size="21.5" text-anchor="middle">1</text>
<line x1="832.2" y1="2065.2" x2="832.2" y2="2072.7" stroke="#000" stroke-width="2.2"/>
<text x="832.2" y="2091.4" font-size="21.5" text-anchor="middle">10</text>
<line x1="917.0" y1="2065.2" x2="917.0" y2="2072.7" stroke="#000" stroke-width="2.2"/>
<text x="917.0" y="2091.4" font-size="21.5" text-anchor="middle">100</text>
<line x1="1001.8" y1="2065.2" x2="1001.8" y2="2072.7" stroke="#000" stroke-width="2.2"/>
<text x="1001.8" y="2091.4" font-size="21.5" text-anchor="middle">1000</text>
<line x1="1086.7" y1="2065.2" x2="1086.7" y2="2072.7" stroke="#000" stroke-width="2.2"/>
<text x="1086.7" y="2091.4" font-size="21.5" text-anchor="middle">10000</text>
<line x1="654.3" y1="1808.8" x2="661.8" y2="1808.8" stroke="#000" stroke-width="2.2"/>
<text x="656.3" y="1816.4" font-size="21.5" text-anchor="end">100</text>
<line x1="654.3" y1="1860.3" x2="661.8" y2="1860.3" stroke="#000" stroke-width="2.2"/>
<text x="656.3" y="1867.9" font-size="21.5" text-anchor="end">80</text>
<line x1="654.3" y1="1911.5" x2="661.8" y2="1911.5" stroke="#000" stroke-width="2.2"/>
<text x="656.3" y="1919.1" font-size="21.5" text-anchor="end">60</text>
<line x1="654.3" y1="1962.7" x2="661.8" y2="1962.7" stroke="#000" stroke-width="2.2"/>
<text x="656.3" y="1970.3" font-size="21.5" text-anchor="end">40</text>
<line x1="654.3" y1="2013.9" x2="661.8" y2="2013.9" stroke="#000" stroke-width="2.2"/>
<text x="656.3" y="2021.5" font-size="21.5" text-anchor="end">20</text>
<line x1="654.3" y1="2065.2" x2="661.8" y2="2065.2" stroke="#000" stroke-width="2.2"/>
<text x="656.3" y="2072.8" font-size="21.5" text-anchor="end">0</text>
<path d="M747.0 1810.7V1823.9M740.8 1810.7h12.4M740.8 1823.9h12.4" stroke="#e03a2c" stroke-width="2.3" fill="none"/>
<circle cx="747.0" cy="1817.1" r="5.6" fill="#e03a2c"/>
<path d="M832.2 1819.0V1832.5M826.0 1819.0h12.4M826.0 1832.5h12.4" stroke="#e03a2c" stroke-width="2.3" fill="none"/>
<circle cx="832.2" cy="1825.7" r="5.6" fill="#e03a2c"/>
<path d="M917.0 1863.3V1878.3M910.8 1863.3h12.4M910.8 1878.3h12.4" stroke="#e03a2c" stroke-width="2.3" fill="none"/>
<circle cx="917.0" cy="1870.8" r="5.6" fill="#e03a2c"/>
<circle cx="1001.8" cy="2024.6" r="5.6" fill="#e03a2c"/>
<circle cx="1086.7" cy="2051.7" r="5.6" fill="#e03a2c"/>
<path d="M661.8 1803.2V1814.5M655.6 1803.2h12.4M655.6 1814.5h12.4" stroke="#000" stroke-width="2.3" fill="none"/>
<circle cx="661.8" cy="1808.8" r="5.6" fill="#000"/>
<path d="M747.0 1788.9V1807.7M740.8 1788.9h12.4M740.8 1807.7h12.4" stroke="#000" stroke-width="2.3" fill="none"/>
<circle cx="747.0" cy="1798.3" r="5.6" fill="#000"/>
<path d="M832.2 1795.0V1807.7M826.0 1795.0h12.4M826.0 1807.7h12.4" stroke="#000" stroke-width="2.3" fill="none"/>
<circle cx="832.2" cy="1801.3" r="5.6" fill="#000"/>
<path d="M917.0 1807.7V1832.1M910.8 1807.7h12.4M910.8 1832.1h12.4" stroke="#000" stroke-width="2.3" fill="none"/>
<circle cx="917.0" cy="1820.1" r="5.6" fill="#000"/>
<circle cx="1001.8" cy="2015.3" r="5.6" fill="#000"/>
<circle cx="1086.7" cy="2049.8" r="5.6" fill="#000"/>
<text x="713.4" y="1921.4" font-size="37.5" fill="#d8402f">***</text>
<text x="712.1" y="1961.6" font-size="25.4">NT gRNA</text>
<text x="712.1" y="1992.0" font-size="25.4" fill="#e03a2c">PARP1 I691T</text>
<text x="874.6" y="2120.3" font-size="22.5" text-anchor="middle">niraparib (nM)</text>
<text x="1185.5" y="1751.8" font-size="38.5" font-weight="bold" fill="#222">d</text>
<text x="1288.7" y="1779.2" font-size="31.5" fill="#111">NT control</text>
<text x="1497.7" y="1779.2" font-size="31.5" fill="#111">PARP1 Y889C</text>
<text x="1724.4" y="1825.0" font-size="31.5" fill="#111">MMS (DNA damage)</text>
<line x1="1287.7" y1="1821.4" x2="1296.1" y2="1821.4" stroke="#111" stroke-width="2.0"/>
<path d="M1326.5 1817.8h15.2M1334.1 1810.2v15.2" stroke="#111" stroke-width="1.9" fill="none"/>
<path d="M1373.9 1815.7h15.2M1381.5 1808.1v15.2" stroke="#111" stroke-width="1.9" fill="none"/>
<path d="M1415.6 1817.8h15.2M1423.2 1810.2v15.2" stroke="#111" stroke-width="1.9" fill="none"/>
<line x1="1506.0" y1="1821.4" x2="1514.4" y2="1821.4" stroke="#111" stroke-width="2.0"/>
<path d="M1544.3 1814.7h15.2M1551.9 1807.1v15.2" stroke="#111" stroke-width="1.9" fill="none"/>
<path d="M1591.8 1813.6h15.2M1599.4 1806.0v15.2" stroke="#111" stroke-width="1.9" fill="none"/>
<path d="M1638.7 1815.7h15.2M1646.3 1808.1v15.2" stroke="#111" stroke-width="1.9" fill="none"/>
<text x="1343.3" y="1943.8" font-size="31.1" fill="#595959" transform="rotate(-90 1343.3 1943.8)">DMSO</text>
<text x="1385.0" y="1943.8" font-size="31.1" fill="#e2641a" transform="rotate(-90 1385.0 1943.8)">olap.</text>
<text x="1432.2" y="1943.8" font-size="31.1" fill="#b3242c" transform="rotate(-90 1432.2 1943.8)">nirap.</text>
<text x="1563.2" y="1943.8" font-size="31.1" fill="#595959" transform="rotate(-90 1563.2 1943.8)">DMSO</text>
<text x="1605.7" y="1943.8" font-size="31.1" fill="#e2641a" transform="rotate(-90 1605.7 1943.8)">olap.</text>
<text x="1653.1" y="1943.8" font-size="31.1" fill="#b3242c" transform="rotate(-90 1653.1 1943.8)">nirap.</text>
<text x="1206.3" y="1942.6" font-size="22.3" fill="#111">kDa</text>
<defs>
<filter id="bl1" filterUnits="userSpaceOnUse" x="1250" y="1950" width="470" height="470"><feGaussianBlur stdDeviation="1.0"/></filter>
<filter id="bl2" filterUnits="userSpaceOnUse" x="1250" y="1950" width="470" height="470"><feGaussianBlur stdDeviation="1.7"/></filter>
<filter id="bl3" filterUnits="userSpaceOnUse" x="1250" y="1950" width="470" height="470"><feGaussianBlur stdDeviation="5"/></filter>
<filter id="nz" filterUnits="userSpaceOnUse" x="1250" y="1950" width="470" height="470"><feTurbulence type="fractalNoise" baseFrequency="0.05" numOctaves="3" seed="7" result="t"/><feColorMatrix in="t" type="matrix" values="0 0 0 0 0.35  0 0 0 0 0.35  0 0 0 0 0.35  0.55 0.55 0.55 0 -0.62"/><feComposite operator="in" in2="SourceGraphic"/></filter>
<filter id="nz2" filterUnits="userSpaceOnUse" x="1250" y="1950" width="470" height="470"><feTurbulence type="fractalNoise" baseFrequency="0.06" numOctaves="3" seed="23" result="t"/><feColorMatrix in="t" type="matrix" values="0 0 0 0 1  0 0 0 0 1  0 0 0 0 1  0.55 0.55 0.55 0 -0.62"/><feComposite operator="in" in2="SourceGraphic"/></filter>
</defs>
<clipPath id="bc1961"><rect x="1260.3" y="1961.0" width="444.1" height="109.8"/></clipPath>
<rect x="1260.3" y="1961.0" width="444.1" height="109.8" fill="#c6c6c6"/>
<g clip-path="url(#bc1961)">
<rect x="1260.3389830508474" y="1961.0169491525423" width="444.0677966101696" height="109.83050847457639" fill="#000" filter="url(#nz)"/><rect x="1260.3389830508474" y="1961.0169491525423" width="444.0677966101696" height="109.83050847457639" fill="#fff" filter="url(#nz2)"/><rect x="1453.5" y="1955" width="24" height="120" fill="#f1f1f1" filter="url(#bl1)"/><rect x="1478" y="1955" width="3.5" height="120" fill="#dcdcdc" filter="url(#bl1)"/><rect x="1668.5" y="1955" width="23" height="120" fill="#e9e9e9" filter="url(#bl1)"/><ellipse cx="1430" cy="1982" rx="14" ry="11" fill="#ececec" filter="url(#bl3)"/><ellipse cx="1281" cy="2030" rx="10" ry="22" fill="#dedede" filter="url(#bl3)"/><ellipse cx="1284" cy="2021" rx="2.6" ry="3.2" fill="#8e8e8e" filter="url(#bl1)"/>
<g filter="url(#bl1)" fill="none" stroke-linecap="round">
<path d="M1319.0 2008.8Q1333.4 2008.8 1347.8 2008.8" stroke="#5c5c5c" stroke-width="2.7" opacity="0.9"/>
<path d="M1363.1 2008.8Q1377.5 2008.8 1391.9 2008.8" stroke="#5c5c5c" stroke-width="2.7" opacity="0.9"/>
<path d="M1408.8 2009.2Q1424.1 2009.5 1439.3 2009.8" stroke="#626262" stroke-width="2.7" opacity="0.9"/>
<path d="M1538.6 2015.9Q1552.2 2022.0 1565.8 2022.0" stroke="#1c1c1c" stroke-width="3.6"/>
<path d="M1582.0 2022.4Q1595.6 2018.5 1609.2 2018.6" stroke="#0c0c0c" stroke-width="4.6"/>
<path d="M1626.8 2021.0Q1640.7 2021.5 1654.6 2022.0" stroke="#4a4a4a" stroke-width="3.0"/>
</g>
</g>
<rect x="1260.3" y="1961.0" width="444.1" height="109.8" fill="none" stroke="#3d3d3d" stroke-width="2.6"/>
<text x="1249.5" y="1993.1" font-size="20.3" text-anchor="end" fill="#111">150</text>
<line x1="1250.0" y1="1985.8" x2="1260.3" y2="1985.8" stroke="#222" stroke-width="1.7"/>
<text x="1249.5" y="2043.9" font-size="20.3" text-anchor="end" fill="#111">100</text>
<line x1="1250.0" y1="2036.6" x2="1260.3" y2="2036.6" stroke="#222" stroke-width="1.7"/>
<text x="1721.8" y="2006.5" font-size="31.5" fill="#111">PARP1</text>
<text x="1721.8" y="2045.0" font-size="31.5" fill="#111">chromatin fraction</text>
<clipPath id="bc2099"><rect x="1260.3" y="2099.3" width="444.1" height="76.3"/></clipPath>
<rect x="1260.3" y="2099.3" width="444.1" height="76.3" fill="#f1f1f1"/>
<g clip-path="url(#bc2099)">
<path d="M1365 2102l5 28M1390 2143q2 -30 22 -36M1411 2120l6 10l5 -8l4 6" stroke="#b5b5b5" stroke-width="1.2" fill="none" filter="url(#bl1)"/>
<g filter="url(#bl2)" fill="none" stroke-linecap="round">
<path d="M1278.3 2145.4Q1296.9 2145.4 1315.6 2145.4" stroke="#2a2a2a" stroke-width="9.4" opacity="0.95"/>
<path d="M1327.5 2146.1Q1344.9 2146.1 1362.4 2146.1" stroke="#0a0a0a" stroke-width="9.8"/>
<path d="M1372.5 2146.4Q1389.5 2146.4 1406.4 2146.4" stroke="#080808" stroke-width="9.8"/>
<path d="M1417.3 2146.1Q1437.3 2146.1 1457.3 2146.1" stroke="#0a0a0a" stroke-width="9.4"/>
<path d="M1496.9 2145.1Q1516.4 2145.1 1535.9 2145.1" stroke="#060606" stroke-width="10.2"/>
<path d="M1546.1 2143.4Q1563.9 2143.1 1581.7 2142.7" stroke="#060606" stroke-width="10.2"/>
<path d="M1590.2 2142.0Q1607.1 2141.9 1624.1 2141.7" stroke="#060606" stroke-width="9.8"/>
<path d="M1634.2 2140.7Q1653.2 2139.8 1672.2 2139.0" stroke="#060606" stroke-width="9.8"/>
<path d="M1283.4 2165.1Q1298.6 2165.1 1313.9 2165.1" stroke="#a8a8a8" stroke-width="3.2" opacity="0.9"/>
<path d="M1376.6 2165.4Q1390.2 2165.4 1403.7 2165.4" stroke="#a0a0a0" stroke-width="3.5" opacity="0.9"/>
<path d="M1330.8 2164.4Q1343.6 2164.4 1356.3 2164.4" stroke="#dadada" stroke-width="2.5" opacity="0.9"/>
</g>
</g>
<rect x="1260.3" y="2099.3" width="444.1" height="76.3" fill="none" stroke="#3d3d3d" stroke-width="2.6"/>
<text x="1244.4" y="2153.4" font-size="20.3" text-anchor="end" fill="#111">15</text>
<line x1="1252.7" y1="2146.1" x2="1260.3" y2="2146.1" stroke="#222" stroke-width="1.7"/>
<text x="1721.8" y="2129.3" font-size="31.5" fill="#111">histone H3</text>
<text x="1721.8" y="2168.4" font-size="31.5" fill="#111">chromatin fraction</text>
<clipPath id="bc2206"><rect x="1260.3" y="2206.9" width="443.4" height="113.6"/></clipPath>
<rect x="1260.3" y="2206.9" width="443.4" height="113.6" fill="#f3f3f3"/>
<g clip-path="url(#bc2206)">
<g filter="url(#bl2)" fill="none" stroke-linecap="round">
<path d="M1379.3 2242.2Q1391.9 2242.5 1404.4 2242.9" stroke="#8a8a8a" stroke-width="3.2" opacity="0.95"/>
<path d="M1424.7 2242.9Q1437.6 2242.2 1450.5 2241.5" stroke="#8a8a8a" stroke-width="3.2" opacity="0.95"/>
<path d="M1590.8 2240.8Q1603.2 2240.8 1615.6 2240.8" stroke="#959595" stroke-width="3.0" opacity="0.95"/>
<path d="M1634.9 2241.5Q1648.1 2242.4 1661.4 2243.2" stroke="#858585" stroke-width="3.2" opacity="0.95"/>
<path d="M1380.7 2287.3Q1393.9 2287.5 1407.1 2287.6" stroke="#8c8c8c" stroke-width="4.0" opacity="0.95"/>
<path d="M1426.8 2289.0Q1439.5 2289.3 1452.2 2289.7" stroke="#909090" stroke-width="4.0" opacity="0.95"/>
<path d="M1591.9 2286.6Q1604.2 2286.8 1616.6 2286.9" stroke="#b0b0b0" stroke-width="3.4" opacity="0.95"/>
<path d="M1634.9 2289.3Q1646.4 2291.4 1658.0 2293.4" stroke="#888" stroke-width="4.0" opacity="0.95"/>
</g>
<g filter="url(#bl1)" fill="none" stroke-linecap="round">
<path d="M1291.2 2245.9Q1303.7 2245.3 1316.3 2244.6" stroke="#080808" stroke-width="6.4"/>
<path d="M1335.3 2242.9Q1347.8 2241.7 1360.3 2240.5" stroke="#101010" stroke-width="5.6"/>
<path d="M1498.0 2241.5Q1512.9 2245.2 1527.8 2242.9" stroke="#0a0a0a" stroke-width="6.0"/>
<path d="M1546.1 2241.5Q1559.7 2240.8 1573.2 2240.2" stroke="#3a3a3a" stroke-width="4.0"/>
</g>
</g>
<rect x="1260.3" y="2206.9" width="443.4" height="113.6" fill="none" stroke="#3d3d3d" stroke-width="2.6"/>
<text x="1249.5" y="2235.6" font-size="20.3" text-anchor="end" fill="#111">150</text>
<line x1="1250.0" y1="2228.3" x2="1260.3" y2="2228.3" stroke="#222" stroke-width="1.7"/>
<text x="1249.5" y="2271.9" font-size="20.3" text-anchor="end" fill="#111">100</text>
<line x1="1250.0" y1="2264.6" x2="1260.3" y2="2264.6" stroke="#222" stroke-width="1.7"/>
<text x="1206.0" y="2300.2" font-size="27.5" fill="#111" letter-spacing="1.3">cl.</text>
<path d="M1243.5 2283.5L1259 2290.6L1243.5 2297.8z" fill="#444"/>
<line x1="1240.5" y1="2290.6" x2="1244.0" y2="2290.6" stroke="#444" stroke-width="1.5"/>
<text x="1721.8" y="2251.3" font-size="31.5" fill="#111">PARP1</text>
<text x="1721.8" y="2289.3" font-size="31.5" fill="#111">soluble fraction</text>
<clipPath id="bc2348"><rect x="1259.0" y="2348.3" width="443.7" height="58.6"/></clipPath>
<rect x="1259.0" y="2348.3" width="443.7" height="58.6" fill="#c9c9c9"/>
<g clip-path="url(#bc2348)">
<rect x="1258.9830508474577" y="2348.3050847457625" width="443.7288135593219" height="58.644067796610216" fill="#fff" filter="url(#nz2)" opacity="0.7"/><rect x="1263" y="2350" width="20" height="60" fill="#e6e6e6" filter="url(#bl3)"/><rect x="1282" y="2394" width="50" height="16" fill="#8a8a8a" filter="url(#bl3)" opacity="0.5"/><rect x="1480" y="2356" width="18" height="50" fill="#e2e2e2" filter="url(#bl3)"/><rect x="1672" y="2356" width="26" height="50" fill="#dcdcdc" filter="url(#bl3)"/>
<g filter="url(#bl2)" fill="none" stroke-linecap="round">
<path d="M1298.6 2357.8Q1310.5 2357.6 1322.4 2357.5" stroke="#3a3a3a" stroke-width="3.6"/>
<path d="M1341.0 2358.1Q1353.7 2357.6 1366.4 2357.1" stroke="#858585" stroke-width="3.0"/>
<path d="M1386.1 2357.5Q1398.8 2356.8 1411.5 2356.1" stroke="#555" stroke-width="3.4"/>
<path d="M1430.8 2356.8Q1443.6 2356.4 1456.3 2356.1" stroke="#8a8a8a" stroke-width="3.0"/>
<path d="M1498.6 2354.7Q1514.7 2354.6 1530.8 2354.4" stroke="#2a2a2a" stroke-width="3.6"/>
<path d="M1549.5 2356.1Q1559.7 2356.1 1569.8 2356.1" stroke="#b0b0b0" stroke-width="2.4"/>
<path d="M1298.6 2385.6Q1311.9 2385.8 1325.1 2385.9" stroke="#0c0c0c" stroke-width="5.0"/>
<path d="M1342.0 2385.9Q1355.6 2385.4 1369.2 2384.9" stroke="#4a4a4a" stroke-width="4.0"/>
<path d="M1386.8 2385.6Q1400.0 2384.7 1413.2 2383.9" stroke="#3a3a3a" stroke-width="4.2"/>
<path d="M1431.5 2381.9Q1444.4 2381.9 1457.3 2381.9" stroke="#666" stroke-width="3.8"/>
<path d="M1505.4 2379.8Q1519.8 2379.8 1534.2 2379.8" stroke="#060606" stroke-width="5.6"/>
<path d="M1550.2 2378.8Q1563.4 2379.0 1576.6 2379.2" stroke="#2e2e2e" stroke-width="4.2"/>
<path d="M1592.2 2378.5Q1604.4 2378.8 1616.6 2379.2" stroke="#333" stroke-width="4.2"/>
<path d="M1632.5 2380.5Q1645.8 2381.0 1659.0 2381.5" stroke="#333" stroke-width="4.4"/>
</g>
</g>
<rect x="1259.0" y="2348.3" width="443.7" height="58.6" fill="none" stroke="#444" stroke-width="3.2"/>
<text x="1234.9" y="2361.0" font-size="20.3" text-anchor="end" fill="#111">75</text>
<line x1="1249.3" y1="2353.7" x2="1258.0" y2="2353.7" stroke="#222" stroke-width="1.7"/>
<text x="1721.8" y="2372.7" font-size="31.5" fill="#111">lamin A/C</text>
<text x="1721.8" y="2411.8" font-size="31.5" fill="#111">solube fraction</text>
<text x="7.0" y="2245.7" font-size="38" font-weight="bold" fill="#222">e</text>
<text x="25.5" y="2468.8" font-size="24.2" text-anchor="middle" transform="rotate(-90 25.5 2468.8)">PARP1 trapping</text>
<text x="55.5" y="2468.8" font-size="24.2" text-anchor="middle" transform="rotate(-90 55.5 2468.8)">(average mean intensity)</text>
<path d="M119.3 2556.5C120.6 2556.1 124.4 2555.1 126.9 2554.3C129.4 2553.6 131.9 2552.9 134.5 2552.1C137.0 2551.4 139.5 2550.7 142.0 2550.0C144.6 2549.2 147.1 2548.5 149.6 2547.9C152.1 2547.2 154.7 2546.5 157.2 2545.9C159.7 2545.3 162.3 2544.7 164.8 2544.1C167.3 2543.5 169.8 2543.0 172.4 2542.5C174.9 2542.0 177.4 2541.6 179.9 2541.1C182.5 2540.7 185.0 2540.3 187.5 2540.0C190.0 2539.6 192.6 2539.3 195.1 2539.0C197.6 2538.7 200.2 2538.5 202.7 2538.2C205.2 2538.0 207.7 2537.8 210.3 2537.6C212.8 2537.4 215.3 2537.2 217.8 2537.1C220.4 2536.9 222.9 2536.8 225.4 2536.6C227.9 2536.5 230.5 2536.4 233.0 2536.3C235.5 2536.2 238.1 2536.1 240.6 2536.1C243.1 2536.0 245.6 2535.9 248.2 2535.9C250.7 2535.8 253.2 2535.7 255.7 2535.7C258.3 2535.6 260.8 2535.6 263.3 2535.6C265.8 2535.5 268.4 2535.5 270.9 2535.5C273.4 2535.4 276.0 2535.4 278.5 2535.4C281.0 2535.4 283.5 2535.4 286.1 2535.3C288.6 2535.3 291.1 2535.3 293.6 2535.3C296.2 2535.3 298.7 2535.3 301.2 2535.3C303.7 2535.2 306.3 2535.2 308.8 2535.2C311.3 2535.2 313.9 2535.2 316.4 2535.2C318.9 2535.2 321.4 2535.2 324.0 2535.2C326.5 2535.2 329.0 2535.2 331.5 2535.2C334.1 2535.2 336.6 2535.2 339.1 2535.2C341.6 2535.2 344.2 2535.2 346.7 2535.2C349.2 2535.2 351.8 2535.2 354.3 2535.2C356.8 2535.2 359.3 2535.1 361.9 2535.1C364.4 2535.1 366.9 2535.1 369.4 2535.1C372.0 2535.1 374.5 2535.1 377.0 2535.1C379.5 2535.1 382.1 2535.1 384.6 2535.1C387.1 2535.1 389.7 2535.1 392.2 2535.1C394.7 2535.1 397.2 2535.1 399.8 2535.1C402.3 2535.1 404.8 2535.1 407.3 2535.1C409.9 2535.1 412.4 2535.1 414.9 2535.1C417.4 2535.1 420.0 2535.1 422.5 2535.1C425.0 2535.1 427.6 2535.1 430.1 2535.1C432.6 2535.1 435.1 2535.1 437.7 2535.1C440.2 2535.1 442.7 2535.1 445.2 2535.1C447.8 2535.1 450.3 2535.1 452.8 2535.1C455.3 2535.1 457.9 2535.1 460.4 2535.1C462.9 2535.1 465.5 2535.1 468.0 2535.1C470.5 2535.1 473.0 2535.1 475.6 2535.1C478.1 2535.1 480.6 2535.1 483.1 2535.1C485.7 2535.1 488.2 2535.1 490.7 2535.1C493.2 2535.1 497.0 2535.1 498.3 2535.1" fill="none" stroke="#e8963c" stroke-width="2.5"/>
<path d="M119.3 2570.9C120.6 2570.9 124.4 2570.9 126.9 2570.9C129.4 2570.9 131.9 2570.9 134.5 2570.9C137.0 2570.9 139.5 2570.9 142.0 2570.9C144.6 2570.9 147.1 2570.9 149.6 2570.9C152.1 2570.9 154.7 2570.9 157.2 2570.9C159.7 2570.9 162.3 2570.9 164.8 2570.9C167.3 2570.9 169.8 2570.9 172.4 2570.9C174.9 2570.9 177.4 2570.9 179.9 2570.9C182.5 2570.9 185.0 2570.9 187.5 2570.9C190.0 2570.9 192.6 2570.9 195.1 2570.9C197.6 2570.9 200.2 2570.9 202.7 2570.9C205.2 2570.9 207.7 2570.9 210.3 2570.9C212.8 2570.9 215.3 2570.9 217.8 2570.9C220.4 2570.9 222.9 2570.8 225.4 2570.8C227.9 2570.8 230.5 2570.8 233.0 2570.8C235.5 2570.8 238.1 2570.8 240.6 2570.8C243.1 2570.8 245.6 2570.7 248.2 2570.7C250.7 2570.7 253.2 2570.7 255.7 2570.7C258.3 2570.6 260.8 2570.6 263.3 2570.6C265.8 2570.5 268.4 2570.5 270.9 2570.5C273.4 2570.4 276.0 2570.4 278.5 2570.3C281.0 2570.3 283.5 2570.2 286.1 2570.2C288.6 2570.1 291.1 2570.0 293.6 2570.0C296.2 2569.9 298.7 2569.8 301.2 2569.7C303.7 2569.6 306.3 2569.5 308.8 2569.3C311.3 2569.2 313.9 2569.1 316.4 2568.9C318.9 2568.7 321.4 2568.6 324.0 2568.4C326.5 2568.1 329.0 2567.9 331.5 2567.7C334.1 2567.4 336.6 2567.1 339.1 2566.8C341.6 2566.4 344.2 2566.1 346.7 2565.7C349.2 2565.2 351.8 2564.8 354.3 2564.3C356.8 2563.7 359.3 2563.2 361.9 2562.5C364.4 2561.9 366.9 2561.2 369.4 2560.4C372.0 2559.6 374.5 2558.7 377.0 2557.8C379.5 2556.8 382.1 2555.8 384.6 2554.6C387.1 2553.4 389.7 2552.2 392.2 2550.8C394.7 2549.4 397.2 2547.9 399.8 2546.3C402.3 2544.7 404.8 2543.0 407.3 2541.1C409.9 2539.3 412.4 2537.3 414.9 2535.3C417.4 2533.2 420.0 2531.1 422.5 2528.8C425.0 2526.6 427.6 2524.2 430.1 2521.8C432.6 2519.5 435.1 2517.0 437.7 2514.5C440.2 2512.1 442.7 2509.6 445.2 2507.1C447.8 2504.7 450.3 2502.2 452.8 2499.8C455.3 2497.4 457.9 2495.1 460.4 2492.8C462.9 2490.6 465.5 2488.4 468.0 2486.3C470.5 2484.2 473.0 2482.2 475.6 2480.4C478.1 2478.5 480.6 2476.8 483.1 2475.2C485.7 2473.5 488.2 2472.0 490.7 2470.6C493.2 2469.2 497.0 2467.4 498.3 2466.8" fill="none" stroke="#000" stroke-width="2.5"/>
<path d="M119.3 2316.2V2620.0H576.3" fill="none" stroke="#000" stroke-width="4.4" stroke-linejoin="miter"/>
<line x1="105.3" y1="2318.9" x2="119.3" y2="2318.9" stroke="#000" stroke-width="4"/>
<text x="100.8" y="2326.8" font-size="22.2" text-anchor="end">2.0</text>
<line x1="111.3" y1="2381.7" x2="119.3" y2="2381.7" stroke="#000" stroke-width="4"/>
<line x1="105.3" y1="2444.6" x2="119.3" y2="2444.6" stroke="#000" stroke-width="4"/>
<text x="100.8" y="2452.5" font-size="22.2" text-anchor="end">1.5</text>
<line x1="111.3" y1="2507.6" x2="119.3" y2="2507.6" stroke="#000" stroke-width="4"/>
<line x1="105.3" y1="2570.7" x2="119.3" y2="2570.7" stroke="#000" stroke-width="4"/>
<text x="100.8" y="2578.6" font-size="22.2" text-anchor="end">1.0</text>
<text x="119.3" y="2659.3" font-size="22.2" text-anchor="middle">-10</text>
<text x="195.1" y="2659.3" font-size="22.2" text-anchor="middle">-9</text>
<text x="270.9" y="2659.3" font-size="22.2" text-anchor="middle">-8</text>
<text x="346.7" y="2659.3" font-size="22.2" text-anchor="middle">-7</text>
<text x="422.5" y="2659.3" font-size="22.2" text-anchor="middle">-6</text>
<text x="498.3" y="2659.3" font-size="22.2" text-anchor="middle">-5</text>
<text x="574.1" y="2659.3" font-size="22.2" text-anchor="middle">-4</text>
<path d="M119.3 2620.0v15M142.1 2620.0v9M155.5 2620.0v9M164.9 2620.0v9M172.3 2620.0v9M178.3 2620.0v9M183.4 2620.0v9M187.8 2620.0v9M191.6 2620.0v9M195.1 2620.0v15M217.9 2620.0v9M231.3 2620.0v9M240.7 2620.0v9M248.1 2620.0v9M254.1 2620.0v9M259.2 2620.0v9M263.6 2620.0v9M267.4 2620.0v9M270.9 2620.0v15M293.7 2620.0v9M307.1 2620.0v9M316.5 2620.0v9M323.9 2620.0v9M329.9 2620.0v9M335.0 2620.0v9M339.4 2620.0v9M343.2 2620.0v9M346.7 2620.0v15M369.5 2620.0v9M382.9 2620.0v9M392.3 2620.0v9M399.7 2620.0v9M405.7 2620.0v9M410.8 2620.0v9M415.2 2620.0v9M419.0 2620.0v9M422.5 2620.0v15M445.3 2620.0v9M458.7 2620.0v9M468.1 2620.0v9M475.5 2620.0v9M481.5 2620.0v9M486.6 2620.0v9M491.0 2620.0v9M494.8 2620.0v9M498.3 2620.0v15M521.1 2620.0v9M534.5 2620.0v9M543.9 2620.0v9M551.3 2620.0v9M557.3 2620.0v9M562.4 2620.0v9M566.8 2620.0v9M570.6 2620.0v9M574.1 2620.0v15" stroke="#000" stroke-width="4.5" fill="none"/>
<circle cx="194.8" cy="2539.2" r="6.1" fill="none" stroke="#e8963c" stroke-width="2.5"/>
<circle cx="270.6" cy="2539.2" r="6.1" fill="none" stroke="#e8963c" stroke-width="2.5"/>
<circle cx="346.4" cy="2546.3" r="6.1" fill="none" stroke="#e8963c" stroke-width="2.5"/>
<path d="M422.6 2517.8V2550.8M416.0 2517.8h13.2M416.0 2550.8h13.2" stroke="#e8963c" stroke-width="2.4" fill="none"/>
<circle cx="422.6" cy="2530.9" r="6.1" fill="none" stroke="#e8963c" stroke-width="2.5"/>
<path d="M498.4 2511.0V2532.0M491.8 2511.0h13.2M491.8 2532.0h13.2" stroke="#e8963c" stroke-width="2.4" fill="none"/>
<circle cx="498.4" cy="2521.5" r="6.1" fill="none" stroke="#e8963c" stroke-width="2.5"/>
<path d="M194.8 2592.1V2602.2M188.2 2592.1h13.2M188.2 2602.2h13.2" stroke="#000" stroke-width="2.4" fill="none"/>
<circle cx="194.8" cy="2596.6" r="6.1" fill="none" stroke="#000" stroke-width="2.5"/>
<circle cx="270.6" cy="2591.0" r="6.1" fill="none" stroke="#000" stroke-width="2.5"/>
<path d="M346.4 2578.6V2592.8M339.8 2578.6h13.2M339.8 2592.8h13.2" stroke="#000" stroke-width="2.4" fill="none"/>
<circle cx="346.4" cy="2585.7" r="6.1" fill="none" stroke="#000" stroke-width="2.5"/>
<path d="M422.6 2517.8V2540.3M416.0 2517.8h13.2M416.0 2540.3h13.2" stroke="#000" stroke-width="2.4" fill="none"/>
<circle cx="422.6" cy="2529.8" r="6.1" fill="none" stroke="#000" stroke-width="2.5"/>
<path d="M498.4 2449.1V2486.6M491.8 2449.1h13.2M491.8 2486.6h13.2" stroke="#000" stroke-width="2.4" fill="none"/>
<circle cx="498.4" cy="2467.9" r="6.1" fill="none" stroke="#000" stroke-width="2.5"/>
<text x="347.0" y="2278.3" font-size="28.5" text-anchor="middle">PARP1 trapping (olaparib)</text>
<text x="347.2" y="2695.3" font-size="24.2" text-anchor="middle" style="white-space:pre">Log[M],  olaparib</text>
<text x="179.0" y="2356.4" font-size="25.4">NT gRNA</text>
<text x="179.0" y="2386.4" font-size="25.4" fill="#e8963c">PARP1 Y889C</text>
<path d="M642.6 2545.0C643.9 2545.0 647.7 2545.0 650.2 2545.0C652.7 2545.0 655.2 2545.0 657.8 2545.0C660.3 2545.0 662.8 2544.9 665.3 2544.9C667.9 2544.9 670.4 2544.9 672.9 2544.9C675.4 2544.9 678.0 2544.9 680.5 2544.9C683.0 2544.9 685.6 2544.9 688.1 2544.9C690.6 2544.9 693.1 2544.9 695.7 2544.9C698.2 2544.9 700.7 2544.9 703.2 2544.9C705.8 2544.9 708.3 2544.9 710.8 2544.9C713.3 2544.8 715.9 2544.8 718.4 2544.8C720.9 2544.8 723.5 2544.8 726.0 2544.8C728.5 2544.8 731.0 2544.7 733.6 2544.7C736.1 2544.7 738.6 2544.7 741.1 2544.6C743.7 2544.6 746.2 2544.6 748.7 2544.5C751.2 2544.5 753.8 2544.4 756.3 2544.4C758.8 2544.3 761.4 2544.3 763.9 2544.2C766.4 2544.1 768.9 2544.1 771.5 2544.0C774.0 2543.9 776.5 2543.8 779.0 2543.6C781.6 2543.5 784.1 2543.4 786.6 2543.2C789.1 2543.1 791.7 2542.9 794.2 2542.7C796.7 2542.5 799.3 2542.2 801.8 2542.0C804.3 2541.7 806.8 2541.4 809.4 2541.0C811.9 2540.7 814.4 2540.3 816.9 2539.9C819.5 2539.4 822.0 2538.9 824.5 2538.3C827.0 2537.8 829.6 2537.2 832.1 2536.5C834.6 2535.8 837.2 2535.0 839.7 2534.1C842.2 2533.3 844.7 2532.3 847.3 2531.3C849.8 2530.3 852.3 2529.2 854.8 2528.0C857.4 2526.8 859.9 2525.5 862.4 2524.1C864.9 2522.7 867.5 2521.3 870.0 2519.8C872.5 2518.3 875.1 2516.7 877.6 2515.1C880.1 2513.5 882.6 2511.9 885.2 2510.3C887.7 2508.7 890.2 2507.0 892.7 2505.4C895.3 2503.9 897.8 2502.3 900.3 2500.8C902.8 2499.3 905.4 2497.8 907.9 2496.5C910.4 2495.1 913.0 2493.8 915.5 2492.6C918.0 2491.4 920.5 2490.3 923.1 2489.3C925.6 2488.2 928.1 2487.3 930.6 2486.4C933.2 2485.6 935.7 2484.8 938.2 2484.1C940.7 2483.4 943.3 2482.8 945.8 2482.2C948.3 2481.7 950.9 2481.2 953.4 2480.7C955.9 2480.3 958.4 2479.9 961.0 2479.5C963.5 2479.2 966.0 2478.9 968.5 2478.6C971.1 2478.3 973.6 2478.1 976.1 2477.9C978.6 2477.7 981.2 2477.5 983.7 2477.4C986.2 2477.2 988.8 2477.1 991.3 2476.9C993.8 2476.8 996.3 2476.7 998.9 2476.6C1001.4 2476.5 1003.9 2476.4 1006.4 2476.4C1009.0 2476.3 1011.5 2476.2 1014.0 2476.2C1016.5 2476.1 1020.3 2476.1 1021.6 2476.0" fill="none" stroke="#e03a2c" stroke-width="2.5"/>
<path d="M642.6 2558.5C643.9 2558.2 647.7 2557.4 650.2 2556.8C652.7 2556.1 655.2 2555.4 657.8 2554.6C660.3 2553.8 662.8 2552.9 665.3 2551.9C667.9 2550.9 670.4 2549.8 672.9 2548.6C675.4 2547.4 678.0 2546.0 680.5 2544.5C683.0 2543.0 685.6 2541.4 688.1 2539.6C690.6 2537.9 693.1 2535.9 695.7 2533.9C698.2 2531.8 700.7 2529.6 703.2 2527.3C705.8 2525.0 708.3 2522.5 710.8 2520.0C713.3 2517.4 715.9 2514.7 718.4 2512.0C720.9 2509.3 723.5 2506.5 726.0 2503.8C728.5 2501.0 731.0 2498.2 733.6 2495.4C736.1 2492.7 738.6 2489.9 741.1 2487.3C743.7 2484.7 746.2 2482.1 748.7 2479.7C751.2 2477.2 753.8 2474.9 756.3 2472.7C758.8 2470.5 761.4 2468.5 763.9 2466.6C766.4 2464.7 768.9 2462.9 771.5 2461.3C774.0 2459.7 776.5 2458.2 779.0 2456.9C781.6 2455.5 784.1 2454.3 786.6 2453.2C789.1 2452.1 791.7 2451.1 794.2 2450.2C796.7 2449.3 799.3 2448.5 801.8 2447.8C804.3 2447.1 806.8 2446.5 809.4 2445.9C811.9 2445.4 814.4 2444.9 816.9 2444.4C819.5 2444.0 822.0 2443.6 824.5 2443.3C827.0 2442.9 829.6 2442.6 832.1 2442.4C834.6 2442.1 837.2 2441.9 839.7 2441.7C842.2 2441.4 844.7 2441.3 847.3 2441.1C849.8 2440.9 852.3 2440.8 854.8 2440.7C857.4 2440.6 859.9 2440.5 862.4 2440.4C864.9 2440.3 867.5 2440.2 870.0 2440.1C872.5 2440.0 875.1 2440.0 877.6 2439.9C880.1 2439.9 882.6 2439.8 885.2 2439.8C887.7 2439.7 890.2 2439.7 892.7 2439.7C895.3 2439.6 897.8 2439.6 900.3 2439.6C902.8 2439.6 905.4 2439.5 907.9 2439.5C910.4 2439.5 913.0 2439.5 915.5 2439.5C918.0 2439.4 920.5 2439.4 923.1 2439.4C925.6 2439.4 928.1 2439.4 930.6 2439.4C933.2 2439.4 935.7 2439.4 938.2 2439.4C940.7 2439.4 943.3 2439.4 945.8 2439.4C948.3 2439.3 950.9 2439.3 953.4 2439.3C955.9 2439.3 958.4 2439.3 961.0 2439.3C963.5 2439.3 966.0 2439.3 968.5 2439.3C971.1 2439.3 973.6 2439.3 976.1 2439.3C978.6 2439.3 981.2 2439.3 983.7 2439.3C986.2 2439.3 988.8 2439.3 991.3 2439.3C993.8 2439.3 996.3 2439.3 998.9 2439.3C1001.4 2439.3 1003.9 2439.3 1006.4 2439.3C1009.0 2439.3 1011.5 2439.3 1014.0 2439.3C1016.5 2439.3 1020.3 2439.3 1021.6 2439.3" fill="none" stroke="#000" stroke-width="2.5"/>
<path d="M642.6 2316.2V2620.0H1099.6" fill="none" stroke="#000" stroke-width="4.4" stroke-linejoin="miter"/>
<line x1="628.6" y1="2318.9" x2="642.6" y2="2318.9" stroke="#000" stroke-width="4"/>
<text x="624.1" y="2326.8" font-size="22.2" text-anchor="end">2.0</text>
<line x1="634.6" y1="2381.7" x2="642.6" y2="2381.7" stroke="#000" stroke-width="4"/>
<line x1="628.6" y1="2444.6" x2="642.6" y2="2444.6" stroke="#000" stroke-width="4"/>
<text x="624.1" y="2452.5" font-size="22.2" text-anchor="end">1.5</text>
<line x1="634.6" y1="2507.6" x2="642.6" y2="2507.6" stroke="#000" stroke-width="4"/>
<line x1="628.6" y1="2570.7" x2="642.6" y2="2570.7" stroke="#000" stroke-width="4"/>
<text x="624.1" y="2578.6" font-size="22.2" text-anchor="end">1.0</text>
<text x="642.6" y="2659.3" font-size="22.2" text-anchor="middle">-10</text>
<text x="718.4" y="2659.3" font-size="22.2" text-anchor="middle">-9</text>
<text x="794.2" y="2659.3" font-size="22.2" text-anchor="middle">-8</text>
<text x="870.0" y="2659.3" font-size="22.2" text-anchor="middle">-7</text>
<text x="945.8" y="2659.3" font-size="22.2" text-anchor="middle">-6</text>
<text x="1021.6" y="2659.3" font-size="22.2" text-anchor="middle">-5</text>
<text x="1097.4" y="2659.3" font-size="22.2" text-anchor="middle">-4</text>
<path d="M642.6 2620.0v15M665.4 2620.0v9M678.8 2620.0v9M688.2 2620.0v9M695.6 2620.0v9M701.6 2620.0v9M706.7 2620.0v9M711.1 2620.0v9M714.9 2620.0v9M718.4 2620.0v15M741.2 2620.0v9M754.6 2620.0v9M764.0 2620.0v9M771.4 2620.0v9M777.4 2620.0v9M782.5 2620.0v9M786.9 2620.0v9M790.7 2620.0v9M794.2 2620.0v15M817.0 2620.0v9M830.4 2620.0v9M839.8 2620.0v9M847.2 2620.0v9M853.2 2620.0v9M858.3 2620.0v9M862.7 2620.0v9M866.5 2620.0v9M870.0 2620.0v15M892.8 2620.0v9M906.2 2620.0v9M915.6 2620.0v9M923.0 2620.0v9M929.0 2620.0v9M934.1 2620.0v9M938.5 2620.0v9M942.3 2620.0v9M945.8 2620.0v15M968.6 2620.0v9M982.0 2620.0v9M991.4 2620.0v9M998.8 2620.0v9M1004.8 2620.0v9M1009.9 2620.0v9M1014.3 2620.0v9M1018.1 2620.0v9M1021.6 2620.0v15M1044.4 2620.0v9M1057.8 2620.0v9M1067.2 2620.0v9M1074.6 2620.0v9M1080.6 2620.0v9M1085.7 2620.0v9M1090.1 2620.0v9M1093.9 2620.0v9M1097.4 2620.0v15" stroke="#000" stroke-width="4.5" fill="none"/>
<path d="M718.8 2516.6V2545.9M712.2 2516.6h13.2M712.2 2545.9h13.2" stroke="#e03a2c" stroke-width="2.4" fill="none"/>
<circle cx="718.8" cy="2531.7" r="6.1" fill="none" stroke="#e03a2c" stroke-width="2.5"/>
<path d="M794.6 2502.0V2551.6M788.0 2502.0h13.2M788.0 2551.6h13.2" stroke="#e03a2c" stroke-width="2.4" fill="none"/>
<circle cx="794.6" cy="2527.2" r="6.1" fill="none" stroke="#e03a2c" stroke-width="2.5"/>
<path d="M870.4 2511.0V2547.0M863.8 2511.0h13.2M863.8 2547.0h13.2" stroke="#e03a2c" stroke-width="2.4" fill="none"/>
<circle cx="870.4" cy="2529.0" r="6.1" fill="none" stroke="#e03a2c" stroke-width="2.5"/>
<path d="M946.2 2457.7V2505.4M939.6 2457.7h13.2M939.6 2505.4h13.2" stroke="#e03a2c" stroke-width="2.4" fill="none"/>
<circle cx="946.2" cy="2481.4" r="6.1" fill="none" stroke="#e03a2c" stroke-width="2.5"/>
<path d="M1021.6 2461.5V2494.5M1015.0 2461.5h13.2M1015.0 2494.5h13.2" stroke="#e03a2c" stroke-width="2.4" fill="none"/>
<circle cx="1021.6" cy="2478.4" r="6.1" fill="none" stroke="#e03a2c" stroke-width="2.5"/>
<path d="M718.8 2494.1V2513.3M712.2 2494.1h13.2M712.2 2513.3h13.2" stroke="#000" stroke-width="2.4" fill="none"/>
<circle cx="718.8" cy="2503.9" r="6.1" fill="none" stroke="#000" stroke-width="2.5"/>
<path d="M794.6 2464.5V2487.8M788.0 2464.5h13.2M788.0 2487.8h13.2" stroke="#000" stroke-width="2.4" fill="none"/>
<circle cx="794.6" cy="2476.5" r="6.1" fill="none" stroke="#000" stroke-width="2.5"/>
<path d="M870.4 2451.3V2472.0M863.8 2451.3h13.2M863.8 2472.0h13.2" stroke="#000" stroke-width="2.4" fill="none"/>
<circle cx="870.4" cy="2461.5" r="6.1" fill="none" stroke="#000" stroke-width="2.5"/>
<path d="M946.2 2421.3V2451.0M939.6 2421.3h13.2M939.6 2451.0h13.2" stroke="#000" stroke-width="2.4" fill="none"/>
<circle cx="946.2" cy="2436.3" r="6.1" fill="none" stroke="#000" stroke-width="2.5"/>
<path d="M1021.6 2380.8V2433.3M1015.0 2380.8h13.2M1015.0 2433.3h13.2" stroke="#000" stroke-width="2.4" fill="none"/>
<circle cx="1021.6" cy="2407.1" r="6.1" fill="none" stroke="#000" stroke-width="2.5"/>
<text x="870.8" y="2278.3" font-size="28.5" text-anchor="middle">PARP1 trapping (niraparib)</text>
<text x="870.4" y="2695.3" font-size="24.2" text-anchor="middle" style="white-space:pre">Log[M],  niraparib</text>
<text x="697.7" y="2352.6" font-size="25.4">NT gRNA</text>
<text x="697.7" y="2382.7" font-size="25.4" fill="#e03a2c">PARP1 Y889C</text>
</svg>
</body></html>
